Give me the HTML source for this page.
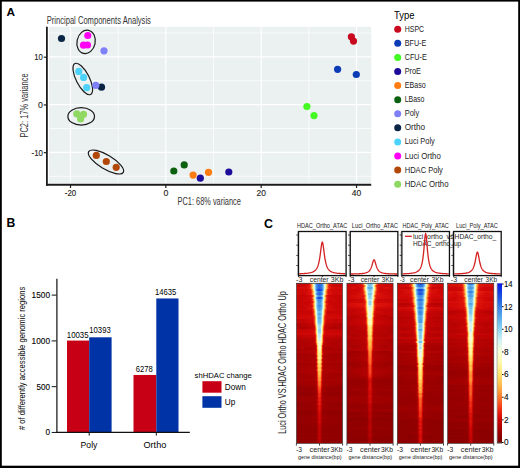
<!DOCTYPE html><html><head><meta charset="utf-8"><style>html,body{margin:0;padding:0;background:#fff;}svg{display:block;font-family:"Liberation Sans",sans-serif;}</style></head><body><svg width="520" height="468" viewBox="0 0 520 468" font-family="Liberation Sans, sans-serif"><defs><linearGradient id="g1" gradientUnits="userSpaceOnUse" x1="319.50" x2="342.60" y1="0" y2="0" spreadMethod="reflect"><stop offset="0.000" stop-color="#2b68e3"/><stop offset="0.087" stop-color="#3377e4"/><stop offset="0.152" stop-color="#5aa9ea"/><stop offset="0.195" stop-color="#9bdbf1"/><stop offset="0.216" stop-color="#d2f3f6"/><stop offset="0.238" stop-color="#f0fbdc"/><stop offset="0.281" stop-color="#ffec86"/><stop offset="0.303" stop-color="#ffd25e"/><stop offset="0.346" stop-color="#fd8531"/><stop offset="0.390" stop-color="#f33d1b"/><stop offset="0.433" stop-color="#e3180d"/><stop offset="0.519" stop-color="#d10906"/><stop offset="1.000" stop-color="#c50504"/></linearGradient><linearGradient id="g2" gradientUnits="userSpaceOnUse" x1="319.50" x2="342.60" y1="0" y2="0" spreadMethod="reflect"><stop offset="0.000" stop-color="#2b67e3"/><stop offset="0.087" stop-color="#3376e4"/><stop offset="0.152" stop-color="#5cacea"/><stop offset="0.173" stop-color="#79c4ee"/><stop offset="0.216" stop-color="#d7f4f2"/><stop offset="0.238" stop-color="#f6fdd7"/><stop offset="0.281" stop-color="#ffe87b"/><stop offset="0.325" stop-color="#fea33e"/><stop offset="0.390" stop-color="#f23619"/><stop offset="0.433" stop-color="#e2160c"/><stop offset="0.606" stop-color="#cc0605"/><stop offset="1.000" stop-color="#c70504"/></linearGradient><linearGradient id="g3" gradientUnits="userSpaceOnUse" x1="319.50" x2="342.60" y1="0" y2="0" spreadMethod="reflect"><stop offset="0.000" stop-color="#2964e3"/><stop offset="0.087" stop-color="#3274e4"/><stop offset="0.152" stop-color="#5aaaea"/><stop offset="0.195" stop-color="#a0ddf2"/><stop offset="0.216" stop-color="#d6f4f3"/><stop offset="0.238" stop-color="#f5fdd8"/><stop offset="0.281" stop-color="#ffe97d"/><stop offset="0.325" stop-color="#fea63f"/><stop offset="0.390" stop-color="#f33c1a"/><stop offset="0.433" stop-color="#e51b0e"/><stop offset="0.519" stop-color="#d70d08"/><stop offset="1.000" stop-color="#d20a07"/></linearGradient><linearGradient id="g4" gradientUnits="userSpaceOnUse" x1="319.50" x2="342.60" y1="0" y2="0" spreadMethod="reflect"><stop offset="0.000" stop-color="#1641e2"/><stop offset="0.065" stop-color="#1a4ae2"/><stop offset="0.108" stop-color="#2d6be3"/><stop offset="0.152" stop-color="#59a8ea"/><stop offset="0.173" stop-color="#81cbef"/><stop offset="0.195" stop-color="#c1ebf5"/><stop offset="0.216" stop-color="#effbdd"/><stop offset="0.238" stop-color="#fef9af"/><stop offset="0.260" stop-color="#ffe673"/><stop offset="0.281" stop-color="#ffbf4d"/><stop offset="0.325" stop-color="#f96426"/><stop offset="0.346" stop-color="#f43f1b"/><stop offset="0.390" stop-color="#e3170d"/><stop offset="0.519" stop-color="#d20a07"/><stop offset="1.000" stop-color="#c90505"/></linearGradient><linearGradient id="g5" gradientUnits="userSpaceOnUse" x1="319.50" x2="342.60" y1="0" y2="0" spreadMethod="reflect"><stop offset="0.000" stop-color="#3375e4"/><stop offset="0.065" stop-color="#387fe4"/><stop offset="0.108" stop-color="#4f9ce8"/><stop offset="0.152" stop-color="#86cfef"/><stop offset="0.173" stop-color="#beeaf4"/><stop offset="0.195" stop-color="#e9fae2"/><stop offset="0.216" stop-color="#fcfaba"/><stop offset="0.238" stop-color="#ffeb83"/><stop offset="0.260" stop-color="#ffca57"/><stop offset="0.303" stop-color="#fb722a"/><stop offset="0.346" stop-color="#ee2d15"/><stop offset="0.390" stop-color="#de130b"/><stop offset="0.606" stop-color="#d00806"/><stop offset="1.000" stop-color="#d00806"/></linearGradient><linearGradient id="g6" gradientUnits="userSpaceOnUse" x1="319.50" x2="342.60" y1="0" y2="0" spreadMethod="reflect"><stop offset="0.000" stop-color="#2862e3"/><stop offset="0.065" stop-color="#2d6ce3"/><stop offset="0.130" stop-color="#57a5e9"/><stop offset="0.152" stop-color="#78c3ed"/><stop offset="0.173" stop-color="#aae1f3"/><stop offset="0.195" stop-color="#e0f7ea"/><stop offset="0.216" stop-color="#fafbc4"/><stop offset="0.238" stop-color="#ffef8e"/><stop offset="0.260" stop-color="#ffd15d"/><stop offset="0.303" stop-color="#fd7a2c"/><stop offset="0.346" stop-color="#f13217"/><stop offset="0.390" stop-color="#e1150c"/><stop offset="0.693" stop-color="#c90505"/><stop offset="1.000" stop-color="#d50c08"/></linearGradient><linearGradient id="g7" gradientUnits="userSpaceOnUse" x1="319.50" x2="342.60" y1="0" y2="0" spreadMethod="reflect"><stop offset="0.000" stop-color="#418ae6"/><stop offset="0.065" stop-color="#4a96e7"/><stop offset="0.108" stop-color="#6dbaec"/><stop offset="0.130" stop-color="#8fd6f0"/><stop offset="0.152" stop-color="#cdf1f6"/><stop offset="0.173" stop-color="#f4fcd9"/><stop offset="0.195" stop-color="#fff7a8"/><stop offset="0.216" stop-color="#ffdf69"/><stop offset="0.260" stop-color="#fd7d2d"/><stop offset="0.281" stop-color="#f64b1f"/><stop offset="0.303" stop-color="#ec2914"/><stop offset="0.325" stop-color="#e1150c"/><stop offset="0.433" stop-color="#cc0605"/><stop offset="1.000" stop-color="#c30504"/></linearGradient><linearGradient id="g8" gradientUnits="userSpaceOnUse" x1="319.50" x2="342.60" y1="0" y2="0" spreadMethod="reflect"><stop offset="0.000" stop-color="#1948e2"/><stop offset="0.065" stop-color="#2055e2"/><stop offset="0.108" stop-color="#3980e4"/><stop offset="0.130" stop-color="#53a1e9"/><stop offset="0.152" stop-color="#7bc6ee"/><stop offset="0.173" stop-color="#bce9f4"/><stop offset="0.195" stop-color="#f0fbdc"/><stop offset="0.216" stop-color="#fff7a8"/><stop offset="0.238" stop-color="#ffdd68"/><stop offset="0.260" stop-color="#ffae43"/><stop offset="0.303" stop-color="#f54a1e"/><stop offset="0.325" stop-color="#ec2914"/><stop offset="0.346" stop-color="#e2160c"/><stop offset="0.433" stop-color="#cf0706"/><stop offset="1.000" stop-color="#c30504"/></linearGradient><linearGradient id="g9" gradientUnits="userSpaceOnUse" x1="319.50" x2="342.60" y1="0" y2="0" spreadMethod="reflect"><stop offset="0.000" stop-color="#3c83e5"/><stop offset="0.065" stop-color="#458ee6"/><stop offset="0.108" stop-color="#64b2eb"/><stop offset="0.130" stop-color="#84cdef"/><stop offset="0.152" stop-color="#bce9f4"/><stop offset="0.173" stop-color="#ebfae1"/><stop offset="0.195" stop-color="#fdf9b4"/><stop offset="0.216" stop-color="#ffe777"/><stop offset="0.238" stop-color="#ffbe4d"/><stop offset="0.281" stop-color="#f75822"/><stop offset="0.303" stop-color="#f03117"/><stop offset="0.325" stop-color="#e41a0d"/><stop offset="0.390" stop-color="#d00806"/><stop offset="1.000" stop-color="#c80504"/></linearGradient><linearGradient id="g10" gradientUnits="userSpaceOnUse" x1="319.50" x2="342.60" y1="0" y2="0" spreadMethod="reflect"><stop offset="0.000" stop-color="#458fe6"/><stop offset="0.065" stop-color="#509ce8"/><stop offset="0.087" stop-color="#5dadea"/><stop offset="0.108" stop-color="#79c4ee"/><stop offset="0.152" stop-color="#def6eb"/><stop offset="0.173" stop-color="#fafbc3"/><stop offset="0.195" stop-color="#ffec86"/><stop offset="0.216" stop-color="#ffc653"/><stop offset="0.260" stop-color="#f75822"/><stop offset="0.281" stop-color="#ee2d15"/><stop offset="0.303" stop-color="#e1150c"/><stop offset="0.390" stop-color="#c90505"/><stop offset="0.606" stop-color="#c80504"/><stop offset="0.693" stop-color="#cc0605"/><stop offset="1.000" stop-color="#bf0403"/></linearGradient><linearGradient id="g11" gradientUnits="userSpaceOnUse" x1="319.50" x2="342.60" y1="0" y2="0" spreadMethod="reflect"><stop offset="0.000" stop-color="#4b97e7"/><stop offset="0.065" stop-color="#54a2e9"/><stop offset="0.108" stop-color="#76c2ed"/><stop offset="0.130" stop-color="#9adaf1"/><stop offset="0.152" stop-color="#d3f3f5"/><stop offset="0.173" stop-color="#f6fdd7"/><stop offset="0.195" stop-color="#fff7a8"/><stop offset="0.216" stop-color="#ffe16b"/><stop offset="0.238" stop-color="#ffb646"/><stop offset="0.281" stop-color="#f65120"/><stop offset="0.303" stop-color="#ee2d15"/><stop offset="0.325" stop-color="#e3170d"/><stop offset="0.433" stop-color="#cd0605"/><stop offset="0.693" stop-color="#c50504"/><stop offset="1.000" stop-color="#cd0605"/></linearGradient><linearGradient id="g12" gradientUnits="userSpaceOnUse" x1="319.50" x2="342.60" y1="0" y2="0" spreadMethod="reflect"><stop offset="0.000" stop-color="#3f88e5"/><stop offset="0.065" stop-color="#4994e7"/><stop offset="0.108" stop-color="#6fbcec"/><stop offset="0.130" stop-color="#97d9f1"/><stop offset="0.152" stop-color="#d6f4f3"/><stop offset="0.173" stop-color="#f8fccf"/><stop offset="0.195" stop-color="#fff297"/><stop offset="0.216" stop-color="#ffd15d"/><stop offset="0.260" stop-color="#fa6927"/><stop offset="0.281" stop-color="#f33a1a"/><stop offset="0.303" stop-color="#e61d0f"/><stop offset="0.346" stop-color="#d30b07"/><stop offset="0.823" stop-color="#c30504"/><stop offset="1.000" stop-color="#c20504"/></linearGradient><linearGradient id="g13" gradientUnits="userSpaceOnUse" x1="319.50" x2="342.60" y1="0" y2="0" spreadMethod="reflect"><stop offset="0.000" stop-color="#4b96e7"/><stop offset="0.065" stop-color="#54a2e9"/><stop offset="0.108" stop-color="#79c4ee"/><stop offset="0.130" stop-color="#a1ddf2"/><stop offset="0.152" stop-color="#d8f5f1"/><stop offset="0.173" stop-color="#f8fccf"/><stop offset="0.195" stop-color="#fff39b"/><stop offset="0.216" stop-color="#ffd662"/><stop offset="0.260" stop-color="#fc742a"/><stop offset="0.281" stop-color="#f5451d"/><stop offset="0.303" stop-color="#ea2612"/><stop offset="0.346" stop-color="#d80e09"/><stop offset="0.693" stop-color="#c80504"/><stop offset="1.000" stop-color="#cc0605"/></linearGradient><linearGradient id="g14" gradientUnits="userSpaceOnUse" x1="319.50" x2="342.60" y1="0" y2="0" spreadMethod="reflect"><stop offset="0.000" stop-color="#519ee8"/><stop offset="0.065" stop-color="#5dadea"/><stop offset="0.087" stop-color="#71beed"/><stop offset="0.108" stop-color="#92d7f0"/><stop offset="0.130" stop-color="#cef1f6"/><stop offset="0.152" stop-color="#f6fdd7"/><stop offset="0.173" stop-color="#fff5a1"/><stop offset="0.195" stop-color="#ffd762"/><stop offset="0.216" stop-color="#fea33e"/><stop offset="0.260" stop-color="#f33b1a"/><stop offset="0.281" stop-color="#e61e0f"/><stop offset="0.346" stop-color="#d20907"/><stop offset="1.000" stop-color="#c60504"/></linearGradient><linearGradient id="g15" gradientUnits="userSpaceOnUse" x1="319.50" x2="342.60" y1="0" y2="0" spreadMethod="reflect"><stop offset="0.000" stop-color="#69b7ec"/><stop offset="0.065" stop-color="#78c3ee"/><stop offset="0.087" stop-color="#8cd4f0"/><stop offset="0.108" stop-color="#b8e7f4"/><stop offset="0.130" stop-color="#e3f8e7"/><stop offset="0.152" stop-color="#fafbc1"/><stop offset="0.173" stop-color="#ffec85"/><stop offset="0.195" stop-color="#ffc552"/><stop offset="0.238" stop-color="#f75321"/><stop offset="0.260" stop-color="#ec2813"/><stop offset="0.281" stop-color="#dd120a"/><stop offset="0.346" stop-color="#c80504"/><stop offset="1.000" stop-color="#c50504"/></linearGradient><linearGradient id="g16" gradientUnits="userSpaceOnUse" x1="319.50" x2="342.60" y1="0" y2="0" spreadMethod="reflect"><stop offset="0.000" stop-color="#57a6e9"/><stop offset="0.065" stop-color="#66b5eb"/><stop offset="0.087" stop-color="#7cc7ee"/><stop offset="0.108" stop-color="#a4dff2"/><stop offset="0.130" stop-color="#dcf6ee"/><stop offset="0.152" stop-color="#f9fbc6"/><stop offset="0.173" stop-color="#ffed89"/><stop offset="0.195" stop-color="#ffc553"/><stop offset="0.238" stop-color="#f75321"/><stop offset="0.260" stop-color="#ec2914"/><stop offset="0.281" stop-color="#df140b"/><stop offset="0.346" stop-color="#cd0605"/><stop offset="1.000" stop-color="#c90605"/></linearGradient><linearGradient id="g17" gradientUnits="userSpaceOnUse" x1="319.50" x2="342.60" y1="0" y2="0" spreadMethod="reflect"><stop offset="0.000" stop-color="#68b6eb"/><stop offset="0.043" stop-color="#6ebbec"/><stop offset="0.065" stop-color="#7cc7ee"/><stop offset="0.087" stop-color="#9cdbf1"/><stop offset="0.108" stop-color="#d4f4f4"/><stop offset="0.130" stop-color="#f7fcd2"/><stop offset="0.152" stop-color="#fff196"/><stop offset="0.173" stop-color="#ffcc59"/><stop offset="0.195" stop-color="#fe9237"/><stop offset="0.216" stop-color="#f75822"/><stop offset="0.238" stop-color="#ee2d15"/><stop offset="0.260" stop-color="#e2160c"/><stop offset="0.346" stop-color="#d20a07"/><stop offset="1.000" stop-color="#cd0605"/></linearGradient><linearGradient id="g18" gradientUnits="userSpaceOnUse" x1="319.50" x2="342.60" y1="0" y2="0" spreadMethod="reflect"><stop offset="0.000" stop-color="#5cacea"/><stop offset="0.043" stop-color="#64b2eb"/><stop offset="0.065" stop-color="#75c1ed"/><stop offset="0.087" stop-color="#98d9f1"/><stop offset="0.108" stop-color="#d7f4f2"/><stop offset="0.130" stop-color="#f9fbc7"/><stop offset="0.152" stop-color="#ffea81"/><stop offset="0.173" stop-color="#ffba49"/><stop offset="0.216" stop-color="#f43e1b"/><stop offset="0.238" stop-color="#e61d0f"/><stop offset="0.303" stop-color="#d30a07"/><stop offset="0.606" stop-color="#d10906"/><stop offset="1.000" stop-color="#d30a07"/></linearGradient><linearGradient id="g19" gradientUnits="userSpaceOnUse" x1="319.50" x2="342.60" y1="0" y2="0" spreadMethod="reflect"><stop offset="0.000" stop-color="#6bb8ec"/><stop offset="0.043" stop-color="#71beed"/><stop offset="0.065" stop-color="#81caef"/><stop offset="0.087" stop-color="#a4dff2"/><stop offset="0.108" stop-color="#daf5ef"/><stop offset="0.130" stop-color="#f9fbc8"/><stop offset="0.152" stop-color="#ffec87"/><stop offset="0.173" stop-color="#ffc14f"/><stop offset="0.195" stop-color="#fd822f"/><stop offset="0.216" stop-color="#f4441d"/><stop offset="0.238" stop-color="#e71f0f"/><stop offset="0.281" stop-color="#d20907"/><stop offset="0.693" stop-color="#c10404"/><stop offset="1.000" stop-color="#c40504"/></linearGradient><linearGradient id="g20" gradientUnits="userSpaceOnUse" x1="319.50" x2="342.60" y1="0" y2="0" spreadMethod="reflect"><stop offset="0.000" stop-color="#6ebbec"/><stop offset="0.043" stop-color="#75c1ed"/><stop offset="0.065" stop-color="#84ceef"/><stop offset="0.087" stop-color="#a9e1f3"/><stop offset="0.108" stop-color="#dcf6ed"/><stop offset="0.130" stop-color="#fafbc5"/><stop offset="0.152" stop-color="#ffeb82"/><stop offset="0.173" stop-color="#ffbd4c"/><stop offset="0.195" stop-color="#fd7d2d"/><stop offset="0.216" stop-color="#f43f1b"/><stop offset="0.238" stop-color="#e41a0e"/><stop offset="0.281" stop-color="#cf0706"/><stop offset="0.693" stop-color="#c30504"/><stop offset="1.000" stop-color="#c90505"/></linearGradient><linearGradient id="g21" gradientUnits="userSpaceOnUse" x1="319.50" x2="342.60" y1="0" y2="0" spreadMethod="reflect"><stop offset="0.000" stop-color="#82ccef"/><stop offset="0.043" stop-color="#89d2f0"/><stop offset="0.065" stop-color="#9edcf2"/><stop offset="0.087" stop-color="#c7eef5"/><stop offset="0.108" stop-color="#ecfae0"/><stop offset="0.130" stop-color="#fdf9b2"/><stop offset="0.152" stop-color="#ffe26c"/><stop offset="0.173" stop-color="#fea841"/><stop offset="0.216" stop-color="#ee2c15"/><stop offset="0.238" stop-color="#da1009"/><stop offset="0.281" stop-color="#c60504"/><stop offset="1.000" stop-color="#b20202"/></linearGradient><linearGradient id="g22" gradientUnits="userSpaceOnUse" x1="319.50" x2="342.60" y1="0" y2="0" spreadMethod="reflect"><stop offset="0.000" stop-color="#9ddbf1"/><stop offset="0.043" stop-color="#a8e0f2"/><stop offset="0.065" stop-color="#c1ecf5"/><stop offset="0.087" stop-color="#e1f7e9"/><stop offset="0.108" stop-color="#f9fbc6"/><stop offset="0.130" stop-color="#ffec87"/><stop offset="0.152" stop-color="#ffbf4e"/><stop offset="0.173" stop-color="#fd7b2c"/><stop offset="0.195" stop-color="#f23518"/><stop offset="0.216" stop-color="#dc110a"/><stop offset="0.260" stop-color="#c20504"/><stop offset="0.606" stop-color="#b90303"/><stop offset="1.000" stop-color="#b00202"/></linearGradient><linearGradient id="g23" gradientUnits="userSpaceOnUse" x1="319.50" x2="342.60" y1="0" y2="0" spreadMethod="reflect"><stop offset="0.000" stop-color="#9cdbf1"/><stop offset="0.043" stop-color="#a9e1f3"/><stop offset="0.065" stop-color="#c8eef5"/><stop offset="0.087" stop-color="#e9f9e2"/><stop offset="0.108" stop-color="#fdf9b5"/><stop offset="0.130" stop-color="#ffe16b"/><stop offset="0.152" stop-color="#fea03d"/><stop offset="0.173" stop-color="#f75421"/><stop offset="0.195" stop-color="#e51c0e"/><stop offset="0.216" stop-color="#d10906"/><stop offset="0.281" stop-color="#bd0403"/><stop offset="0.693" stop-color="#ab0201"/><stop offset="1.000" stop-color="#b90303"/></linearGradient><linearGradient id="g24" gradientUnits="userSpaceOnUse" x1="319.50" x2="342.60" y1="0" y2="0" spreadMethod="reflect"><stop offset="0.000" stop-color="#8cd4f0"/><stop offset="0.043" stop-color="#9cdbf1"/><stop offset="0.065" stop-color="#c0ebf4"/><stop offset="0.087" stop-color="#eafae2"/><stop offset="0.108" stop-color="#fef8ae"/><stop offset="0.130" stop-color="#ffd561"/><stop offset="0.152" stop-color="#fe8f35"/><stop offset="0.173" stop-color="#f4451d"/><stop offset="0.195" stop-color="#e3180d"/><stop offset="0.238" stop-color="#cc0605"/><stop offset="0.823" stop-color="#c20404"/><stop offset="1.000" stop-color="#c20504"/></linearGradient><linearGradient id="g25" gradientUnits="userSpaceOnUse" x1="319.50" x2="342.60" y1="0" y2="0" spreadMethod="reflect"><stop offset="0.000" stop-color="#93d7f1"/><stop offset="0.043" stop-color="#a2def2"/><stop offset="0.065" stop-color="#c2ecf5"/><stop offset="0.087" stop-color="#e7f9e4"/><stop offset="0.108" stop-color="#fdf9b6"/><stop offset="0.130" stop-color="#ffe16b"/><stop offset="0.152" stop-color="#fea23e"/><stop offset="0.173" stop-color="#f85b23"/><stop offset="0.195" stop-color="#eb2713"/><stop offset="0.216" stop-color="#dc120a"/><stop offset="0.325" stop-color="#cd0605"/><stop offset="1.000" stop-color="#c70504"/></linearGradient><linearGradient id="g26" gradientUnits="userSpaceOnUse" x1="319.50" x2="342.60" y1="0" y2="0" spreadMethod="reflect"><stop offset="0.000" stop-color="#b8e8f4"/><stop offset="0.043" stop-color="#c8eef5"/><stop offset="0.065" stop-color="#dff7eb"/><stop offset="0.087" stop-color="#f8fccd"/><stop offset="0.108" stop-color="#fff091"/><stop offset="0.130" stop-color="#ffc452"/><stop offset="0.152" stop-color="#fd7e2e"/><stop offset="0.173" stop-color="#f33b1a"/><stop offset="0.195" stop-color="#e2170c"/><stop offset="0.260" stop-color="#cf0706"/><stop offset="1.000" stop-color="#ce0705"/></linearGradient><linearGradient id="g27" gradientUnits="userSpaceOnUse" x1="319.50" x2="342.60" y1="0" y2="0" spreadMethod="reflect"><stop offset="0.000" stop-color="#b7e7f4"/><stop offset="0.022" stop-color="#bae8f4"/><stop offset="0.043" stop-color="#ccf1f6"/><stop offset="0.065" stop-color="#e7f9e4"/><stop offset="0.087" stop-color="#fcf9b7"/><stop offset="0.108" stop-color="#ffde69"/><stop offset="0.130" stop-color="#fe9538"/><stop offset="0.152" stop-color="#f4441d"/><stop offset="0.173" stop-color="#e1150c"/><stop offset="0.216" stop-color="#cb0605"/><stop offset="1.000" stop-color="#be0403"/></linearGradient><linearGradient id="g28" gradientUnits="userSpaceOnUse" x1="319.50" x2="342.60" y1="0" y2="0" spreadMethod="reflect"><stop offset="0.000" stop-color="#caf0f5"/><stop offset="0.043" stop-color="#d7f4f1"/><stop offset="0.065" stop-color="#ecfae0"/><stop offset="0.087" stop-color="#fcfab8"/><stop offset="0.108" stop-color="#ffe46e"/><stop offset="0.130" stop-color="#fea03d"/><stop offset="0.152" stop-color="#f64e20"/><stop offset="0.173" stop-color="#e2160c"/><stop offset="0.195" stop-color="#cd0605"/><stop offset="0.281" stop-color="#bd0403"/><stop offset="1.000" stop-color="#b70303"/></linearGradient><linearGradient id="g29" gradientUnits="userSpaceOnUse" x1="319.50" x2="342.60" y1="0" y2="0" spreadMethod="reflect"><stop offset="0.000" stop-color="#dcf6ee"/><stop offset="0.043" stop-color="#e4f8e6"/><stop offset="0.065" stop-color="#f6fdd5"/><stop offset="0.087" stop-color="#fff8ac"/><stop offset="0.108" stop-color="#ffdc67"/><stop offset="0.130" stop-color="#fe993a"/><stop offset="0.152" stop-color="#f5481e"/><stop offset="0.173" stop-color="#de130b"/><stop offset="0.195" stop-color="#c90505"/><stop offset="0.260" stop-color="#b80303"/><stop offset="1.000" stop-color="#b00202"/></linearGradient><linearGradient id="g30" gradientUnits="userSpaceOnUse" x1="319.50" x2="342.60" y1="0" y2="0" spreadMethod="reflect"><stop offset="0.000" stop-color="#f2fcdb"/><stop offset="0.043" stop-color="#f7fdd3"/><stop offset="0.065" stop-color="#fbfabf"/><stop offset="0.087" stop-color="#fff297"/><stop offset="0.108" stop-color="#ffd35f"/><stop offset="0.130" stop-color="#fe9538"/><stop offset="0.152" stop-color="#f5491e"/><stop offset="0.173" stop-color="#df140b"/><stop offset="0.195" stop-color="#c90505"/><stop offset="0.260" stop-color="#b50302"/><stop offset="1.000" stop-color="#ae0202"/></linearGradient><linearGradient id="g31" gradientUnits="userSpaceOnUse" x1="319.50" x2="342.60" y1="0" y2="0" spreadMethod="reflect"><stop offset="0.000" stop-color="#f6fdd5"/><stop offset="0.043" stop-color="#f9fbc9"/><stop offset="0.065" stop-color="#fef9af"/><stop offset="0.087" stop-color="#ffe776"/><stop offset="0.108" stop-color="#ffb245"/><stop offset="0.130" stop-color="#f96025"/><stop offset="0.152" stop-color="#e41b0e"/><stop offset="0.173" stop-color="#c90505"/><stop offset="0.216" stop-color="#b50302"/><stop offset="0.693" stop-color="#ad0201"/><stop offset="1.000" stop-color="#b50302"/></linearGradient><linearGradient id="g32" gradientUnits="userSpaceOnUse" x1="319.50" x2="342.60" y1="0" y2="0" spreadMethod="reflect"><stop offset="0.000" stop-color="#f6fdd5"/><stop offset="0.022" stop-color="#f7fcd2"/><stop offset="0.043" stop-color="#fafbc2"/><stop offset="0.065" stop-color="#fff195"/><stop offset="0.087" stop-color="#ffc553"/><stop offset="0.108" stop-color="#fb6c28"/><stop offset="0.130" stop-color="#e4190d"/><stop offset="0.152" stop-color="#c60504"/><stop offset="0.195" stop-color="#b50302"/><stop offset="1.000" stop-color="#ae0202"/></linearGradient><linearGradient id="g33" gradientUnits="userSpaceOnUse" x1="319.50" x2="342.60" y1="0" y2="0" spreadMethod="reflect"><stop offset="0.000" stop-color="#f8fcce"/><stop offset="0.022" stop-color="#f8fccc"/><stop offset="0.043" stop-color="#fbfabd"/><stop offset="0.065" stop-color="#fff092"/><stop offset="0.087" stop-color="#ffc654"/><stop offset="0.108" stop-color="#fb7029"/><stop offset="0.130" stop-color="#e41a0d"/><stop offset="0.152" stop-color="#c20504"/><stop offset="0.195" stop-color="#ad0201"/><stop offset="0.519" stop-color="#a50101"/><stop offset="0.693" stop-color="#b30202"/><stop offset="1.000" stop-color="#a90101"/></linearGradient><linearGradient id="g34" gradientUnits="userSpaceOnUse" x1="319.50" x2="342.60" y1="0" y2="0" spreadMethod="reflect"><stop offset="0.000" stop-color="#fafbc5"/><stop offset="0.022" stop-color="#fafbc2"/><stop offset="0.043" stop-color="#fdf9b2"/><stop offset="0.065" stop-color="#ffea81"/><stop offset="0.087" stop-color="#ffb747"/><stop offset="0.108" stop-color="#f85923"/><stop offset="0.130" stop-color="#dc110a"/><stop offset="0.152" stop-color="#c00404"/><stop offset="0.195" stop-color="#b00202"/><stop offset="1.000" stop-color="#a30000"/></linearGradient><linearGradient id="g35" gradientUnits="userSpaceOnUse" x1="319.50" x2="342.60" y1="0" y2="0" spreadMethod="reflect"><stop offset="0.000" stop-color="#fff7a7"/><stop offset="0.022" stop-color="#fff6a5"/><stop offset="0.043" stop-color="#fff194"/><stop offset="0.065" stop-color="#ffe26d"/><stop offset="0.087" stop-color="#ffb245"/><stop offset="0.108" stop-color="#f96325"/><stop offset="0.130" stop-color="#e4190d"/><stop offset="0.152" stop-color="#c70504"/><stop offset="0.195" stop-color="#b30302"/><stop offset="0.693" stop-color="#b00202"/><stop offset="1.000" stop-color="#b20202"/></linearGradient><linearGradient id="g36" gradientUnits="userSpaceOnUse" x1="319.50" x2="342.60" y1="0" y2="0" spreadMethod="reflect"><stop offset="0.000" stop-color="#fff39a"/><stop offset="0.043" stop-color="#ffee8b"/><stop offset="0.065" stop-color="#ffe16b"/><stop offset="0.087" stop-color="#ffba49"/><stop offset="0.108" stop-color="#fc752b"/><stop offset="0.130" stop-color="#ec2813"/><stop offset="0.152" stop-color="#cc0605"/><stop offset="0.195" stop-color="#ad0201"/><stop offset="1.000" stop-color="#a00000"/></linearGradient><linearGradient id="g37" gradientUnits="userSpaceOnUse" x1="319.50" x2="342.60" y1="0" y2="0" spreadMethod="reflect"><stop offset="0.000" stop-color="#fff196"/><stop offset="0.022" stop-color="#fff194"/><stop offset="0.043" stop-color="#ffea81"/><stop offset="0.065" stop-color="#ffd15e"/><stop offset="0.087" stop-color="#fe9538"/><stop offset="0.108" stop-color="#f33d1b"/><stop offset="0.130" stop-color="#d10906"/><stop offset="0.152" stop-color="#b60302"/><stop offset="0.216" stop-color="#a70101"/><stop offset="0.823" stop-color="#a40100"/><stop offset="1.000" stop-color="#a60101"/></linearGradient><linearGradient id="g38" gradientUnits="userSpaceOnUse" x1="319.50" x2="342.60" y1="0" y2="0" spreadMethod="reflect"><stop offset="0.000" stop-color="#fef9b1"/><stop offset="0.022" stop-color="#fef9af"/><stop offset="0.043" stop-color="#fff49f"/><stop offset="0.065" stop-color="#ffe674"/><stop offset="0.087" stop-color="#ffb647"/><stop offset="0.108" stop-color="#f96225"/><stop offset="0.130" stop-color="#e1150c"/><stop offset="0.152" stop-color="#c10404"/><stop offset="0.195" stop-color="#ad0201"/><stop offset="1.000" stop-color="#a20000"/></linearGradient><linearGradient id="g39" gradientUnits="userSpaceOnUse" x1="319.50" x2="342.60" y1="0" y2="0" spreadMethod="reflect"><stop offset="0.000" stop-color="#ffe87a"/><stop offset="0.022" stop-color="#ffe777"/><stop offset="0.043" stop-color="#ffdc67"/><stop offset="0.065" stop-color="#ffba49"/><stop offset="0.087" stop-color="#fb722a"/><stop offset="0.108" stop-color="#e71f10"/><stop offset="0.130" stop-color="#c40504"/><stop offset="0.152" stop-color="#b10202"/><stop offset="0.390" stop-color="#a50101"/><stop offset="1.000" stop-color="#a90101"/></linearGradient><linearGradient id="g40" gradientUnits="userSpaceOnUse" x1="319.50" x2="342.60" y1="0" y2="0" spreadMethod="reflect"><stop offset="0.000" stop-color="#fff091"/><stop offset="0.022" stop-color="#ffef8f"/><stop offset="0.043" stop-color="#ffe97e"/><stop offset="0.065" stop-color="#ffd35f"/><stop offset="0.087" stop-color="#fe9d3b"/><stop offset="0.108" stop-color="#f64b1f"/><stop offset="0.130" stop-color="#d90f09"/><stop offset="0.152" stop-color="#be0403"/><stop offset="0.195" stop-color="#ac0201"/><stop offset="1.000" stop-color="#a70101"/></linearGradient><linearGradient id="g41" gradientUnits="userSpaceOnUse" x1="319.50" x2="342.60" y1="0" y2="0" spreadMethod="reflect"><stop offset="0.000" stop-color="#ffdc67"/><stop offset="0.043" stop-color="#ffcc59"/><stop offset="0.065" stop-color="#fea43f"/><stop offset="0.087" stop-color="#f85a23"/><stop offset="0.108" stop-color="#de130b"/><stop offset="0.130" stop-color="#bd0403"/><stop offset="0.173" stop-color="#a90101"/><stop offset="0.823" stop-color="#a10000"/><stop offset="1.000" stop-color="#a20000"/></linearGradient><linearGradient id="g42" gradientUnits="userSpaceOnUse" x1="319.50" x2="342.60" y1="0" y2="0" spreadMethod="reflect"><stop offset="0.000" stop-color="#ffd964"/><stop offset="0.043" stop-color="#ffce5b"/><stop offset="0.065" stop-color="#ffb747"/><stop offset="0.087" stop-color="#fd8430"/><stop offset="0.108" stop-color="#f33c1a"/><stop offset="0.130" stop-color="#d60d08"/><stop offset="0.152" stop-color="#bb0403"/><stop offset="0.195" stop-color="#a80101"/><stop offset="1.000" stop-color="#a40100"/></linearGradient><linearGradient id="g43" gradientUnits="userSpaceOnUse" x1="319.50" x2="342.60" y1="0" y2="0" spreadMethod="reflect"><stop offset="0.000" stop-color="#ffd15d"/><stop offset="0.022" stop-color="#ffcf5b"/><stop offset="0.043" stop-color="#ffc04f"/><stop offset="0.065" stop-color="#fe9437"/><stop offset="0.087" stop-color="#f5481e"/><stop offset="0.108" stop-color="#d70e08"/><stop offset="0.130" stop-color="#bb0403"/><stop offset="0.173" stop-color="#ac0201"/><stop offset="1.000" stop-color="#a30000"/></linearGradient><linearGradient id="g44" gradientUnits="userSpaceOnUse" x1="319.50" x2="342.60" y1="0" y2="0" spreadMethod="reflect"><stop offset="0.000" stop-color="#ffd35f"/><stop offset="0.043" stop-color="#ffc855"/><stop offset="0.065" stop-color="#ffad43"/><stop offset="0.087" stop-color="#fc782c"/><stop offset="0.108" stop-color="#f03117"/><stop offset="0.130" stop-color="#d20a07"/><stop offset="0.152" stop-color="#bb0403"/><stop offset="0.216" stop-color="#ac0201"/><stop offset="0.693" stop-color="#ab0101"/><stop offset="1.000" stop-color="#a10000"/></linearGradient><linearGradient id="g45" gradientUnits="userSpaceOnUse" x1="319.50" x2="342.60" y1="0" y2="0" spreadMethod="reflect"><stop offset="0.000" stop-color="#ffc250"/><stop offset="0.043" stop-color="#ffb345"/><stop offset="0.065" stop-color="#fe8c34"/><stop offset="0.087" stop-color="#f54a1e"/><stop offset="0.108" stop-color="#dc110a"/><stop offset="0.130" stop-color="#bf0403"/><stop offset="0.173" stop-color="#ac0201"/><stop offset="1.000" stop-color="#a90101"/></linearGradient><linearGradient id="g46" gradientUnits="userSpaceOnUse" x1="319.50" x2="342.60" y1="0" y2="0" spreadMethod="reflect"><stop offset="0.000" stop-color="#ffc452"/><stop offset="0.022" stop-color="#ffc250"/><stop offset="0.043" stop-color="#ffb245"/><stop offset="0.065" stop-color="#fd8530"/><stop offset="0.087" stop-color="#f33a1a"/><stop offset="0.108" stop-color="#d20a07"/><stop offset="0.130" stop-color="#b80303"/><stop offset="0.195" stop-color="#aa0101"/><stop offset="1.000" stop-color="#9e0000"/></linearGradient><linearGradient id="g47" gradientUnits="userSpaceOnUse" x1="319.50" x2="342.60" y1="0" y2="0" spreadMethod="reflect"><stop offset="0.000" stop-color="#ffb446"/><stop offset="0.022" stop-color="#ffb145"/><stop offset="0.043" stop-color="#fea13d"/><stop offset="0.065" stop-color="#fd7a2c"/><stop offset="0.087" stop-color="#f23619"/><stop offset="0.108" stop-color="#d20a07"/><stop offset="0.130" stop-color="#b70303"/><stop offset="0.173" stop-color="#a60101"/><stop offset="1.000" stop-color="#a20000"/></linearGradient><linearGradient id="g48" gradientUnits="userSpaceOnUse" x1="319.50" x2="342.60" y1="0" y2="0" spreadMethod="reflect"><stop offset="0.000" stop-color="#fea03d"/><stop offset="0.022" stop-color="#fe9e3c"/><stop offset="0.043" stop-color="#fe8e35"/><stop offset="0.065" stop-color="#fa6626"/><stop offset="0.087" stop-color="#ed2a14"/><stop offset="0.108" stop-color="#cd0605"/><stop offset="0.130" stop-color="#b50302"/><stop offset="0.195" stop-color="#a70101"/><stop offset="0.693" stop-color="#a00000"/><stop offset="1.000" stop-color="#a90101"/></linearGradient><linearGradient id="g49" gradientUnits="userSpaceOnUse" x1="319.50" x2="342.60" y1="0" y2="0" spreadMethod="reflect"><stop offset="0.000" stop-color="#fe9d3c"/><stop offset="0.043" stop-color="#fe8e35"/><stop offset="0.065" stop-color="#fa6b28"/><stop offset="0.087" stop-color="#f13217"/><stop offset="0.108" stop-color="#d40b07"/><stop offset="0.130" stop-color="#ba0303"/><stop offset="0.173" stop-color="#a90101"/><stop offset="1.000" stop-color="#a50101"/></linearGradient><linearGradient id="g50" gradientUnits="userSpaceOnUse" x1="319.50" x2="342.60" y1="0" y2="0" spreadMethod="reflect"><stop offset="0.000" stop-color="#fd8b34"/><stop offset="0.022" stop-color="#fd8932"/><stop offset="0.043" stop-color="#fc782c"/><stop offset="0.065" stop-color="#f64b1f"/><stop offset="0.087" stop-color="#e1150c"/><stop offset="0.108" stop-color="#c00404"/><stop offset="0.130" stop-color="#ac0201"/><stop offset="0.281" stop-color="#a10000"/><stop offset="0.823" stop-color="#a30000"/><stop offset="1.000" stop-color="#a50101"/></linearGradient><linearGradient id="g51" gradientUnits="userSpaceOnUse" x1="319.50" x2="342.60" y1="0" y2="0" spreadMethod="reflect"><stop offset="0.000" stop-color="#fd8530"/><stop offset="0.022" stop-color="#fd832f"/><stop offset="0.043" stop-color="#fc732a"/><stop offset="0.087" stop-color="#e41a0e"/><stop offset="0.108" stop-color="#c50504"/><stop offset="0.152" stop-color="#a50101"/><stop offset="1.000" stop-color="#a00000"/></linearGradient><linearGradient id="g52" gradientUnits="userSpaceOnUse" x1="319.50" x2="342.60" y1="0" y2="0" spreadMethod="reflect"><stop offset="0.000" stop-color="#fc742a"/><stop offset="0.043" stop-color="#f96225"/><stop offset="0.065" stop-color="#f43e1b"/><stop offset="0.087" stop-color="#df140b"/><stop offset="0.108" stop-color="#c00404"/><stop offset="0.152" stop-color="#a10000"/><stop offset="1.000" stop-color="#980000"/></linearGradient><linearGradient id="g53" gradientUnits="userSpaceOnUse" x1="319.50" x2="342.60" y1="0" y2="0" spreadMethod="reflect"><stop offset="0.000" stop-color="#f75722"/><stop offset="0.043" stop-color="#f5481e"/><stop offset="0.065" stop-color="#ed2b14"/><stop offset="0.087" stop-color="#d70d08"/><stop offset="0.130" stop-color="#a70101"/><stop offset="0.195" stop-color="#990000"/><stop offset="0.823" stop-color="#940000"/><stop offset="1.000" stop-color="#960000"/></linearGradient><linearGradient id="g54" gradientUnits="userSpaceOnUse" x1="319.50" x2="342.60" y1="0" y2="0" spreadMethod="reflect"><stop offset="0.000" stop-color="#f64d1f"/><stop offset="0.043" stop-color="#f33d1a"/><stop offset="0.065" stop-color="#e72010"/><stop offset="0.087" stop-color="#ce0705"/><stop offset="0.130" stop-color="#a10000"/><stop offset="0.346" stop-color="#960000"/><stop offset="1.000" stop-color="#960000"/></linearGradient><linearGradient id="g55" gradientUnits="userSpaceOnUse" x1="319.50" x2="342.60" y1="0" y2="0" spreadMethod="reflect"><stop offset="0.000" stop-color="#f4431c"/><stop offset="0.043" stop-color="#f13317"/><stop offset="0.087" stop-color="#c90505"/><stop offset="0.130" stop-color="#a00000"/><stop offset="0.519" stop-color="#960000"/><stop offset="1.000" stop-color="#950000"/></linearGradient><linearGradient id="g56" gradientUnits="userSpaceOnUse" x1="319.50" x2="342.60" y1="0" y2="0" spreadMethod="reflect"><stop offset="0.000" stop-color="#ef2e16"/><stop offset="0.043" stop-color="#e72010"/><stop offset="0.087" stop-color="#bb0403"/><stop offset="0.108" stop-color="#a40100"/><stop offset="0.173" stop-color="#960000"/><stop offset="0.693" stop-color="#8f0000"/><stop offset="1.000" stop-color="#960000"/></linearGradient><linearGradient id="g57" gradientUnits="userSpaceOnUse" x1="319.50" x2="342.60" y1="0" y2="0" spreadMethod="reflect"><stop offset="0.000" stop-color="#ef2f16"/><stop offset="0.043" stop-color="#ea2512"/><stop offset="0.087" stop-color="#c80504"/><stop offset="0.130" stop-color="#a20000"/><stop offset="0.281" stop-color="#970000"/><stop offset="1.000" stop-color="#980000"/></linearGradient><linearGradient id="g58" gradientUnits="userSpaceOnUse" x1="319.50" x2="342.60" y1="0" y2="0" spreadMethod="reflect"><stop offset="0.000" stop-color="#e92311"/><stop offset="0.043" stop-color="#e2160c"/><stop offset="0.087" stop-color="#b80303"/><stop offset="0.130" stop-color="#9d0000"/><stop offset="1.000" stop-color="#9b0000"/></linearGradient><linearGradient id="g59" gradientUnits="userSpaceOnUse" x1="319.50" x2="342.60" y1="0" y2="0" spreadMethod="reflect"><stop offset="0.000" stop-color="#e72010"/><stop offset="0.043" stop-color="#e3170c"/><stop offset="0.108" stop-color="#b10202"/><stop offset="0.152" stop-color="#9f0000"/><stop offset="1.000" stop-color="#9a0000"/></linearGradient><linearGradient id="g60" gradientUnits="userSpaceOnUse" x1="319.50" x2="342.60" y1="0" y2="0" spreadMethod="reflect"><stop offset="0.000" stop-color="#e41a0e"/><stop offset="0.043" stop-color="#db110a"/><stop offset="0.087" stop-color="#b20202"/><stop offset="0.130" stop-color="#9b0000"/><stop offset="1.000" stop-color="#940000"/></linearGradient><linearGradient id="g61" gradientUnits="userSpaceOnUse" x1="319.50" x2="342.60" y1="0" y2="0" spreadMethod="reflect"><stop offset="0.000" stop-color="#e82110"/><stop offset="0.065" stop-color="#d90f09"/><stop offset="0.130" stop-color="#a40100"/><stop offset="0.238" stop-color="#990000"/><stop offset="1.000" stop-color="#930000"/></linearGradient><linearGradient id="g62" gradientUnits="userSpaceOnUse" x1="319.50" x2="342.60" y1="0" y2="0" spreadMethod="reflect"><stop offset="0.000" stop-color="#dc120a"/><stop offset="0.065" stop-color="#cc0605"/><stop offset="0.130" stop-color="#9e0000"/><stop offset="0.390" stop-color="#950000"/><stop offset="1.000" stop-color="#930000"/></linearGradient><linearGradient id="g63" gradientUnits="userSpaceOnUse" x1="319.50" x2="342.60" y1="0" y2="0" spreadMethod="reflect"><stop offset="0.000" stop-color="#e0150b"/><stop offset="0.043" stop-color="#d70e08"/><stop offset="0.108" stop-color="#a00000"/><stop offset="0.476" stop-color="#970000"/><stop offset="1.000" stop-color="#970000"/></linearGradient><linearGradient id="g64" gradientUnits="userSpaceOnUse" x1="319.50" x2="342.60" y1="0" y2="0" spreadMethod="reflect"><stop offset="0.000" stop-color="#db110a"/><stop offset="0.043" stop-color="#d40b07"/><stop offset="0.108" stop-color="#a10000"/><stop offset="0.216" stop-color="#970000"/><stop offset="1.000" stop-color="#940000"/></linearGradient><linearGradient id="g65" gradientUnits="userSpaceOnUse" x1="319.50" x2="342.60" y1="0" y2="0" spreadMethod="reflect"><stop offset="0.000" stop-color="#d80f09"/><stop offset="0.043" stop-color="#d10906"/><stop offset="0.108" stop-color="#9f0000"/><stop offset="0.195" stop-color="#930000"/><stop offset="1.000" stop-color="#8e0000"/></linearGradient><linearGradient id="g66" gradientUnits="userSpaceOnUse" x1="319.50" x2="342.60" y1="0" y2="0" spreadMethod="reflect"><stop offset="0.000" stop-color="#d40b07"/><stop offset="0.043" stop-color="#cc0605"/><stop offset="0.108" stop-color="#9a0000"/><stop offset="0.433" stop-color="#920000"/><stop offset="1.000" stop-color="#910000"/></linearGradient><linearGradient id="g67" gradientUnits="userSpaceOnUse" x1="319.50" x2="342.60" y1="0" y2="0" spreadMethod="reflect"><stop offset="0.000" stop-color="#d00906"/><stop offset="0.043" stop-color="#ca0605"/><stop offset="0.130" stop-color="#970000"/><stop offset="1.000" stop-color="#920000"/></linearGradient><linearGradient id="g68" gradientUnits="userSpaceOnUse" x1="319.50" x2="342.60" y1="0" y2="0" spreadMethod="reflect"><stop offset="0.000" stop-color="#d00906"/><stop offset="0.043" stop-color="#c90505"/><stop offset="0.108" stop-color="#9e0000"/><stop offset="0.519" stop-color="#970000"/><stop offset="1.000" stop-color="#940000"/></linearGradient><linearGradient id="g69" gradientUnits="userSpaceOnUse" x1="319.50" x2="342.60" y1="0" y2="0" spreadMethod="reflect"><stop offset="0.000" stop-color="#cf0706"/><stop offset="0.065" stop-color="#be0403"/><stop offset="0.130" stop-color="#980000"/><stop offset="0.823" stop-color="#930000"/><stop offset="1.000" stop-color="#940000"/></linearGradient><linearGradient id="g70" gradientUnits="userSpaceOnUse" x1="319.50" x2="342.60" y1="0" y2="0" spreadMethod="reflect"><stop offset="0.000" stop-color="#d20a07"/><stop offset="0.043" stop-color="#cb0605"/><stop offset="0.108" stop-color="#9f0000"/><stop offset="0.346" stop-color="#970000"/><stop offset="1.000" stop-color="#960000"/></linearGradient><linearGradient id="g71" gradientUnits="userSpaceOnUse" x1="319.50" x2="342.60" y1="0" y2="0" spreadMethod="reflect"><stop offset="0.000" stop-color="#c70504"/><stop offset="0.065" stop-color="#b40302"/><stop offset="0.130" stop-color="#930000"/><stop offset="1.000" stop-color="#940000"/></linearGradient><linearGradient id="g72" gradientUnits="userSpaceOnUse" x1="319.50" x2="342.60" y1="0" y2="0" spreadMethod="reflect"><stop offset="0.000" stop-color="#c20504"/><stop offset="0.065" stop-color="#b20202"/><stop offset="0.130" stop-color="#930000"/><stop offset="1.000" stop-color="#8f0000"/></linearGradient><linearGradient id="g73" gradientUnits="userSpaceOnUse" x1="319.50" x2="342.60" y1="0" y2="0" spreadMethod="reflect"><stop offset="0.000" stop-color="#c20504"/><stop offset="0.043" stop-color="#bb0403"/><stop offset="0.108" stop-color="#940000"/><stop offset="1.000" stop-color="#940000"/></linearGradient><linearGradient id="g74" gradientUnits="userSpaceOnUse" x1="319.50" x2="342.60" y1="0" y2="0" spreadMethod="reflect"><stop offset="0.000" stop-color="#c00404"/><stop offset="0.065" stop-color="#b00202"/><stop offset="0.130" stop-color="#900000"/><stop offset="1.000" stop-color="#8f0000"/></linearGradient><linearGradient id="g75" gradientUnits="userSpaceOnUse" x1="319.50" x2="342.60" y1="0" y2="0" spreadMethod="reflect"><stop offset="0.000" stop-color="#bd0403"/><stop offset="0.065" stop-color="#ab0101"/><stop offset="0.130" stop-color="#910000"/><stop offset="1.000" stop-color="#910000"/></linearGradient><linearGradient id="g76" gradientUnits="userSpaceOnUse" x1="319.50" x2="342.60" y1="0" y2="0" spreadMethod="reflect"><stop offset="0.000" stop-color="#c30504"/><stop offset="0.065" stop-color="#b10202"/><stop offset="0.130" stop-color="#930000"/><stop offset="1.000" stop-color="#910000"/></linearGradient><linearGradient id="g77" gradientUnits="userSpaceOnUse" x1="319.50" x2="342.60" y1="0" y2="0" spreadMethod="reflect"><stop offset="0.000" stop-color="#c10404"/><stop offset="0.065" stop-color="#ae0202"/><stop offset="0.130" stop-color="#910000"/><stop offset="1.000" stop-color="#8f0000"/></linearGradient><linearGradient id="g78" gradientUnits="userSpaceOnUse" x1="319.50" x2="342.60" y1="0" y2="0" spreadMethod="reflect"><stop offset="0.000" stop-color="#c20404"/><stop offset="0.065" stop-color="#b10202"/><stop offset="0.130" stop-color="#930000"/><stop offset="1.000" stop-color="#930000"/></linearGradient><linearGradient id="g79" gradientUnits="userSpaceOnUse" x1="319.50" x2="342.60" y1="0" y2="0" spreadMethod="reflect"><stop offset="0.000" stop-color="#bd0403"/><stop offset="0.043" stop-color="#b60302"/><stop offset="0.108" stop-color="#920000"/><stop offset="1.000" stop-color="#8d0000"/></linearGradient><linearGradient id="g80" gradientUnits="userSpaceOnUse" x1="319.50" x2="342.60" y1="0" y2="0" spreadMethod="reflect"><stop offset="0.000" stop-color="#b90303"/><stop offset="0.065" stop-color="#a80101"/><stop offset="0.130" stop-color="#900000"/><stop offset="1.000" stop-color="#920000"/></linearGradient><linearGradient id="g81" gradientUnits="userSpaceOnUse" x1="370.00" x2="393.10" y1="0" y2="0" spreadMethod="reflect"><stop offset="0.000" stop-color="#76c2ed"/><stop offset="0.065" stop-color="#7ec8ee"/><stop offset="0.087" stop-color="#88d1f0"/><stop offset="0.130" stop-color="#c0ebf4"/><stop offset="0.152" stop-color="#dff7eb"/><stop offset="0.173" stop-color="#f7fcd2"/><stop offset="0.195" stop-color="#fef8ad"/><stop offset="0.216" stop-color="#ffe87b"/><stop offset="0.260" stop-color="#fea13d"/><stop offset="0.303" stop-color="#f64f20"/><stop offset="0.346" stop-color="#e71f10"/><stop offset="0.433" stop-color="#d50c08"/><stop offset="0.693" stop-color="#c90605"/><stop offset="1.000" stop-color="#d10906"/></linearGradient><linearGradient id="g82" gradientUnits="userSpaceOnUse" x1="370.00" x2="393.10" y1="0" y2="0" spreadMethod="reflect"><stop offset="0.000" stop-color="#71bded"/><stop offset="0.065" stop-color="#7ec8ee"/><stop offset="0.087" stop-color="#90d6f0"/><stop offset="0.108" stop-color="#b7e7f4"/><stop offset="0.130" stop-color="#dff7eb"/><stop offset="0.152" stop-color="#f8fccb"/><stop offset="0.173" stop-color="#fff39a"/><stop offset="0.195" stop-color="#ffd763"/><stop offset="0.238" stop-color="#fc772b"/><stop offset="0.260" stop-color="#f5491e"/><stop offset="0.281" stop-color="#ed2a14"/><stop offset="0.325" stop-color="#dc110a"/><stop offset="0.606" stop-color="#d00806"/><stop offset="1.000" stop-color="#c90605"/></linearGradient><linearGradient id="g83" gradientUnits="userSpaceOnUse" x1="370.00" x2="393.10" y1="0" y2="0" spreadMethod="reflect"><stop offset="0.000" stop-color="#5aa9ea"/><stop offset="0.065" stop-color="#64b2eb"/><stop offset="0.108" stop-color="#88d0ef"/><stop offset="0.152" stop-color="#def6ec"/><stop offset="0.173" stop-color="#f8fccb"/><stop offset="0.195" stop-color="#fff39a"/><stop offset="0.216" stop-color="#ffd964"/><stop offset="0.260" stop-color="#fd7d2d"/><stop offset="0.281" stop-color="#f64e1f"/><stop offset="0.303" stop-color="#ee2c15"/><stop offset="0.346" stop-color="#da1009"/><stop offset="0.519" stop-color="#cc0605"/><stop offset="0.693" stop-color="#db100a"/><stop offset="1.000" stop-color="#ca0605"/></linearGradient><linearGradient id="g84" gradientUnits="userSpaceOnUse" x1="370.00" x2="393.10" y1="0" y2="0" spreadMethod="reflect"><stop offset="0.000" stop-color="#7cc7ee"/><stop offset="0.065" stop-color="#86cfef"/><stop offset="0.108" stop-color="#b2e5f3"/><stop offset="0.130" stop-color="#d6f4f2"/><stop offset="0.152" stop-color="#f0fbdc"/><stop offset="0.173" stop-color="#fcfab9"/><stop offset="0.195" stop-color="#ffec87"/><stop offset="0.216" stop-color="#ffcf5b"/><stop offset="0.260" stop-color="#fc762b"/><stop offset="0.281" stop-color="#f54a1e"/><stop offset="0.325" stop-color="#e3180d"/><stop offset="0.433" stop-color="#cf0706"/><stop offset="1.000" stop-color="#cb0605"/></linearGradient><linearGradient id="g85" gradientUnits="userSpaceOnUse" x1="370.00" x2="393.10" y1="0" y2="0" spreadMethod="reflect"><stop offset="0.000" stop-color="#8cd4f0"/><stop offset="0.043" stop-color="#91d6f0"/><stop offset="0.087" stop-color="#b5e6f4"/><stop offset="0.108" stop-color="#d6f4f3"/><stop offset="0.130" stop-color="#effbdd"/><stop offset="0.152" stop-color="#fcfab9"/><stop offset="0.173" stop-color="#ffec85"/><stop offset="0.195" stop-color="#ffcb58"/><stop offset="0.238" stop-color="#fb6d28"/><stop offset="0.260" stop-color="#f4421c"/><stop offset="0.303" stop-color="#e3170c"/><stop offset="0.433" stop-color="#d30b07"/><stop offset="1.000" stop-color="#c70504"/></linearGradient><linearGradient id="g86" gradientUnits="userSpaceOnUse" x1="370.00" x2="393.10" y1="0" y2="0" spreadMethod="reflect"><stop offset="0.000" stop-color="#75c1ed"/><stop offset="0.065" stop-color="#84cdef"/><stop offset="0.087" stop-color="#9cdbf1"/><stop offset="0.108" stop-color="#c6eef5"/><stop offset="0.130" stop-color="#e9f9e2"/><stop offset="0.152" stop-color="#fcfabb"/><stop offset="0.173" stop-color="#ffeb82"/><stop offset="0.195" stop-color="#ffc654"/><stop offset="0.238" stop-color="#f96326"/><stop offset="0.260" stop-color="#f33b1a"/><stop offset="0.303" stop-color="#e3170d"/><stop offset="0.606" stop-color="#d10906"/><stop offset="1.000" stop-color="#c80504"/></linearGradient><linearGradient id="g87" gradientUnits="userSpaceOnUse" x1="370.00" x2="393.10" y1="0" y2="0" spreadMethod="reflect"><stop offset="0.000" stop-color="#87d0ef"/><stop offset="0.043" stop-color="#8ed5f0"/><stop offset="0.065" stop-color="#a2def2"/><stop offset="0.087" stop-color="#c8eff5"/><stop offset="0.108" stop-color="#eafae2"/><stop offset="0.130" stop-color="#fcfab9"/><stop offset="0.152" stop-color="#ffe879"/><stop offset="0.173" stop-color="#ffbc4b"/><stop offset="0.216" stop-color="#f64f20"/><stop offset="0.238" stop-color="#ee2d15"/><stop offset="0.281" stop-color="#df140b"/><stop offset="1.000" stop-color="#ca0605"/></linearGradient><linearGradient id="g88" gradientUnits="userSpaceOnUse" x1="370.00" x2="393.10" y1="0" y2="0" spreadMethod="reflect"><stop offset="0.000" stop-color="#8fd5f0"/><stop offset="0.043" stop-color="#96d8f1"/><stop offset="0.065" stop-color="#a7e0f2"/><stop offset="0.087" stop-color="#c6eef5"/><stop offset="0.108" stop-color="#e4f8e7"/><stop offset="0.130" stop-color="#f9fbc7"/><stop offset="0.152" stop-color="#fff093"/><stop offset="0.173" stop-color="#ffd15d"/><stop offset="0.195" stop-color="#fe9f3c"/><stop offset="0.238" stop-color="#f33d1b"/><stop offset="0.260" stop-color="#e92211"/><stop offset="0.303" stop-color="#db100a"/><stop offset="0.823" stop-color="#cf0806"/><stop offset="1.000" stop-color="#cf0706"/></linearGradient><linearGradient id="g89" gradientUnits="userSpaceOnUse" x1="370.00" x2="393.10" y1="0" y2="0" spreadMethod="reflect"><stop offset="0.000" stop-color="#b1e4f3"/><stop offset="0.043" stop-color="#bae8f4"/><stop offset="0.065" stop-color="#cef1f6"/><stop offset="0.087" stop-color="#e3f8e8"/><stop offset="0.108" stop-color="#f8fccc"/><stop offset="0.130" stop-color="#fff49d"/><stop offset="0.152" stop-color="#ffd662"/><stop offset="0.173" stop-color="#fea23e"/><stop offset="0.216" stop-color="#f23418"/><stop offset="0.238" stop-color="#e3180d"/><stop offset="0.325" stop-color="#ce0705"/><stop offset="1.000" stop-color="#c70504"/></linearGradient><linearGradient id="g90" gradientUnits="userSpaceOnUse" x1="370.00" x2="393.10" y1="0" y2="0" spreadMethod="reflect"><stop offset="0.000" stop-color="#8bd3f0"/><stop offset="0.043" stop-color="#98daf1"/><stop offset="0.065" stop-color="#b9e8f4"/><stop offset="0.087" stop-color="#e2f8e8"/><stop offset="0.108" stop-color="#fbfabc"/><stop offset="0.130" stop-color="#ffe572"/><stop offset="0.152" stop-color="#ffab42"/><stop offset="0.173" stop-color="#fa6626"/><stop offset="0.195" stop-color="#f03017"/><stop offset="0.216" stop-color="#e2160c"/><stop offset="0.325" stop-color="#d20a07"/><stop offset="1.000" stop-color="#c90505"/></linearGradient><linearGradient id="g91" gradientUnits="userSpaceOnUse" x1="370.00" x2="393.10" y1="0" y2="0" spreadMethod="reflect"><stop offset="0.000" stop-color="#90d6f0"/><stop offset="0.043" stop-color="#9edcf2"/><stop offset="0.065" stop-color="#bbe9f4"/><stop offset="0.087" stop-color="#e2f7e9"/><stop offset="0.108" stop-color="#fafbc1"/><stop offset="0.130" stop-color="#ffe97d"/><stop offset="0.152" stop-color="#ffb948"/><stop offset="0.173" stop-color="#fd7a2c"/><stop offset="0.195" stop-color="#f4441d"/><stop offset="0.216" stop-color="#eb2713"/><stop offset="0.260" stop-color="#e0150b"/><stop offset="1.000" stop-color="#d20a07"/></linearGradient><linearGradient id="g92" gradientUnits="userSpaceOnUse" x1="370.00" x2="393.10" y1="0" y2="0" spreadMethod="reflect"><stop offset="0.000" stop-color="#c4edf5"/><stop offset="0.043" stop-color="#cff2f6"/><stop offset="0.087" stop-color="#f2fcda"/><stop offset="0.108" stop-color="#fdf9b4"/><stop offset="0.130" stop-color="#ffe879"/><stop offset="0.152" stop-color="#ffbc4b"/><stop offset="0.195" stop-color="#f64d1f"/><stop offset="0.216" stop-color="#ed2b15"/><stop offset="0.260" stop-color="#e0140b"/><stop offset="0.823" stop-color="#d30a07"/><stop offset="1.000" stop-color="#d30a07"/></linearGradient><linearGradient id="g93" gradientUnits="userSpaceOnUse" x1="370.00" x2="393.10" y1="0" y2="0" spreadMethod="reflect"><stop offset="0.000" stop-color="#e1f7e9"/><stop offset="0.043" stop-color="#e6f9e5"/><stop offset="0.065" stop-color="#f2fcdb"/><stop offset="0.087" stop-color="#fafbc3"/><stop offset="0.108" stop-color="#fff39b"/><stop offset="0.130" stop-color="#ffda65"/><stop offset="0.173" stop-color="#fb6f29"/><stop offset="0.195" stop-color="#f33a1a"/><stop offset="0.216" stop-color="#e61d0f"/><stop offset="0.281" stop-color="#d30b07"/><stop offset="1.000" stop-color="#c90505"/></linearGradient><linearGradient id="g94" gradientUnits="userSpaceOnUse" x1="370.00" x2="393.10" y1="0" y2="0" spreadMethod="reflect"><stop offset="0.000" stop-color="#dbf5ee"/><stop offset="0.065" stop-color="#edfbdf"/><stop offset="0.087" stop-color="#f9fbc6"/><stop offset="0.108" stop-color="#fff39a"/><stop offset="0.130" stop-color="#ffd561"/><stop offset="0.152" stop-color="#fe9e3c"/><stop offset="0.173" stop-color="#f85e24"/><stop offset="0.195" stop-color="#ed2b14"/><stop offset="0.216" stop-color="#dd120a"/><stop offset="0.303" stop-color="#c90605"/><stop offset="1.000" stop-color="#c10404"/></linearGradient><linearGradient id="g95" gradientUnits="userSpaceOnUse" x1="370.00" x2="393.10" y1="0" y2="0" spreadMethod="reflect"><stop offset="0.000" stop-color="#e8f9e3"/><stop offset="0.043" stop-color="#eefbde"/><stop offset="0.065" stop-color="#f8fccf"/><stop offset="0.087" stop-color="#fef9af"/><stop offset="0.108" stop-color="#ffe776"/><stop offset="0.130" stop-color="#ffba49"/><stop offset="0.173" stop-color="#f43f1b"/><stop offset="0.195" stop-color="#e61d0f"/><stop offset="0.238" stop-color="#d50c08"/><stop offset="0.693" stop-color="#c00404"/><stop offset="1.000" stop-color="#c50504"/></linearGradient><linearGradient id="g96" gradientUnits="userSpaceOnUse" x1="370.00" x2="393.10" y1="0" y2="0" spreadMethod="reflect"><stop offset="0.000" stop-color="#f3fcda"/><stop offset="0.043" stop-color="#f7fcd2"/><stop offset="0.065" stop-color="#fbfabf"/><stop offset="0.087" stop-color="#fff299"/><stop offset="0.108" stop-color="#ffd763"/><stop offset="0.130" stop-color="#fea03d"/><stop offset="0.152" stop-color="#f85d24"/><stop offset="0.173" stop-color="#eb2813"/><stop offset="0.195" stop-color="#db100a"/><stop offset="0.281" stop-color="#ca0605"/><stop offset="0.606" stop-color="#c60504"/><stop offset="1.000" stop-color="#c00404"/></linearGradient><linearGradient id="g97" gradientUnits="userSpaceOnUse" x1="370.00" x2="393.10" y1="0" y2="0" spreadMethod="reflect"><stop offset="0.000" stop-color="#dff7eb"/><stop offset="0.043" stop-color="#e7f9e4"/><stop offset="0.065" stop-color="#f6fdd5"/><stop offset="0.087" stop-color="#fef9b1"/><stop offset="0.108" stop-color="#ffe572"/><stop offset="0.130" stop-color="#ffb044"/><stop offset="0.173" stop-color="#ee2c15"/><stop offset="0.195" stop-color="#db110a"/><stop offset="0.260" stop-color="#c90505"/><stop offset="0.693" stop-color="#b70303"/><stop offset="1.000" stop-color="#c10404"/></linearGradient><linearGradient id="g98" gradientUnits="userSpaceOnUse" x1="370.00" x2="393.10" y1="0" y2="0" spreadMethod="reflect"><stop offset="0.000" stop-color="#f0fbdc"/><stop offset="0.043" stop-color="#f7fdd3"/><stop offset="0.065" stop-color="#fcfaba"/><stop offset="0.087" stop-color="#ffec87"/><stop offset="0.108" stop-color="#ffc250"/><stop offset="0.130" stop-color="#fd7b2c"/><stop offset="0.152" stop-color="#f13217"/><stop offset="0.173" stop-color="#da1009"/><stop offset="0.216" stop-color="#c60504"/><stop offset="1.000" stop-color="#b20202"/></linearGradient><linearGradient id="g99" gradientUnits="userSpaceOnUse" x1="370.00" x2="393.10" y1="0" y2="0" spreadMethod="reflect"><stop offset="0.000" stop-color="#fbfabc"/><stop offset="0.043" stop-color="#fdf9b3"/><stop offset="0.065" stop-color="#fff39c"/><stop offset="0.087" stop-color="#ffe46e"/><stop offset="0.108" stop-color="#ffb948"/><stop offset="0.152" stop-color="#f23619"/><stop offset="0.173" stop-color="#de130b"/><stop offset="0.216" stop-color="#c80504"/><stop offset="1.000" stop-color="#b80303"/></linearGradient><linearGradient id="g100" gradientUnits="userSpaceOnUse" x1="370.00" x2="393.10" y1="0" y2="0" spreadMethod="reflect"><stop offset="0.000" stop-color="#f8fccc"/><stop offset="0.043" stop-color="#fafbc2"/><stop offset="0.065" stop-color="#fff8ac"/><stop offset="0.087" stop-color="#ffe87b"/><stop offset="0.108" stop-color="#ffbf4d"/><stop offset="0.152" stop-color="#f33919"/><stop offset="0.173" stop-color="#e0140b"/><stop offset="0.216" stop-color="#cc0605"/><stop offset="1.000" stop-color="#bb0403"/></linearGradient><linearGradient id="g101" gradientUnits="userSpaceOnUse" x1="370.00" x2="393.10" y1="0" y2="0" spreadMethod="reflect"><stop offset="0.000" stop-color="#f7fcd0"/><stop offset="0.043" stop-color="#fafbc4"/><stop offset="0.065" stop-color="#fff8aa"/><stop offset="0.087" stop-color="#ffe570"/><stop offset="0.108" stop-color="#ffaf44"/><stop offset="0.130" stop-color="#f96426"/><stop offset="0.152" stop-color="#eb2612"/><stop offset="0.173" stop-color="#d70e08"/><stop offset="0.260" stop-color="#c70504"/><stop offset="1.000" stop-color="#bb0403"/></linearGradient><linearGradient id="g102" gradientUnits="userSpaceOnUse" x1="370.00" x2="393.10" y1="0" y2="0" spreadMethod="reflect"><stop offset="0.000" stop-color="#fff39c"/><stop offset="0.043" stop-color="#ffef8e"/><stop offset="0.065" stop-color="#ffe46f"/><stop offset="0.087" stop-color="#ffc04e"/><stop offset="0.130" stop-color="#f33d1b"/><stop offset="0.152" stop-color="#dd120a"/><stop offset="0.195" stop-color="#c30504"/><stop offset="0.606" stop-color="#ba0303"/><stop offset="1.000" stop-color="#b60302"/></linearGradient><linearGradient id="g103" gradientUnits="userSpaceOnUse" x1="370.00" x2="393.10" y1="0" y2="0" spreadMethod="reflect"><stop offset="0.000" stop-color="#ffec86"/><stop offset="0.043" stop-color="#ffe879"/><stop offset="0.065" stop-color="#ffd762"/><stop offset="0.087" stop-color="#ffb245"/><stop offset="0.130" stop-color="#f13117"/><stop offset="0.152" stop-color="#d80f09"/><stop offset="0.195" stop-color="#c00404"/><stop offset="1.000" stop-color="#ae0202"/></linearGradient><linearGradient id="g104" gradientUnits="userSpaceOnUse" x1="370.00" x2="393.10" y1="0" y2="0" spreadMethod="reflect"><stop offset="0.000" stop-color="#ffed88"/><stop offset="0.043" stop-color="#ffe87b"/><stop offset="0.065" stop-color="#ffd964"/><stop offset="0.087" stop-color="#ffb747"/><stop offset="0.130" stop-color="#f23518"/><stop offset="0.152" stop-color="#d90f09"/><stop offset="0.195" stop-color="#bc0403"/><stop offset="0.693" stop-color="#b20202"/><stop offset="1.000" stop-color="#b00202"/></linearGradient><linearGradient id="g105" gradientUnits="userSpaceOnUse" x1="370.00" x2="393.10" y1="0" y2="0" spreadMethod="reflect"><stop offset="0.000" stop-color="#ffea81"/><stop offset="0.043" stop-color="#ffe572"/><stop offset="0.065" stop-color="#ffd05c"/><stop offset="0.087" stop-color="#fea43f"/><stop offset="0.130" stop-color="#e82110"/><stop offset="0.152" stop-color="#cf0806"/><stop offset="0.195" stop-color="#bb0403"/><stop offset="0.606" stop-color="#b50302"/><stop offset="0.693" stop-color="#ba0303"/><stop offset="1.000" stop-color="#ab0101"/></linearGradient><linearGradient id="g106" gradientUnits="userSpaceOnUse" x1="370.00" x2="393.10" y1="0" y2="0" spreadMethod="reflect"><stop offset="0.000" stop-color="#ffea7f"/><stop offset="0.043" stop-color="#ffe46f"/><stop offset="0.065" stop-color="#ffcc59"/><stop offset="0.087" stop-color="#fe9d3b"/><stop offset="0.130" stop-color="#e4190d"/><stop offset="0.152" stop-color="#cb0605"/><stop offset="0.195" stop-color="#ba0303"/><stop offset="0.606" stop-color="#b30302"/><stop offset="1.000" stop-color="#af0202"/></linearGradient><linearGradient id="g107" gradientUnits="userSpaceOnUse" x1="370.00" x2="393.10" y1="0" y2="0" spreadMethod="reflect"><stop offset="0.000" stop-color="#ffdd68"/><stop offset="0.043" stop-color="#ffd15d"/><stop offset="0.065" stop-color="#ffb546"/><stop offset="0.087" stop-color="#fd7c2d"/><stop offset="0.108" stop-color="#f23318"/><stop offset="0.130" stop-color="#d60d08"/><stop offset="0.173" stop-color="#bc0403"/><stop offset="0.693" stop-color="#ad0201"/><stop offset="1.000" stop-color="#bb0403"/></linearGradient><linearGradient id="g108" gradientUnits="userSpaceOnUse" x1="370.00" x2="393.10" y1="0" y2="0" spreadMethod="reflect"><stop offset="0.000" stop-color="#ffdf6a"/><stop offset="0.043" stop-color="#ffd661"/><stop offset="0.065" stop-color="#ffc14f"/><stop offset="0.087" stop-color="#fe9739"/><stop offset="0.130" stop-color="#e82110"/><stop offset="0.152" stop-color="#d10906"/><stop offset="0.216" stop-color="#bc0403"/><stop offset="1.000" stop-color="#b80303"/></linearGradient><linearGradient id="g109" gradientUnits="userSpaceOnUse" x1="370.00" x2="393.10" y1="0" y2="0" spreadMethod="reflect"><stop offset="0.000" stop-color="#ffce5a"/><stop offset="0.043" stop-color="#ffc552"/><stop offset="0.065" stop-color="#ffaf43"/><stop offset="0.087" stop-color="#fd8330"/><stop offset="0.130" stop-color="#e1150c"/><stop offset="0.152" stop-color="#cb0605"/><stop offset="0.216" stop-color="#b80303"/><stop offset="1.000" stop-color="#ab0101"/></linearGradient><linearGradient id="g110" gradientUnits="userSpaceOnUse" x1="370.00" x2="393.10" y1="0" y2="0" spreadMethod="reflect"><stop offset="0.000" stop-color="#ffc250"/><stop offset="0.043" stop-color="#ffb848"/><stop offset="0.065" stop-color="#fe9d3b"/><stop offset="0.087" stop-color="#fb6f29"/><stop offset="0.108" stop-color="#f13217"/><stop offset="0.130" stop-color="#d80e09"/><stop offset="0.173" stop-color="#ba0403"/><stop offset="1.000" stop-color="#aa0101"/></linearGradient><linearGradient id="g111" gradientUnits="userSpaceOnUse" x1="370.00" x2="393.10" y1="0" y2="0" spreadMethod="reflect"><stop offset="0.000" stop-color="#ffc452"/><stop offset="0.043" stop-color="#ffb948"/><stop offset="0.065" stop-color="#fe9a3a"/><stop offset="0.108" stop-color="#eb2613"/><stop offset="0.130" stop-color="#d00806"/><stop offset="0.173" stop-color="#b60302"/><stop offset="1.000" stop-color="#ac0201"/></linearGradient><linearGradient id="g112" gradientUnits="userSpaceOnUse" x1="370.00" x2="393.10" y1="0" y2="0" spreadMethod="reflect"><stop offset="0.000" stop-color="#ffba49"/><stop offset="0.043" stop-color="#ffae43"/><stop offset="0.065" stop-color="#fe9538"/><stop offset="0.108" stop-color="#f02f16"/><stop offset="0.130" stop-color="#d70d08"/><stop offset="0.173" stop-color="#b90303"/><stop offset="0.693" stop-color="#a60101"/><stop offset="1.000" stop-color="#b30302"/></linearGradient><linearGradient id="g113" gradientUnits="userSpaceOnUse" x1="370.00" x2="393.10" y1="0" y2="0" spreadMethod="reflect"><stop offset="0.000" stop-color="#fea840"/><stop offset="0.043" stop-color="#fe9e3c"/><stop offset="0.065" stop-color="#fd8832"/><stop offset="0.108" stop-color="#ee2d15"/><stop offset="0.130" stop-color="#d70e08"/><stop offset="0.173" stop-color="#b90303"/><stop offset="0.693" stop-color="#ab0101"/><stop offset="1.000" stop-color="#b40302"/></linearGradient><linearGradient id="g114" gradientUnits="userSpaceOnUse" x1="370.00" x2="393.10" y1="0" y2="0" spreadMethod="reflect"><stop offset="0.000" stop-color="#fea03d"/><stop offset="0.043" stop-color="#fe9337"/><stop offset="0.065" stop-color="#fc772b"/><stop offset="0.108" stop-color="#e3170d"/><stop offset="0.130" stop-color="#cb0605"/><stop offset="0.173" stop-color="#b80303"/><stop offset="1.000" stop-color="#ae0202"/></linearGradient><linearGradient id="g115" gradientUnits="userSpaceOnUse" x1="370.00" x2="393.10" y1="0" y2="0" spreadMethod="reflect"><stop offset="0.000" stop-color="#fd8c34"/><stop offset="0.043" stop-color="#fd7d2d"/><stop offset="0.065" stop-color="#f85923"/><stop offset="0.087" stop-color="#eb2713"/><stop offset="0.108" stop-color="#cf0806"/><stop offset="0.152" stop-color="#ad0201"/><stop offset="0.693" stop-color="#9d0000"/><stop offset="1.000" stop-color="#a80101"/></linearGradient><linearGradient id="g116" gradientUnits="userSpaceOnUse" x1="370.00" x2="393.10" y1="0" y2="0" spreadMethod="reflect"><stop offset="0.000" stop-color="#fd8631"/><stop offset="0.043" stop-color="#fc762b"/><stop offset="0.065" stop-color="#f75221"/><stop offset="0.087" stop-color="#e82111"/><stop offset="0.108" stop-color="#cc0605"/><stop offset="0.152" stop-color="#ad0201"/><stop offset="1.000" stop-color="#9f0000"/></linearGradient><linearGradient id="g117" gradientUnits="userSpaceOnUse" x1="370.00" x2="393.10" y1="0" y2="0" spreadMethod="reflect"><stop offset="0.000" stop-color="#fd8731"/><stop offset="0.043" stop-color="#fc762b"/><stop offset="0.087" stop-color="#e61e0f"/><stop offset="0.108" stop-color="#ca0605"/><stop offset="0.152" stop-color="#ae0202"/><stop offset="1.000" stop-color="#9f0000"/></linearGradient><linearGradient id="g118" gradientUnits="userSpaceOnUse" x1="370.00" x2="393.10" y1="0" y2="0" spreadMethod="reflect"><stop offset="0.000" stop-color="#fd7b2c"/><stop offset="0.043" stop-color="#fa6b28"/><stop offset="0.087" stop-color="#e61e0f"/><stop offset="0.108" stop-color="#cc0605"/><stop offset="0.152" stop-color="#b00202"/><stop offset="1.000" stop-color="#a40100"/></linearGradient><linearGradient id="g119" gradientUnits="userSpaceOnUse" x1="370.00" x2="393.10" y1="0" y2="0" spreadMethod="reflect"><stop offset="0.000" stop-color="#fb6e29"/><stop offset="0.043" stop-color="#f96225"/><stop offset="0.087" stop-color="#ea2512"/><stop offset="0.108" stop-color="#d40b07"/><stop offset="0.152" stop-color="#b30202"/><stop offset="0.390" stop-color="#a70101"/><stop offset="1.000" stop-color="#a50101"/></linearGradient><linearGradient id="g120" gradientUnits="userSpaceOnUse" x1="370.00" x2="393.10" y1="0" y2="0" spreadMethod="reflect"><stop offset="0.000" stop-color="#fb732a"/><stop offset="0.043" stop-color="#f96426"/><stop offset="0.087" stop-color="#e41b0e"/><stop offset="0.108" stop-color="#ca0605"/><stop offset="0.152" stop-color="#ab0101"/><stop offset="1.000" stop-color="#9c0000"/></linearGradient><linearGradient id="g121" gradientUnits="userSpaceOnUse" x1="370.00" x2="393.10" y1="0" y2="0" spreadMethod="reflect"><stop offset="0.000" stop-color="#f96025"/><stop offset="0.022" stop-color="#f85d24"/><stop offset="0.043" stop-color="#f64d1f"/><stop offset="0.065" stop-color="#ed2a14"/><stop offset="0.087" stop-color="#d30b07"/><stop offset="0.130" stop-color="#ab0101"/><stop offset="0.823" stop-color="#9b0000"/><stop offset="1.000" stop-color="#9b0000"/></linearGradient><linearGradient id="g122" gradientUnits="userSpaceOnUse" x1="370.00" x2="393.10" y1="0" y2="0" spreadMethod="reflect"><stop offset="0.000" stop-color="#f65020"/><stop offset="0.022" stop-color="#f64d1f"/><stop offset="0.043" stop-color="#f33d1b"/><stop offset="0.087" stop-color="#cd0605"/><stop offset="0.130" stop-color="#a70101"/><stop offset="0.693" stop-color="#9d0000"/><stop offset="1.000" stop-color="#a60101"/></linearGradient><linearGradient id="g123" gradientUnits="userSpaceOnUse" x1="370.00" x2="393.10" y1="0" y2="0" spreadMethod="reflect"><stop offset="0.000" stop-color="#f64f20"/><stop offset="0.043" stop-color="#f4401c"/><stop offset="0.087" stop-color="#d60d08"/><stop offset="0.130" stop-color="#b20202"/><stop offset="0.390" stop-color="#a60101"/><stop offset="1.000" stop-color="#a50101"/></linearGradient><linearGradient id="g124" gradientUnits="userSpaceOnUse" x1="370.00" x2="393.10" y1="0" y2="0" spreadMethod="reflect"><stop offset="0.000" stop-color="#f64e1f"/><stop offset="0.043" stop-color="#f33e1b"/><stop offset="0.087" stop-color="#d30a07"/><stop offset="0.130" stop-color="#b10202"/><stop offset="0.823" stop-color="#a60101"/><stop offset="1.000" stop-color="#a60101"/></linearGradient><linearGradient id="g125" gradientUnits="userSpaceOnUse" x1="370.00" x2="393.10" y1="0" y2="0" spreadMethod="reflect"><stop offset="0.000" stop-color="#f64e20"/><stop offset="0.022" stop-color="#f64c1f"/><stop offset="0.043" stop-color="#f33c1a"/><stop offset="0.087" stop-color="#ce0705"/><stop offset="0.130" stop-color="#b00202"/><stop offset="1.000" stop-color="#a50101"/></linearGradient><linearGradient id="g126" gradientUnits="userSpaceOnUse" x1="370.00" x2="393.10" y1="0" y2="0" spreadMethod="reflect"><stop offset="0.000" stop-color="#f4411c"/><stop offset="0.043" stop-color="#f23418"/><stop offset="0.087" stop-color="#d40b07"/><stop offset="0.130" stop-color="#b20202"/><stop offset="0.606" stop-color="#a70101"/><stop offset="1.000" stop-color="#a00000"/></linearGradient><linearGradient id="g127" gradientUnits="userSpaceOnUse" x1="370.00" x2="393.10" y1="0" y2="0" spreadMethod="reflect"><stop offset="0.000" stop-color="#f23418"/><stop offset="0.043" stop-color="#ec2a14"/><stop offset="0.087" stop-color="#cd0605"/><stop offset="0.130" stop-color="#ae0202"/><stop offset="0.693" stop-color="#9f0000"/><stop offset="1.000" stop-color="#a40100"/></linearGradient><linearGradient id="g128" gradientUnits="userSpaceOnUse" x1="370.00" x2="393.10" y1="0" y2="0" spreadMethod="reflect"><stop offset="0.000" stop-color="#e82110"/><stop offset="0.043" stop-color="#e3170d"/><stop offset="0.108" stop-color="#b10202"/><stop offset="0.195" stop-color="#a10000"/><stop offset="1.000" stop-color="#9b0000"/></linearGradient><linearGradient id="g129" gradientUnits="userSpaceOnUse" x1="370.00" x2="393.10" y1="0" y2="0" spreadMethod="reflect"><stop offset="0.000" stop-color="#db110a"/><stop offset="0.043" stop-color="#d40b07"/><stop offset="0.108" stop-color="#a40100"/><stop offset="0.260" stop-color="#990000"/><stop offset="1.000" stop-color="#970000"/></linearGradient><linearGradient id="g130" gradientUnits="userSpaceOnUse" x1="370.00" x2="393.10" y1="0" y2="0" spreadMethod="reflect"><stop offset="0.000" stop-color="#d80e09"/><stop offset="0.043" stop-color="#d10906"/><stop offset="0.130" stop-color="#990000"/><stop offset="0.823" stop-color="#950000"/><stop offset="1.000" stop-color="#950000"/></linearGradient><linearGradient id="g131" gradientUnits="userSpaceOnUse" x1="370.00" x2="393.10" y1="0" y2="0" spreadMethod="reflect"><stop offset="0.000" stop-color="#de130b"/><stop offset="0.043" stop-color="#d60d08"/><stop offset="0.108" stop-color="#a20000"/><stop offset="0.325" stop-color="#980000"/><stop offset="1.000" stop-color="#960000"/></linearGradient><linearGradient id="g132" gradientUnits="userSpaceOnUse" x1="370.00" x2="393.10" y1="0" y2="0" spreadMethod="reflect"><stop offset="0.000" stop-color="#db110a"/><stop offset="0.043" stop-color="#d40b07"/><stop offset="0.108" stop-color="#a20000"/><stop offset="0.260" stop-color="#970000"/><stop offset="1.000" stop-color="#9a0000"/></linearGradient><linearGradient id="g133" gradientUnits="userSpaceOnUse" x1="370.00" x2="393.10" y1="0" y2="0" spreadMethod="reflect"><stop offset="0.000" stop-color="#df140b"/><stop offset="0.043" stop-color="#d80e09"/><stop offset="0.108" stop-color="#a70101"/><stop offset="0.216" stop-color="#9c0000"/><stop offset="1.000" stop-color="#990000"/></linearGradient><linearGradient id="g134" gradientUnits="userSpaceOnUse" x1="370.00" x2="393.10" y1="0" y2="0" spreadMethod="reflect"><stop offset="0.000" stop-color="#db110a"/><stop offset="0.065" stop-color="#cb0605"/><stop offset="0.130" stop-color="#a20000"/><stop offset="1.000" stop-color="#9c0000"/></linearGradient><linearGradient id="g135" gradientUnits="userSpaceOnUse" x1="370.00" x2="393.10" y1="0" y2="0" spreadMethod="reflect"><stop offset="0.000" stop-color="#d70e08"/><stop offset="0.065" stop-color="#c80504"/><stop offset="0.130" stop-color="#a00000"/><stop offset="0.693" stop-color="#950000"/><stop offset="1.000" stop-color="#9b0000"/></linearGradient><linearGradient id="g136" gradientUnits="userSpaceOnUse" x1="370.00" x2="393.10" y1="0" y2="0" spreadMethod="reflect"><stop offset="0.000" stop-color="#d70d08"/><stop offset="0.043" stop-color="#cf0706"/><stop offset="0.108" stop-color="#a00000"/><stop offset="0.476" stop-color="#970000"/><stop offset="1.000" stop-color="#990000"/></linearGradient><linearGradient id="g137" gradientUnits="userSpaceOnUse" x1="370.00" x2="393.10" y1="0" y2="0" spreadMethod="reflect"><stop offset="0.000" stop-color="#d90f09"/><stop offset="0.043" stop-color="#d30a07"/><stop offset="0.130" stop-color="#a10000"/><stop offset="1.000" stop-color="#9b0000"/></linearGradient><linearGradient id="g138" gradientUnits="userSpaceOnUse" x1="370.00" x2="393.10" y1="0" y2="0" spreadMethod="reflect"><stop offset="0.000" stop-color="#d70e08"/><stop offset="0.065" stop-color="#c50504"/><stop offset="0.130" stop-color="#a10000"/><stop offset="1.000" stop-color="#a00000"/></linearGradient><linearGradient id="g139" gradientUnits="userSpaceOnUse" x1="370.00" x2="393.10" y1="0" y2="0" spreadMethod="reflect"><stop offset="0.000" stop-color="#d30b07"/><stop offset="0.065" stop-color="#c20504"/><stop offset="0.130" stop-color="#9f0000"/><stop offset="1.000" stop-color="#9d0000"/></linearGradient><linearGradient id="g140" gradientUnits="userSpaceOnUse" x1="370.00" x2="393.10" y1="0" y2="0" spreadMethod="reflect"><stop offset="0.000" stop-color="#d80e09"/><stop offset="0.043" stop-color="#d10906"/><stop offset="0.108" stop-color="#a50101"/><stop offset="0.606" stop-color="#9e0000"/><stop offset="1.000" stop-color="#9d0000"/></linearGradient><linearGradient id="g141" gradientUnits="userSpaceOnUse" x1="370.00" x2="393.10" y1="0" y2="0" spreadMethod="reflect"><stop offset="0.000" stop-color="#cd0605"/><stop offset="0.065" stop-color="#bc0403"/><stop offset="0.130" stop-color="#9a0000"/><stop offset="1.000" stop-color="#960000"/></linearGradient><linearGradient id="g142" gradientUnits="userSpaceOnUse" x1="370.00" x2="393.10" y1="0" y2="0" spreadMethod="reflect"><stop offset="0.000" stop-color="#c70504"/><stop offset="0.065" stop-color="#b40302"/><stop offset="0.130" stop-color="#970000"/><stop offset="1.000" stop-color="#950000"/></linearGradient><linearGradient id="g143" gradientUnits="userSpaceOnUse" x1="370.00" x2="393.10" y1="0" y2="0" spreadMethod="reflect"><stop offset="0.000" stop-color="#c40504"/><stop offset="0.065" stop-color="#b50302"/><stop offset="0.130" stop-color="#970000"/><stop offset="1.000" stop-color="#960000"/></linearGradient><linearGradient id="g144" gradientUnits="userSpaceOnUse" x1="370.00" x2="393.10" y1="0" y2="0" spreadMethod="reflect"><stop offset="0.000" stop-color="#ca0605"/><stop offset="0.043" stop-color="#c30504"/><stop offset="0.108" stop-color="#9d0000"/><stop offset="1.000" stop-color="#9c0000"/></linearGradient><linearGradient id="g145" gradientUnits="userSpaceOnUse" x1="370.00" x2="393.10" y1="0" y2="0" spreadMethod="reflect"><stop offset="0.000" stop-color="#c20404"/><stop offset="0.043" stop-color="#bb0403"/><stop offset="0.108" stop-color="#960000"/><stop offset="1.000" stop-color="#940000"/></linearGradient><linearGradient id="g146" gradientUnits="userSpaceOnUse" x1="370.00" x2="393.10" y1="0" y2="0" spreadMethod="reflect"><stop offset="0.000" stop-color="#bf0403"/><stop offset="0.065" stop-color="#ae0202"/><stop offset="0.130" stop-color="#930000"/><stop offset="1.000" stop-color="#8d0000"/></linearGradient><linearGradient id="g147" gradientUnits="userSpaceOnUse" x1="370.00" x2="393.10" y1="0" y2="0" spreadMethod="reflect"><stop offset="0.000" stop-color="#c30504"/><stop offset="0.065" stop-color="#b20202"/><stop offset="0.130" stop-color="#960000"/><stop offset="1.000" stop-color="#960000"/></linearGradient><linearGradient id="g148" gradientUnits="userSpaceOnUse" x1="370.00" x2="393.10" y1="0" y2="0" spreadMethod="reflect"><stop offset="0.000" stop-color="#c00404"/><stop offset="0.043" stop-color="#b70303"/><stop offset="0.108" stop-color="#920000"/><stop offset="1.000" stop-color="#8e0000"/></linearGradient><linearGradient id="g149" gradientUnits="userSpaceOnUse" x1="370.00" x2="393.10" y1="0" y2="0" spreadMethod="reflect"><stop offset="0.000" stop-color="#b90303"/><stop offset="0.065" stop-color="#a80101"/><stop offset="0.130" stop-color="#8e0000"/><stop offset="1.000" stop-color="#8b0000"/></linearGradient><linearGradient id="g150" gradientUnits="userSpaceOnUse" x1="370.00" x2="393.10" y1="0" y2="0" spreadMethod="reflect"><stop offset="0.000" stop-color="#bc0403"/><stop offset="0.043" stop-color="#b20202"/><stop offset="0.087" stop-color="#950000"/><stop offset="1.000" stop-color="#900000"/></linearGradient><linearGradient id="g151" gradientUnits="userSpaceOnUse" x1="370.00" x2="393.10" y1="0" y2="0" spreadMethod="reflect"><stop offset="0.000" stop-color="#bf0403"/><stop offset="0.065" stop-color="#aa0101"/><stop offset="0.130" stop-color="#910000"/><stop offset="1.000" stop-color="#920000"/></linearGradient><linearGradient id="g152" gradientUnits="userSpaceOnUse" x1="370.00" x2="393.10" y1="0" y2="0" spreadMethod="reflect"><stop offset="0.000" stop-color="#bf0403"/><stop offset="0.065" stop-color="#ae0202"/><stop offset="0.130" stop-color="#920000"/><stop offset="1.000" stop-color="#8f0000"/></linearGradient><linearGradient id="g153" gradientUnits="userSpaceOnUse" x1="370.00" x2="393.10" y1="0" y2="0" spreadMethod="reflect"><stop offset="0.000" stop-color="#bf0403"/><stop offset="0.043" stop-color="#b60302"/><stop offset="0.108" stop-color="#950000"/><stop offset="1.000" stop-color="#940000"/></linearGradient><linearGradient id="g154" gradientUnits="userSpaceOnUse" x1="370.00" x2="393.10" y1="0" y2="0" spreadMethod="reflect"><stop offset="0.000" stop-color="#bc0403"/><stop offset="0.065" stop-color="#ab0201"/><stop offset="0.130" stop-color="#920000"/><stop offset="1.000" stop-color="#940000"/></linearGradient><linearGradient id="g155" gradientUnits="userSpaceOnUse" x1="370.00" x2="393.10" y1="0" y2="0" spreadMethod="reflect"><stop offset="0.000" stop-color="#b70303"/><stop offset="0.065" stop-color="#a60101"/><stop offset="0.130" stop-color="#8f0000"/><stop offset="1.000" stop-color="#900000"/></linearGradient><linearGradient id="g156" gradientUnits="userSpaceOnUse" x1="370.00" x2="393.10" y1="0" y2="0" spreadMethod="reflect"><stop offset="0.000" stop-color="#ba0303"/><stop offset="0.065" stop-color="#ab0101"/><stop offset="0.130" stop-color="#930000"/><stop offset="1.000" stop-color="#8f0000"/></linearGradient><linearGradient id="g157" gradientUnits="userSpaceOnUse" x1="370.00" x2="393.10" y1="0" y2="0" spreadMethod="reflect"><stop offset="0.000" stop-color="#bb0403"/><stop offset="0.065" stop-color="#aa0101"/><stop offset="0.130" stop-color="#900000"/><stop offset="1.000" stop-color="#8a0000"/></linearGradient><linearGradient id="g158" gradientUnits="userSpaceOnUse" x1="370.00" x2="393.10" y1="0" y2="0" spreadMethod="reflect"><stop offset="0.000" stop-color="#b30302"/><stop offset="0.065" stop-color="#a20000"/><stop offset="0.130" stop-color="#8d0000"/><stop offset="1.000" stop-color="#8e0000"/></linearGradient><linearGradient id="g159" gradientUnits="userSpaceOnUse" x1="370.00" x2="393.10" y1="0" y2="0" spreadMethod="reflect"><stop offset="0.000" stop-color="#b20202"/><stop offset="0.065" stop-color="#9f0000"/><stop offset="0.130" stop-color="#8d0000"/><stop offset="1.000" stop-color="#8c0000"/></linearGradient><linearGradient id="g160" gradientUnits="userSpaceOnUse" x1="370.00" x2="393.10" y1="0" y2="0" spreadMethod="reflect"><stop offset="0.000" stop-color="#b90303"/><stop offset="0.065" stop-color="#a70101"/><stop offset="0.130" stop-color="#930000"/><stop offset="1.000" stop-color="#930000"/></linearGradient><linearGradient id="g161" gradientUnits="userSpaceOnUse" x1="420.40" x2="443.50" y1="0" y2="0" spreadMethod="reflect"><stop offset="0.000" stop-color="#1d4fe2"/><stop offset="0.087" stop-color="#265ee3"/><stop offset="0.152" stop-color="#4a96e7"/><stop offset="0.195" stop-color="#85ceef"/><stop offset="0.216" stop-color="#bae8f4"/><stop offset="0.238" stop-color="#e5f8e5"/><stop offset="0.260" stop-color="#fafbc3"/><stop offset="0.281" stop-color="#fff194"/><stop offset="0.303" stop-color="#ffda65"/><stop offset="0.346" stop-color="#fe8d34"/><stop offset="0.390" stop-color="#f4421c"/><stop offset="0.433" stop-color="#e4190d"/><stop offset="0.519" stop-color="#d10906"/><stop offset="0.693" stop-color="#c50504"/><stop offset="1.000" stop-color="#cd0605"/></linearGradient><linearGradient id="g162" gradientUnits="userSpaceOnUse" x1="420.40" x2="443.50" y1="0" y2="0" spreadMethod="reflect"><stop offset="0.000" stop-color="#2e6de3"/><stop offset="0.087" stop-color="#367ae4"/><stop offset="0.152" stop-color="#59a8e9"/><stop offset="0.195" stop-color="#92d6f0"/><stop offset="0.216" stop-color="#c4edf5"/><stop offset="0.238" stop-color="#e7f9e4"/><stop offset="0.260" stop-color="#fafbc4"/><stop offset="0.303" stop-color="#ffe16b"/><stop offset="0.346" stop-color="#fe9b3a"/><stop offset="0.390" stop-color="#f75321"/><stop offset="0.433" stop-color="#ea2512"/><stop offset="0.519" stop-color="#d70d08"/><stop offset="1.000" stop-color="#cc0605"/></linearGradient><linearGradient id="g163" gradientUnits="userSpaceOnUse" x1="420.40" x2="443.50" y1="0" y2="0" spreadMethod="reflect"><stop offset="0.000" stop-color="#56a4e9"/><stop offset="0.087" stop-color="#61b0eb"/><stop offset="0.130" stop-color="#7dc8ee"/><stop offset="0.152" stop-color="#97d9f1"/><stop offset="0.173" stop-color="#bfeaf4"/><stop offset="0.195" stop-color="#e0f7ea"/><stop offset="0.216" stop-color="#f7fcd1"/><stop offset="0.260" stop-color="#ffe97d"/><stop offset="0.303" stop-color="#fea740"/><stop offset="0.346" stop-color="#f75622"/><stop offset="0.390" stop-color="#e71f10"/><stop offset="0.433" stop-color="#d50c08"/><stop offset="0.519" stop-color="#c80504"/><stop offset="1.000" stop-color="#c90605"/></linearGradient><linearGradient id="g164" gradientUnits="userSpaceOnUse" x1="420.40" x2="443.50" y1="0" y2="0" spreadMethod="reflect"><stop offset="0.000" stop-color="#1744e2"/><stop offset="0.065" stop-color="#1b4be2"/><stop offset="0.108" stop-color="#2a65e3"/><stop offset="0.152" stop-color="#4b96e7"/><stop offset="0.173" stop-color="#67b5eb"/><stop offset="0.195" stop-color="#90d6f0"/><stop offset="0.216" stop-color="#cff2f6"/><stop offset="0.238" stop-color="#f3fcd9"/><stop offset="0.260" stop-color="#fef8ae"/><stop offset="0.281" stop-color="#ffe777"/><stop offset="0.303" stop-color="#ffc552"/><stop offset="0.346" stop-color="#fb732a"/><stop offset="0.390" stop-color="#f03117"/><stop offset="0.433" stop-color="#e1150c"/><stop offset="0.519" stop-color="#d40c07"/><stop offset="0.693" stop-color="#d70d08"/><stop offset="1.000" stop-color="#c90505"/></linearGradient><linearGradient id="g165" gradientUnits="userSpaceOnUse" x1="420.40" x2="443.50" y1="0" y2="0" spreadMethod="reflect"><stop offset="0.000" stop-color="#2761e3"/><stop offset="0.087" stop-color="#3273e4"/><stop offset="0.130" stop-color="#4c97e7"/><stop offset="0.173" stop-color="#84ceef"/><stop offset="0.195" stop-color="#bae9f4"/><stop offset="0.216" stop-color="#e6f9e4"/><stop offset="0.238" stop-color="#fbfac0"/><stop offset="0.260" stop-color="#ffef8f"/><stop offset="0.281" stop-color="#ffd561"/><stop offset="0.325" stop-color="#fd8531"/><stop offset="0.346" stop-color="#f85e24"/><stop offset="0.390" stop-color="#ec2913"/><stop offset="0.433" stop-color="#df140b"/><stop offset="0.823" stop-color="#ce0705"/><stop offset="1.000" stop-color="#ce0605"/></linearGradient><linearGradient id="g166" gradientUnits="userSpaceOnUse" x1="420.40" x2="443.50" y1="0" y2="0" spreadMethod="reflect"><stop offset="0.000" stop-color="#2054e2"/><stop offset="0.065" stop-color="#255de3"/><stop offset="0.108" stop-color="#367be4"/><stop offset="0.152" stop-color="#62b1eb"/><stop offset="0.173" stop-color="#88d1ef"/><stop offset="0.195" stop-color="#c6eef5"/><stop offset="0.216" stop-color="#effbdd"/><stop offset="0.238" stop-color="#fef9b1"/><stop offset="0.260" stop-color="#ffe778"/><stop offset="0.281" stop-color="#ffc452"/><stop offset="0.325" stop-color="#fb6d28"/><stop offset="0.346" stop-color="#f5471d"/><stop offset="0.390" stop-color="#e51c0f"/><stop offset="0.476" stop-color="#d50c08"/><stop offset="1.000" stop-color="#cd0605"/></linearGradient><linearGradient id="g167" gradientUnits="userSpaceOnUse" x1="420.40" x2="443.50" y1="0" y2="0" spreadMethod="reflect"><stop offset="0.000" stop-color="#3e85e5"/><stop offset="0.087" stop-color="#4b96e7"/><stop offset="0.130" stop-color="#69b7ec"/><stop offset="0.152" stop-color="#85ceef"/><stop offset="0.173" stop-color="#b4e6f3"/><stop offset="0.195" stop-color="#e0f7ea"/><stop offset="0.216" stop-color="#f8fccb"/><stop offset="0.260" stop-color="#ffe06b"/><stop offset="0.303" stop-color="#fe9136"/><stop offset="0.346" stop-color="#f4441c"/><stop offset="0.390" stop-color="#e51b0e"/><stop offset="0.476" stop-color="#d40c07"/><stop offset="1.000" stop-color="#d10906"/></linearGradient><linearGradient id="g168" gradientUnits="userSpaceOnUse" x1="420.40" x2="443.50" y1="0" y2="0" spreadMethod="reflect"><stop offset="0.000" stop-color="#4691e7"/><stop offset="0.065" stop-color="#4d99e8"/><stop offset="0.108" stop-color="#65b3eb"/><stop offset="0.130" stop-color="#7dc8ee"/><stop offset="0.173" stop-color="#d8f5f1"/><stop offset="0.195" stop-color="#f6fdd5"/><stop offset="0.216" stop-color="#fff8aa"/><stop offset="0.238" stop-color="#ffe570"/><stop offset="0.281" stop-color="#fe9136"/><stop offset="0.325" stop-color="#f33d1a"/><stop offset="0.346" stop-color="#e92311"/><stop offset="0.390" stop-color="#d80e09"/><stop offset="0.606" stop-color="#ce0605"/><stop offset="1.000" stop-color="#d10906"/></linearGradient><linearGradient id="g169" gradientUnits="userSpaceOnUse" x1="420.40" x2="443.50" y1="0" y2="0" spreadMethod="reflect"><stop offset="0.000" stop-color="#2f6fe3"/><stop offset="0.065" stop-color="#3579e4"/><stop offset="0.108" stop-color="#4a95e7"/><stop offset="0.152" stop-color="#7cc7ee"/><stop offset="0.173" stop-color="#aee3f3"/><stop offset="0.195" stop-color="#e0f7ea"/><stop offset="0.216" stop-color="#fafbc5"/><stop offset="0.238" stop-color="#fff092"/><stop offset="0.260" stop-color="#ffd460"/><stop offset="0.303" stop-color="#fd7c2d"/><stop offset="0.325" stop-color="#f64e20"/><stop offset="0.346" stop-color="#ee2d15"/><stop offset="0.390" stop-color="#da1009"/><stop offset="0.519" stop-color="#ca0605"/><stop offset="1.000" stop-color="#c00404"/></linearGradient><linearGradient id="g170" gradientUnits="userSpaceOnUse" x1="420.40" x2="443.50" y1="0" y2="0" spreadMethod="reflect"><stop offset="0.000" stop-color="#4791e7"/><stop offset="0.065" stop-color="#4d98e8"/><stop offset="0.108" stop-color="#63b2eb"/><stop offset="0.152" stop-color="#9ddcf1"/><stop offset="0.173" stop-color="#d2f3f6"/><stop offset="0.195" stop-color="#f1fcdb"/><stop offset="0.216" stop-color="#fdf9b3"/><stop offset="0.238" stop-color="#ffe97e"/><stop offset="0.260" stop-color="#ffc956"/><stop offset="0.303" stop-color="#fb712a"/><stop offset="0.346" stop-color="#ed2a14"/><stop offset="0.390" stop-color="#da1009"/><stop offset="0.519" stop-color="#cc0605"/><stop offset="1.000" stop-color="#cc0605"/></linearGradient><linearGradient id="g171" gradientUnits="userSpaceOnUse" x1="420.40" x2="443.50" y1="0" y2="0" spreadMethod="reflect"><stop offset="0.000" stop-color="#3e86e5"/><stop offset="0.065" stop-color="#458fe6"/><stop offset="0.108" stop-color="#5faeea"/><stop offset="0.130" stop-color="#7bc6ee"/><stop offset="0.173" stop-color="#dcf6ee"/><stop offset="0.195" stop-color="#f8fccb"/><stop offset="0.216" stop-color="#fff297"/><stop offset="0.238" stop-color="#ffd561"/><stop offset="0.281" stop-color="#fb732a"/><stop offset="0.303" stop-color="#f4411c"/><stop offset="0.325" stop-color="#e71f10"/><stop offset="0.346" stop-color="#d80f09"/><stop offset="0.433" stop-color="#c00404"/><stop offset="0.693" stop-color="#b40302"/><stop offset="1.000" stop-color="#bf0403"/></linearGradient><linearGradient id="g172" gradientUnits="userSpaceOnUse" x1="420.40" x2="443.50" y1="0" y2="0" spreadMethod="reflect"><stop offset="0.000" stop-color="#4690e6"/><stop offset="0.065" stop-color="#509ce8"/><stop offset="0.087" stop-color="#5cacea"/><stop offset="0.108" stop-color="#75c0ed"/><stop offset="0.130" stop-color="#9cdbf1"/><stop offset="0.152" stop-color="#d6f4f2"/><stop offset="0.173" stop-color="#f7fcd0"/><stop offset="0.195" stop-color="#fff39a"/><stop offset="0.216" stop-color="#ffd460"/><stop offset="0.260" stop-color="#fa6c28"/><stop offset="0.281" stop-color="#f33a1a"/><stop offset="0.303" stop-color="#e51c0e"/><stop offset="0.346" stop-color="#cf0806"/><stop offset="0.693" stop-color="#bb0403"/><stop offset="1.000" stop-color="#bd0403"/></linearGradient><linearGradient id="g173" gradientUnits="userSpaceOnUse" x1="420.40" x2="443.50" y1="0" y2="0" spreadMethod="reflect"><stop offset="0.000" stop-color="#3377e4"/><stop offset="0.065" stop-color="#3b83e5"/><stop offset="0.108" stop-color="#5aa9ea"/><stop offset="0.130" stop-color="#7ac5ee"/><stop offset="0.152" stop-color="#aee3f3"/><stop offset="0.173" stop-color="#e4f8e6"/><stop offset="0.195" stop-color="#fbfabc"/><stop offset="0.216" stop-color="#ffea80"/><stop offset="0.238" stop-color="#ffc553"/><stop offset="0.281" stop-color="#f96526"/><stop offset="0.303" stop-color="#f33e1b"/><stop offset="0.346" stop-color="#e3170d"/><stop offset="0.476" stop-color="#d50c08"/><stop offset="1.000" stop-color="#cf0806"/></linearGradient><linearGradient id="g174" gradientUnits="userSpaceOnUse" x1="420.40" x2="443.50" y1="0" y2="0" spreadMethod="reflect"><stop offset="0.000" stop-color="#4c97e7"/><stop offset="0.065" stop-color="#54a2e9"/><stop offset="0.108" stop-color="#76c2ed"/><stop offset="0.130" stop-color="#9adaf1"/><stop offset="0.152" stop-color="#d3f3f5"/><stop offset="0.173" stop-color="#f5fdd8"/><stop offset="0.195" stop-color="#fff8a9"/><stop offset="0.216" stop-color="#ffe16c"/><stop offset="0.238" stop-color="#ffb647"/><stop offset="0.281" stop-color="#f75221"/><stop offset="0.303" stop-color="#ee2d15"/><stop offset="0.346" stop-color="#d90f09"/><stop offset="0.519" stop-color="#cb0605"/><stop offset="1.000" stop-color="#cd0605"/></linearGradient><linearGradient id="g175" gradientUnits="userSpaceOnUse" x1="420.40" x2="443.50" y1="0" y2="0" spreadMethod="reflect"><stop offset="0.000" stop-color="#3c84e5"/><stop offset="0.065" stop-color="#4792e7"/><stop offset="0.087" stop-color="#55a4e9"/><stop offset="0.108" stop-color="#70bded"/><stop offset="0.130" stop-color="#9ddcf1"/><stop offset="0.152" stop-color="#dbf6ee"/><stop offset="0.173" stop-color="#fafbc4"/><stop offset="0.195" stop-color="#ffec85"/><stop offset="0.216" stop-color="#ffc351"/><stop offset="0.260" stop-color="#f65120"/><stop offset="0.281" stop-color="#eb2713"/><stop offset="0.325" stop-color="#d10906"/><stop offset="0.476" stop-color="#c20504"/><stop offset="1.000" stop-color="#be0403"/></linearGradient><linearGradient id="g176" gradientUnits="userSpaceOnUse" x1="420.40" x2="443.50" y1="0" y2="0" spreadMethod="reflect"><stop offset="0.000" stop-color="#3e86e5"/><stop offset="0.065" stop-color="#4b96e7"/><stop offset="0.087" stop-color="#5babea"/><stop offset="0.108" stop-color="#7bc6ee"/><stop offset="0.130" stop-color="#b4e6f3"/><stop offset="0.152" stop-color="#ebfae1"/><stop offset="0.173" stop-color="#fef8ad"/><stop offset="0.195" stop-color="#ffdc67"/><stop offset="0.216" stop-color="#fea53f"/><stop offset="0.260" stop-color="#f03017"/><stop offset="0.281" stop-color="#df130b"/><stop offset="0.346" stop-color="#c40504"/><stop offset="1.000" stop-color="#b60302"/></linearGradient><linearGradient id="g177" gradientUnits="userSpaceOnUse" x1="420.40" x2="443.50" y1="0" y2="0" spreadMethod="reflect"><stop offset="0.000" stop-color="#55a3e9"/><stop offset="0.065" stop-color="#61b0eb"/><stop offset="0.087" stop-color="#74c0ed"/><stop offset="0.108" stop-color="#95d8f1"/><stop offset="0.130" stop-color="#cff2f6"/><stop offset="0.152" stop-color="#f5fdd7"/><stop offset="0.173" stop-color="#fff6a3"/><stop offset="0.195" stop-color="#ffd863"/><stop offset="0.216" stop-color="#fea33e"/><stop offset="0.260" stop-color="#f23418"/><stop offset="0.281" stop-color="#e1160c"/><stop offset="0.346" stop-color="#c70504"/><stop offset="1.000" stop-color="#ba0403"/></linearGradient><linearGradient id="g178" gradientUnits="userSpaceOnUse" x1="420.40" x2="443.50" y1="0" y2="0" spreadMethod="reflect"><stop offset="0.000" stop-color="#529fe8"/><stop offset="0.065" stop-color="#5eaeea"/><stop offset="0.087" stop-color="#71beed"/><stop offset="0.108" stop-color="#91d6f0"/><stop offset="0.130" stop-color="#ccf0f6"/><stop offset="0.152" stop-color="#f5fdd8"/><stop offset="0.173" stop-color="#fff6a3"/><stop offset="0.195" stop-color="#ffd762"/><stop offset="0.216" stop-color="#fea03d"/><stop offset="0.260" stop-color="#ee2d15"/><stop offset="0.281" stop-color="#dc110a"/><stop offset="0.325" stop-color="#c40504"/><stop offset="0.519" stop-color="#b80303"/><stop offset="1.000" stop-color="#b10202"/></linearGradient><linearGradient id="g179" gradientUnits="userSpaceOnUse" x1="420.40" x2="443.50" y1="0" y2="0" spreadMethod="reflect"><stop offset="0.000" stop-color="#509de8"/><stop offset="0.043" stop-color="#54a2e9"/><stop offset="0.065" stop-color="#5eaeea"/><stop offset="0.087" stop-color="#75c1ed"/><stop offset="0.108" stop-color="#9cdbf1"/><stop offset="0.130" stop-color="#d9f5f0"/><stop offset="0.152" stop-color="#f9fbc7"/><stop offset="0.173" stop-color="#ffec87"/><stop offset="0.195" stop-color="#ffc14f"/><stop offset="0.238" stop-color="#f5461d"/><stop offset="0.260" stop-color="#e61d0f"/><stop offset="0.303" stop-color="#cc0605"/><stop offset="0.476" stop-color="#be0403"/><stop offset="1.000" stop-color="#ba0403"/></linearGradient><linearGradient id="g180" gradientUnits="userSpaceOnUse" x1="420.40" x2="443.50" y1="0" y2="0" spreadMethod="reflect"><stop offset="0.000" stop-color="#4b96e7"/><stop offset="0.043" stop-color="#509de8"/><stop offset="0.065" stop-color="#5babea"/><stop offset="0.087" stop-color="#77c2ed"/><stop offset="0.108" stop-color="#aae1f3"/><stop offset="0.130" stop-color="#e6f9e5"/><stop offset="0.152" stop-color="#fef9b0"/><stop offset="0.173" stop-color="#ffdb66"/><stop offset="0.195" stop-color="#fe9e3c"/><stop offset="0.216" stop-color="#f85b23"/><stop offset="0.238" stop-color="#eb2713"/><stop offset="0.260" stop-color="#d90f09"/><stop offset="0.325" stop-color="#c40504"/><stop offset="0.693" stop-color="#b60302"/><stop offset="1.000" stop-color="#bc0403"/></linearGradient><linearGradient id="g181" gradientUnits="userSpaceOnUse" x1="420.40" x2="443.50" y1="0" y2="0" spreadMethod="reflect"><stop offset="0.000" stop-color="#7ac5ee"/><stop offset="0.043" stop-color="#80caef"/><stop offset="0.065" stop-color="#91d6f0"/><stop offset="0.087" stop-color="#b8e7f4"/><stop offset="0.108" stop-color="#e3f8e7"/><stop offset="0.130" stop-color="#fbfabe"/><stop offset="0.152" stop-color="#ffe87b"/><stop offset="0.173" stop-color="#ffb948"/><stop offset="0.216" stop-color="#f33819"/><stop offset="0.238" stop-color="#e0150b"/><stop offset="0.281" stop-color="#c90505"/><stop offset="0.606" stop-color="#be0403"/><stop offset="1.000" stop-color="#bc0403"/></linearGradient><linearGradient id="g182" gradientUnits="userSpaceOnUse" x1="420.40" x2="443.50" y1="0" y2="0" spreadMethod="reflect"><stop offset="0.000" stop-color="#74c0ed"/><stop offset="0.043" stop-color="#7ac5ee"/><stop offset="0.065" stop-color="#87d0ef"/><stop offset="0.087" stop-color="#a8e0f2"/><stop offset="0.108" stop-color="#d8f5f1"/><stop offset="0.130" stop-color="#f7fcd0"/><stop offset="0.152" stop-color="#fff297"/><stop offset="0.173" stop-color="#ffce5a"/><stop offset="0.195" stop-color="#fe9237"/><stop offset="0.216" stop-color="#f75221"/><stop offset="0.238" stop-color="#e92311"/><stop offset="0.260" stop-color="#d70e08"/><stop offset="0.325" stop-color="#c20504"/><stop offset="0.606" stop-color="#bf0403"/><stop offset="1.000" stop-color="#ba0303"/></linearGradient><linearGradient id="g183" gradientUnits="userSpaceOnUse" x1="420.40" x2="443.50" y1="0" y2="0" spreadMethod="reflect"><stop offset="0.000" stop-color="#7bc6ee"/><stop offset="0.043" stop-color="#81cbef"/><stop offset="0.065" stop-color="#91d6f0"/><stop offset="0.087" stop-color="#b7e7f4"/><stop offset="0.108" stop-color="#e2f7e8"/><stop offset="0.130" stop-color="#fafbc1"/><stop offset="0.152" stop-color="#ffea7f"/><stop offset="0.173" stop-color="#ffbb4a"/><stop offset="0.216" stop-color="#f23719"/><stop offset="0.238" stop-color="#de130b"/><stop offset="0.281" stop-color="#c30504"/><stop offset="0.519" stop-color="#b70303"/><stop offset="1.000" stop-color="#b20202"/></linearGradient><linearGradient id="g184" gradientUnits="userSpaceOnUse" x1="420.40" x2="443.50" y1="0" y2="0" spreadMethod="reflect"><stop offset="0.000" stop-color="#58a7e9"/><stop offset="0.043" stop-color="#5eaeea"/><stop offset="0.065" stop-color="#70bcec"/><stop offset="0.087" stop-color="#91d6f0"/><stop offset="0.108" stop-color="#d4f3f5"/><stop offset="0.130" stop-color="#f9fcca"/><stop offset="0.152" stop-color="#ffeb82"/><stop offset="0.173" stop-color="#ffb847"/><stop offset="0.216" stop-color="#f03016"/><stop offset="0.238" stop-color="#dc110a"/><stop offset="0.303" stop-color="#c30504"/><stop offset="0.693" stop-color="#b40302"/><stop offset="1.000" stop-color="#bb0403"/></linearGradient><linearGradient id="g185" gradientUnits="userSpaceOnUse" x1="420.40" x2="443.50" y1="0" y2="0" spreadMethod="reflect"><stop offset="0.000" stop-color="#7ec8ee"/><stop offset="0.043" stop-color="#85ceef"/><stop offset="0.065" stop-color="#99daf1"/><stop offset="0.087" stop-color="#c4edf5"/><stop offset="0.108" stop-color="#ecfae0"/><stop offset="0.130" stop-color="#fef9b0"/><stop offset="0.152" stop-color="#ffde69"/><stop offset="0.173" stop-color="#fea23e"/><stop offset="0.195" stop-color="#f85d24"/><stop offset="0.216" stop-color="#eb2713"/><stop offset="0.238" stop-color="#d80e09"/><stop offset="0.303" stop-color="#c20504"/><stop offset="1.000" stop-color="#c00404"/></linearGradient><linearGradient id="g186" gradientUnits="userSpaceOnUse" x1="420.40" x2="443.50" y1="0" y2="0" spreadMethod="reflect"><stop offset="0.000" stop-color="#84cdef"/><stop offset="0.043" stop-color="#8bd3f0"/><stop offset="0.065" stop-color="#a3def2"/><stop offset="0.087" stop-color="#d0f2f6"/><stop offset="0.108" stop-color="#f3fcd9"/><stop offset="0.130" stop-color="#fff6a3"/><stop offset="0.152" stop-color="#ffd25e"/><stop offset="0.173" stop-color="#fe9136"/><stop offset="0.195" stop-color="#f5491e"/><stop offset="0.216" stop-color="#e3170d"/><stop offset="0.238" stop-color="#cf0706"/><stop offset="0.303" stop-color="#ba0403"/><stop offset="1.000" stop-color="#b90303"/></linearGradient><linearGradient id="g187" gradientUnits="userSpaceOnUse" x1="420.40" x2="443.50" y1="0" y2="0" spreadMethod="reflect"><stop offset="0.000" stop-color="#7bc6ee"/><stop offset="0.043" stop-color="#85ceef"/><stop offset="0.065" stop-color="#a1ddf2"/><stop offset="0.087" stop-color="#d6f4f3"/><stop offset="0.108" stop-color="#f8fccb"/><stop offset="0.130" stop-color="#ffeb84"/><stop offset="0.152" stop-color="#ffb647"/><stop offset="0.173" stop-color="#fa6827"/><stop offset="0.195" stop-color="#eb2713"/><stop offset="0.216" stop-color="#d60d08"/><stop offset="0.281" stop-color="#c00404"/><stop offset="0.693" stop-color="#b10202"/><stop offset="1.000" stop-color="#bc0403"/></linearGradient><linearGradient id="g188" gradientUnits="userSpaceOnUse" x1="420.40" x2="443.50" y1="0" y2="0" spreadMethod="reflect"><stop offset="0.000" stop-color="#81cbef"/><stop offset="0.043" stop-color="#8ad3f0"/><stop offset="0.065" stop-color="#aae1f3"/><stop offset="0.087" stop-color="#dbf5ee"/><stop offset="0.108" stop-color="#fafbc5"/><stop offset="0.130" stop-color="#ffe87b"/><stop offset="0.152" stop-color="#ffaf43"/><stop offset="0.173" stop-color="#f96326"/><stop offset="0.195" stop-color="#eb2813"/><stop offset="0.216" stop-color="#d90f09"/><stop offset="0.281" stop-color="#c60504"/><stop offset="1.000" stop-color="#c20404"/></linearGradient><linearGradient id="g189" gradientUnits="userSpaceOnUse" x1="420.40" x2="443.50" y1="0" y2="0" spreadMethod="reflect"><stop offset="0.000" stop-color="#a1ddf2"/><stop offset="0.043" stop-color="#b1e4f3"/><stop offset="0.065" stop-color="#d4f3f5"/><stop offset="0.087" stop-color="#f4fcd9"/><stop offset="0.108" stop-color="#fff49e"/><stop offset="0.130" stop-color="#ffc956"/><stop offset="0.152" stop-color="#fd7d2d"/><stop offset="0.173" stop-color="#ef2f16"/><stop offset="0.195" stop-color="#d50c08"/><stop offset="0.238" stop-color="#bc0403"/><stop offset="0.606" stop-color="#b70303"/><stop offset="1.000" stop-color="#af0202"/></linearGradient><linearGradient id="g190" gradientUnits="userSpaceOnUse" x1="420.40" x2="443.50" y1="0" y2="0" spreadMethod="reflect"><stop offset="0.000" stop-color="#76c2ed"/><stop offset="0.043" stop-color="#7ec8ee"/><stop offset="0.065" stop-color="#93d7f1"/><stop offset="0.087" stop-color="#c4edf5"/><stop offset="0.108" stop-color="#f0fbdc"/><stop offset="0.130" stop-color="#fff6a4"/><stop offset="0.152" stop-color="#ffcf5c"/><stop offset="0.173" stop-color="#fd8a33"/><stop offset="0.195" stop-color="#f4401b"/><stop offset="0.216" stop-color="#df130b"/><stop offset="0.260" stop-color="#c10404"/><stop offset="0.519" stop-color="#b50302"/><stop offset="1.000" stop-color="#bb0403"/></linearGradient><linearGradient id="g191" gradientUnits="userSpaceOnUse" x1="420.40" x2="443.50" y1="0" y2="0" spreadMethod="reflect"><stop offset="0.000" stop-color="#b8e7f4"/><stop offset="0.043" stop-color="#c8eff5"/><stop offset="0.065" stop-color="#e0f7ea"/><stop offset="0.087" stop-color="#f9fcca"/><stop offset="0.108" stop-color="#ffed89"/><stop offset="0.130" stop-color="#ffba49"/><stop offset="0.152" stop-color="#f96526"/><stop offset="0.173" stop-color="#e61e0f"/><stop offset="0.195" stop-color="#cb0605"/><stop offset="0.238" stop-color="#b40302"/><stop offset="0.693" stop-color="#aa0101"/><stop offset="1.000" stop-color="#b60302"/></linearGradient><linearGradient id="g192" gradientUnits="userSpaceOnUse" x1="420.40" x2="443.50" y1="0" y2="0" spreadMethod="reflect"><stop offset="0.000" stop-color="#bbe9f4"/><stop offset="0.022" stop-color="#bdeaf4"/><stop offset="0.043" stop-color="#cef1f6"/><stop offset="0.065" stop-color="#e5f8e5"/><stop offset="0.087" stop-color="#fbfabd"/><stop offset="0.108" stop-color="#ffe570"/><stop offset="0.130" stop-color="#fe9c3b"/><stop offset="0.152" stop-color="#f4401c"/><stop offset="0.173" stop-color="#d50c08"/><stop offset="0.195" stop-color="#bc0403"/><stop offset="0.260" stop-color="#a90101"/><stop offset="1.000" stop-color="#a90101"/></linearGradient><linearGradient id="g193" gradientUnits="userSpaceOnUse" x1="420.40" x2="443.50" y1="0" y2="0" spreadMethod="reflect"><stop offset="0.000" stop-color="#a8e0f2"/><stop offset="0.022" stop-color="#aae1f3"/><stop offset="0.043" stop-color="#b9e8f4"/><stop offset="0.065" stop-color="#d8f5f1"/><stop offset="0.087" stop-color="#f7fcd2"/><stop offset="0.108" stop-color="#ffef90"/><stop offset="0.130" stop-color="#ffbd4b"/><stop offset="0.152" stop-color="#f96626"/><stop offset="0.173" stop-color="#e41a0e"/><stop offset="0.195" stop-color="#c60504"/><stop offset="0.238" stop-color="#ad0201"/><stop offset="0.606" stop-color="#a70101"/><stop offset="1.000" stop-color="#a50101"/></linearGradient><linearGradient id="g194" gradientUnits="userSpaceOnUse" x1="420.40" x2="443.50" y1="0" y2="0" spreadMethod="reflect"><stop offset="0.000" stop-color="#dff7eb"/><stop offset="0.043" stop-color="#e7f9e4"/><stop offset="0.065" stop-color="#f7fcd2"/><stop offset="0.087" stop-color="#fff8aa"/><stop offset="0.108" stop-color="#ffdb66"/><stop offset="0.130" stop-color="#fe9638"/><stop offset="0.152" stop-color="#f4411c"/><stop offset="0.173" stop-color="#d70e08"/><stop offset="0.216" stop-color="#b10202"/><stop offset="0.476" stop-color="#a50101"/><stop offset="1.000" stop-color="#a40100"/></linearGradient><linearGradient id="g195" gradientUnits="userSpaceOnUse" x1="420.40" x2="443.50" y1="0" y2="0" spreadMethod="reflect"><stop offset="0.000" stop-color="#daf5ef"/><stop offset="0.043" stop-color="#e3f8e7"/><stop offset="0.065" stop-color="#f6fdd6"/><stop offset="0.087" stop-color="#fff8aa"/><stop offset="0.108" stop-color="#ffd864"/><stop offset="0.130" stop-color="#fe9237"/><stop offset="0.152" stop-color="#f43f1b"/><stop offset="0.173" stop-color="#d90f09"/><stop offset="0.216" stop-color="#ba0403"/><stop offset="1.000" stop-color="#ad0201"/></linearGradient><linearGradient id="g196" gradientUnits="userSpaceOnUse" x1="420.40" x2="443.50" y1="0" y2="0" spreadMethod="reflect"><stop offset="0.000" stop-color="#f2fcda"/><stop offset="0.043" stop-color="#f7fdd3"/><stop offset="0.065" stop-color="#fbfabe"/><stop offset="0.087" stop-color="#fff195"/><stop offset="0.108" stop-color="#ffd15d"/><stop offset="0.130" stop-color="#fe9035"/><stop offset="0.152" stop-color="#f4401b"/><stop offset="0.173" stop-color="#d80f09"/><stop offset="0.216" stop-color="#b20202"/><stop offset="0.476" stop-color="#a60101"/><stop offset="1.000" stop-color="#a50101"/></linearGradient><linearGradient id="g197" gradientUnits="userSpaceOnUse" x1="420.40" x2="443.50" y1="0" y2="0" spreadMethod="reflect"><stop offset="0.000" stop-color="#e3f8e7"/><stop offset="0.043" stop-color="#ecfae0"/><stop offset="0.065" stop-color="#f8fccc"/><stop offset="0.087" stop-color="#fff5a1"/><stop offset="0.108" stop-color="#ffd460"/><stop offset="0.130" stop-color="#fe8e34"/><stop offset="0.152" stop-color="#f33919"/><stop offset="0.173" stop-color="#d40c07"/><stop offset="0.216" stop-color="#b20202"/><stop offset="0.606" stop-color="#a90101"/><stop offset="1.000" stop-color="#a50101"/></linearGradient><linearGradient id="g198" gradientUnits="userSpaceOnUse" x1="420.40" x2="443.50" y1="0" y2="0" spreadMethod="reflect"><stop offset="0.000" stop-color="#f8fccc"/><stop offset="0.043" stop-color="#fafbc1"/><stop offset="0.065" stop-color="#fff7a8"/><stop offset="0.087" stop-color="#ffe571"/><stop offset="0.108" stop-color="#ffb044"/><stop offset="0.130" stop-color="#f85f24"/><stop offset="0.152" stop-color="#e3180d"/><stop offset="0.173" stop-color="#c50504"/><stop offset="0.216" stop-color="#ac0201"/><stop offset="1.000" stop-color="#a30000"/></linearGradient><linearGradient id="g199" gradientUnits="userSpaceOnUse" x1="420.40" x2="443.50" y1="0" y2="0" spreadMethod="reflect"><stop offset="0.000" stop-color="#f9fbc8"/><stop offset="0.043" stop-color="#fbfabd"/><stop offset="0.065" stop-color="#fff5a1"/><stop offset="0.087" stop-color="#ffdf6a"/><stop offset="0.108" stop-color="#fea43f"/><stop offset="0.130" stop-color="#f65020"/><stop offset="0.152" stop-color="#dc110a"/><stop offset="0.173" stop-color="#bf0403"/><stop offset="0.216" stop-color="#aa0101"/><stop offset="0.823" stop-color="#a60101"/><stop offset="1.000" stop-color="#a80101"/></linearGradient><linearGradient id="g200" gradientUnits="userSpaceOnUse" x1="420.40" x2="443.50" y1="0" y2="0" spreadMethod="reflect"><stop offset="0.000" stop-color="#fdf9b4"/><stop offset="0.043" stop-color="#fff8a9"/><stop offset="0.065" stop-color="#ffed8a"/><stop offset="0.087" stop-color="#ffd25e"/><stop offset="0.108" stop-color="#fe9839"/><stop offset="0.130" stop-color="#f5471e"/><stop offset="0.152" stop-color="#d90f09"/><stop offset="0.173" stop-color="#bd0403"/><stop offset="0.216" stop-color="#a80101"/><stop offset="1.000" stop-color="#9d0000"/></linearGradient><linearGradient id="g201" gradientUnits="userSpaceOnUse" x1="420.40" x2="443.50" y1="0" y2="0" spreadMethod="reflect"><stop offset="0.000" stop-color="#fff6a3"/><stop offset="0.022" stop-color="#fff49f"/><stop offset="0.043" stop-color="#ffee8b"/><stop offset="0.065" stop-color="#ffd561"/><stop offset="0.087" stop-color="#fe9538"/><stop offset="0.108" stop-color="#f33819"/><stop offset="0.130" stop-color="#cd0605"/><stop offset="0.152" stop-color="#b30302"/><stop offset="0.216" stop-color="#a60101"/><stop offset="1.000" stop-color="#a50101"/></linearGradient><linearGradient id="g202" gradientUnits="userSpaceOnUse" x1="420.40" x2="443.50" y1="0" y2="0" spreadMethod="reflect"><stop offset="0.000" stop-color="#fff298"/><stop offset="0.043" stop-color="#ffee8b"/><stop offset="0.065" stop-color="#ffe36d"/><stop offset="0.087" stop-color="#ffbf4d"/><stop offset="0.108" stop-color="#fd802e"/><stop offset="0.130" stop-color="#f03016"/><stop offset="0.152" stop-color="#ce0605"/><stop offset="0.173" stop-color="#b30302"/><stop offset="0.216" stop-color="#a00000"/><stop offset="0.823" stop-color="#970000"/><stop offset="1.000" stop-color="#980000"/></linearGradient><linearGradient id="g203" gradientUnits="userSpaceOnUse" x1="420.40" x2="443.50" y1="0" y2="0" spreadMethod="reflect"><stop offset="0.000" stop-color="#fff093"/><stop offset="0.022" stop-color="#ffef90"/><stop offset="0.043" stop-color="#ffe97e"/><stop offset="0.065" stop-color="#ffd05d"/><stop offset="0.087" stop-color="#fe9538"/><stop offset="0.108" stop-color="#f33b1a"/><stop offset="0.130" stop-color="#cd0605"/><stop offset="0.152" stop-color="#af0202"/><stop offset="0.195" stop-color="#9d0000"/><stop offset="1.000" stop-color="#980000"/></linearGradient><linearGradient id="g204" gradientUnits="userSpaceOnUse" x1="420.40" x2="443.50" y1="0" y2="0" spreadMethod="reflect"><stop offset="0.000" stop-color="#ffee8b"/><stop offset="0.022" stop-color="#ffed88"/><stop offset="0.043" stop-color="#ffe776"/><stop offset="0.065" stop-color="#ffca57"/><stop offset="0.087" stop-color="#fd8c34"/><stop offset="0.108" stop-color="#f13318"/><stop offset="0.130" stop-color="#cb0605"/><stop offset="0.152" stop-color="#b00202"/><stop offset="0.216" stop-color="#a00000"/><stop offset="1.000" stop-color="#980000"/></linearGradient><linearGradient id="g205" gradientUnits="userSpaceOnUse" x1="420.40" x2="443.50" y1="0" y2="0" spreadMethod="reflect"><stop offset="0.000" stop-color="#ffe87a"/><stop offset="0.043" stop-color="#ffe16c"/><stop offset="0.065" stop-color="#ffc956"/><stop offset="0.087" stop-color="#fe9839"/><stop offset="0.108" stop-color="#f64d1f"/><stop offset="0.130" stop-color="#db110a"/><stop offset="0.152" stop-color="#bb0403"/><stop offset="0.195" stop-color="#a30000"/><stop offset="1.000" stop-color="#a00000"/></linearGradient><linearGradient id="g206" gradientUnits="userSpaceOnUse" x1="420.40" x2="443.50" y1="0" y2="0" spreadMethod="reflect"><stop offset="0.000" stop-color="#ffe570"/><stop offset="0.043" stop-color="#ffdb66"/><stop offset="0.065" stop-color="#ffc452"/><stop offset="0.087" stop-color="#fe9437"/><stop offset="0.108" stop-color="#f64c1f"/><stop offset="0.130" stop-color="#dc110a"/><stop offset="0.152" stop-color="#be0403"/><stop offset="0.195" stop-color="#a60101"/><stop offset="1.000" stop-color="#a20000"/></linearGradient><linearGradient id="g207" gradientUnits="userSpaceOnUse" x1="420.40" x2="443.50" y1="0" y2="0" spreadMethod="reflect"><stop offset="0.000" stop-color="#ffe06b"/><stop offset="0.043" stop-color="#ffd561"/><stop offset="0.065" stop-color="#ffbc4b"/><stop offset="0.087" stop-color="#fd8531"/><stop offset="0.108" stop-color="#f33819"/><stop offset="0.130" stop-color="#d10906"/><stop offset="0.152" stop-color="#b40302"/><stop offset="0.195" stop-color="#a10000"/><stop offset="1.000" stop-color="#9c0000"/></linearGradient><linearGradient id="g208" gradientUnits="userSpaceOnUse" x1="420.40" x2="443.50" y1="0" y2="0" spreadMethod="reflect"><stop offset="0.000" stop-color="#ffe879"/><stop offset="0.022" stop-color="#ffe777"/><stop offset="0.043" stop-color="#ffdd68"/><stop offset="0.065" stop-color="#ffbe4c"/><stop offset="0.087" stop-color="#fd7d2d"/><stop offset="0.108" stop-color="#eb2813"/><stop offset="0.130" stop-color="#c60504"/><stop offset="0.152" stop-color="#ae0202"/><stop offset="0.216" stop-color="#a10000"/><stop offset="1.000" stop-color="#980000"/></linearGradient><linearGradient id="g209" gradientUnits="userSpaceOnUse" x1="420.40" x2="443.50" y1="0" y2="0" spreadMethod="reflect"><stop offset="0.000" stop-color="#ffd25e"/><stop offset="0.043" stop-color="#ffc754"/><stop offset="0.065" stop-color="#ffac42"/><stop offset="0.087" stop-color="#fc762b"/><stop offset="0.108" stop-color="#ee2c15"/><stop offset="0.130" stop-color="#ca0605"/><stop offset="0.152" stop-color="#ae0202"/><stop offset="0.195" stop-color="#9c0000"/><stop offset="0.693" stop-color="#9c0000"/><stop offset="1.000" stop-color="#910000"/></linearGradient><linearGradient id="g210" gradientUnits="userSpaceOnUse" x1="420.40" x2="443.50" y1="0" y2="0" spreadMethod="reflect"><stop offset="0.000" stop-color="#ffcd5a"/><stop offset="0.043" stop-color="#ffc351"/><stop offset="0.065" stop-color="#fea941"/><stop offset="0.087" stop-color="#fc772b"/><stop offset="0.108" stop-color="#f03016"/><stop offset="0.130" stop-color="#ce0605"/><stop offset="0.152" stop-color="#b00202"/><stop offset="0.195" stop-color="#9b0000"/><stop offset="1.000" stop-color="#990000"/></linearGradient><linearGradient id="g211" gradientUnits="userSpaceOnUse" x1="420.40" x2="443.50" y1="0" y2="0" spreadMethod="reflect"><stop offset="0.000" stop-color="#ffbd4b"/><stop offset="0.043" stop-color="#ffaf44"/><stop offset="0.065" stop-color="#fe9035"/><stop offset="0.087" stop-color="#f75722"/><stop offset="0.108" stop-color="#e3180d"/><stop offset="0.130" stop-color="#c00404"/><stop offset="0.152" stop-color="#a90101"/><stop offset="0.216" stop-color="#9b0000"/><stop offset="1.000" stop-color="#980000"/></linearGradient><linearGradient id="g212" gradientUnits="userSpaceOnUse" x1="420.40" x2="443.50" y1="0" y2="0" spreadMethod="reflect"><stop offset="0.000" stop-color="#ffc14f"/><stop offset="0.043" stop-color="#ffb245"/><stop offset="0.065" stop-color="#fd8c34"/><stop offset="0.087" stop-color="#f5491e"/><stop offset="0.108" stop-color="#d90f09"/><stop offset="0.130" stop-color="#b70303"/><stop offset="0.173" stop-color="#9f0000"/><stop offset="1.000" stop-color="#9c0000"/></linearGradient><linearGradient id="g213" gradientUnits="userSpaceOnUse" x1="420.40" x2="443.50" y1="0" y2="0" spreadMethod="reflect"><stop offset="0.000" stop-color="#fea840"/><stop offset="0.043" stop-color="#fe9e3c"/><stop offset="0.065" stop-color="#fd8631"/><stop offset="0.108" stop-color="#e92411"/><stop offset="0.130" stop-color="#cb0605"/><stop offset="0.173" stop-color="#a30000"/><stop offset="0.476" stop-color="#990000"/><stop offset="1.000" stop-color="#980000"/></linearGradient><linearGradient id="g214" gradientUnits="userSpaceOnUse" x1="420.40" x2="443.50" y1="0" y2="0" spreadMethod="reflect"><stop offset="0.000" stop-color="#ffba49"/><stop offset="0.022" stop-color="#ffb848"/><stop offset="0.043" stop-color="#fea840"/><stop offset="0.065" stop-color="#fd822f"/><stop offset="0.087" stop-color="#f43f1b"/><stop offset="0.108" stop-color="#d50c08"/><stop offset="0.130" stop-color="#b60302"/><stop offset="0.173" stop-color="#a00000"/><stop offset="1.000" stop-color="#9d0000"/></linearGradient><linearGradient id="g215" gradientUnits="userSpaceOnUse" x1="420.40" x2="443.50" y1="0" y2="0" spreadMethod="reflect"><stop offset="0.000" stop-color="#fea63f"/><stop offset="0.043" stop-color="#fe9839"/><stop offset="0.065" stop-color="#fd7a2c"/><stop offset="0.087" stop-color="#f4421c"/><stop offset="0.108" stop-color="#da1009"/><stop offset="0.152" stop-color="#a60101"/><stop offset="0.238" stop-color="#9a0000"/><stop offset="1.000" stop-color="#9a0000"/></linearGradient><linearGradient id="g216" gradientUnits="userSpaceOnUse" x1="420.40" x2="443.50" y1="0" y2="0" spreadMethod="reflect"><stop offset="0.000" stop-color="#fd802e"/><stop offset="0.043" stop-color="#fb7129"/><stop offset="0.065" stop-color="#f65020"/><stop offset="0.087" stop-color="#e82111"/><stop offset="0.108" stop-color="#ca0605"/><stop offset="0.152" stop-color="#9f0000"/><stop offset="0.433" stop-color="#960000"/><stop offset="0.693" stop-color="#9c0000"/><stop offset="1.000" stop-color="#8f0000"/></linearGradient><linearGradient id="g217" gradientUnits="userSpaceOnUse" x1="420.40" x2="443.50" y1="0" y2="0" spreadMethod="reflect"><stop offset="0.000" stop-color="#fd8731"/><stop offset="0.043" stop-color="#fd7a2c"/><stop offset="0.065" stop-color="#f85a23"/><stop offset="0.087" stop-color="#ed2b14"/><stop offset="0.108" stop-color="#d00906"/><stop offset="0.152" stop-color="#a30000"/><stop offset="0.303" stop-color="#980000"/><stop offset="1.000" stop-color="#990000"/></linearGradient><linearGradient id="g218" gradientUnits="userSpaceOnUse" x1="420.40" x2="443.50" y1="0" y2="0" spreadMethod="reflect"><stop offset="0.000" stop-color="#fb6f29"/><stop offset="0.043" stop-color="#f85e24"/><stop offset="0.065" stop-color="#f33a1a"/><stop offset="0.087" stop-color="#dd120a"/><stop offset="0.130" stop-color="#a70101"/><stop offset="0.195" stop-color="#990000"/><stop offset="0.823" stop-color="#960000"/><stop offset="1.000" stop-color="#940000"/></linearGradient><linearGradient id="g219" gradientUnits="userSpaceOnUse" x1="420.40" x2="443.50" y1="0" y2="0" spreadMethod="reflect"><stop offset="0.000" stop-color="#f85d24"/><stop offset="0.043" stop-color="#f64d1f"/><stop offset="0.065" stop-color="#ee2d15"/><stop offset="0.087" stop-color="#d60d08"/><stop offset="0.130" stop-color="#a50101"/><stop offset="0.216" stop-color="#980000"/><stop offset="1.000" stop-color="#960000"/></linearGradient><linearGradient id="g220" gradientUnits="userSpaceOnUse" x1="420.40" x2="443.50" y1="0" y2="0" spreadMethod="reflect"><stop offset="0.000" stop-color="#f85c24"/><stop offset="0.043" stop-color="#f64f20"/><stop offset="0.065" stop-color="#f23418"/><stop offset="0.087" stop-color="#de130b"/><stop offset="0.130" stop-color="#ab0201"/><stop offset="0.173" stop-color="#9a0000"/><stop offset="1.000" stop-color="#950000"/></linearGradient><linearGradient id="g221" gradientUnits="userSpaceOnUse" x1="420.40" x2="443.50" y1="0" y2="0" spreadMethod="reflect"><stop offset="0.000" stop-color="#f85a23"/><stop offset="0.022" stop-color="#f75822"/><stop offset="0.043" stop-color="#f5491e"/><stop offset="0.065" stop-color="#ec2914"/><stop offset="0.087" stop-color="#d30a07"/><stop offset="0.130" stop-color="#a20000"/><stop offset="0.260" stop-color="#980000"/><stop offset="1.000" stop-color="#940000"/></linearGradient><linearGradient id="g222" gradientUnits="userSpaceOnUse" x1="420.40" x2="443.50" y1="0" y2="0" spreadMethod="reflect"><stop offset="0.000" stop-color="#f85a23"/><stop offset="0.022" stop-color="#f75822"/><stop offset="0.043" stop-color="#f5491e"/><stop offset="0.065" stop-color="#ec2913"/><stop offset="0.087" stop-color="#d30a07"/><stop offset="0.130" stop-color="#a40000"/><stop offset="0.238" stop-color="#9a0000"/><stop offset="1.000" stop-color="#9b0000"/></linearGradient><linearGradient id="g223" gradientUnits="userSpaceOnUse" x1="420.40" x2="443.50" y1="0" y2="0" spreadMethod="reflect"><stop offset="0.000" stop-color="#f54b1e"/><stop offset="0.043" stop-color="#f33c1a"/><stop offset="0.087" stop-color="#d20a07"/><stop offset="0.130" stop-color="#a60101"/><stop offset="0.238" stop-color="#9b0000"/><stop offset="1.000" stop-color="#a10000"/></linearGradient><linearGradient id="g224" gradientUnits="userSpaceOnUse" x1="420.40" x2="443.50" y1="0" y2="0" spreadMethod="reflect"><stop offset="0.000" stop-color="#f4431c"/><stop offset="0.043" stop-color="#f23619"/><stop offset="0.087" stop-color="#d30a07"/><stop offset="0.130" stop-color="#a90101"/><stop offset="0.216" stop-color="#9d0000"/><stop offset="1.000" stop-color="#9c0000"/></linearGradient><linearGradient id="g225" gradientUnits="userSpaceOnUse" x1="420.40" x2="443.50" y1="0" y2="0" spreadMethod="reflect"><stop offset="0.000" stop-color="#f23719"/><stop offset="0.043" stop-color="#ed2b14"/><stop offset="0.087" stop-color="#c90505"/><stop offset="0.130" stop-color="#a00000"/><stop offset="0.260" stop-color="#970000"/><stop offset="1.000" stop-color="#980000"/></linearGradient><linearGradient id="g226" gradientUnits="userSpaceOnUse" x1="420.40" x2="443.50" y1="0" y2="0" spreadMethod="reflect"><stop offset="0.000" stop-color="#f23318"/><stop offset="0.043" stop-color="#eb2713"/><stop offset="0.087" stop-color="#c30504"/><stop offset="0.130" stop-color="#9d0000"/><stop offset="0.693" stop-color="#950000"/><stop offset="1.000" stop-color="#990000"/></linearGradient><linearGradient id="g227" gradientUnits="userSpaceOnUse" x1="420.40" x2="443.50" y1="0" y2="0" spreadMethod="reflect"><stop offset="0.000" stop-color="#f33a1a"/><stop offset="0.043" stop-color="#ef2e15"/><stop offset="0.087" stop-color="#ca0605"/><stop offset="0.130" stop-color="#a00000"/><stop offset="0.325" stop-color="#970000"/><stop offset="1.000" stop-color="#920000"/></linearGradient><linearGradient id="g228" gradientUnits="userSpaceOnUse" x1="420.40" x2="443.50" y1="0" y2="0" spreadMethod="reflect"><stop offset="0.000" stop-color="#e72010"/><stop offset="0.043" stop-color="#e3180d"/><stop offset="0.108" stop-color="#b00202"/><stop offset="0.152" stop-color="#990000"/><stop offset="1.000" stop-color="#950000"/></linearGradient><linearGradient id="g229" gradientUnits="userSpaceOnUse" x1="420.40" x2="443.50" y1="0" y2="0" spreadMethod="reflect"><stop offset="0.000" stop-color="#e41a0e"/><stop offset="0.043" stop-color="#dc120a"/><stop offset="0.108" stop-color="#9f0000"/><stop offset="0.173" stop-color="#910000"/><stop offset="1.000" stop-color="#900000"/></linearGradient><linearGradient id="g230" gradientUnits="userSpaceOnUse" x1="420.40" x2="443.50" y1="0" y2="0" spreadMethod="reflect"><stop offset="0.000" stop-color="#dc110a"/><stop offset="0.043" stop-color="#d50c08"/><stop offset="0.130" stop-color="#930000"/><stop offset="1.000" stop-color="#8b0000"/></linearGradient><linearGradient id="g231" gradientUnits="userSpaceOnUse" x1="420.40" x2="443.50" y1="0" y2="0" spreadMethod="reflect"><stop offset="0.000" stop-color="#e3170d"/><stop offset="0.043" stop-color="#dc110a"/><stop offset="0.108" stop-color="#a20000"/><stop offset="0.152" stop-color="#920000"/><stop offset="1.000" stop-color="#8f0000"/></linearGradient><linearGradient id="g232" gradientUnits="userSpaceOnUse" x1="420.40" x2="443.50" y1="0" y2="0" spreadMethod="reflect"><stop offset="0.000" stop-color="#dc110a"/><stop offset="0.043" stop-color="#d50c08"/><stop offset="0.130" stop-color="#950000"/><stop offset="1.000" stop-color="#8b0000"/></linearGradient><linearGradient id="g233" gradientUnits="userSpaceOnUse" x1="420.40" x2="443.50" y1="0" y2="0" spreadMethod="reflect"><stop offset="0.000" stop-color="#e3180d"/><stop offset="0.043" stop-color="#dc110a"/><stop offset="0.108" stop-color="#a00000"/><stop offset="0.173" stop-color="#900000"/><stop offset="1.000" stop-color="#8f0000"/></linearGradient><linearGradient id="g234" gradientUnits="userSpaceOnUse" x1="420.40" x2="443.50" y1="0" y2="0" spreadMethod="reflect"><stop offset="0.000" stop-color="#da1009"/><stop offset="0.043" stop-color="#d20a07"/><stop offset="0.108" stop-color="#9a0000"/><stop offset="0.216" stop-color="#8f0000"/><stop offset="1.000" stop-color="#8d0000"/></linearGradient><linearGradient id="g235" gradientUnits="userSpaceOnUse" x1="420.40" x2="443.50" y1="0" y2="0" spreadMethod="reflect"><stop offset="0.000" stop-color="#de130b"/><stop offset="0.043" stop-color="#d80e09"/><stop offset="0.130" stop-color="#960000"/><stop offset="0.519" stop-color="#8f0000"/><stop offset="1.000" stop-color="#8d0000"/></linearGradient><linearGradient id="g236" gradientUnits="userSpaceOnUse" x1="420.40" x2="443.50" y1="0" y2="0" spreadMethod="reflect"><stop offset="0.000" stop-color="#db110a"/><stop offset="0.065" stop-color="#c90505"/><stop offset="0.130" stop-color="#970000"/><stop offset="0.476" stop-color="#8f0000"/><stop offset="1.000" stop-color="#910000"/></linearGradient><linearGradient id="g237" gradientUnits="userSpaceOnUse" x1="420.40" x2="443.50" y1="0" y2="0" spreadMethod="reflect"><stop offset="0.000" stop-color="#d50c08"/><stop offset="0.043" stop-color="#cd0605"/><stop offset="0.108" stop-color="#980000"/><stop offset="0.195" stop-color="#8c0000"/><stop offset="1.000" stop-color="#8d0000"/></linearGradient><linearGradient id="g238" gradientUnits="userSpaceOnUse" x1="420.40" x2="443.50" y1="0" y2="0" spreadMethod="reflect"><stop offset="0.000" stop-color="#d90f09"/><stop offset="0.043" stop-color="#d10906"/><stop offset="0.108" stop-color="#9a0000"/><stop offset="0.195" stop-color="#8e0000"/><stop offset="1.000" stop-color="#8c0000"/></linearGradient><linearGradient id="g239" gradientUnits="userSpaceOnUse" x1="420.40" x2="443.50" y1="0" y2="0" spreadMethod="reflect"><stop offset="0.000" stop-color="#d80e09"/><stop offset="0.043" stop-color="#d10906"/><stop offset="0.130" stop-color="#930000"/><stop offset="1.000" stop-color="#8d0000"/></linearGradient><linearGradient id="g240" gradientUnits="userSpaceOnUse" x1="420.40" x2="443.50" y1="0" y2="0" spreadMethod="reflect"><stop offset="0.000" stop-color="#d60d08"/><stop offset="0.043" stop-color="#cf0806"/><stop offset="0.130" stop-color="#930000"/><stop offset="1.000" stop-color="#8b0000"/></linearGradient><linearGradient id="g241" gradientUnits="userSpaceOnUse" x1="470.70" x2="493.80" y1="0" y2="0" spreadMethod="reflect"><stop offset="0.000" stop-color="#357ae4"/><stop offset="0.065" stop-color="#3b83e5"/><stop offset="0.108" stop-color="#52a0e8"/><stop offset="0.152" stop-color="#8ad2f0"/><stop offset="0.173" stop-color="#c3ecf5"/><stop offset="0.195" stop-color="#ecfae0"/><stop offset="0.216" stop-color="#fcfab8"/><stop offset="0.238" stop-color="#ffeb82"/><stop offset="0.260" stop-color="#ffcb58"/><stop offset="0.303" stop-color="#fc792c"/><stop offset="0.346" stop-color="#f23719"/><stop offset="0.390" stop-color="#e61d0f"/><stop offset="0.519" stop-color="#dc110a"/><stop offset="1.000" stop-color="#da1009"/></linearGradient><linearGradient id="g242" gradientUnits="userSpaceOnUse" x1="470.70" x2="493.80" y1="0" y2="0" spreadMethod="reflect"><stop offset="0.000" stop-color="#57a6e9"/><stop offset="0.065" stop-color="#5eadea"/><stop offset="0.108" stop-color="#79c4ee"/><stop offset="0.130" stop-color="#92d7f1"/><stop offset="0.152" stop-color="#beeaf4"/><stop offset="0.173" stop-color="#e3f8e8"/><stop offset="0.195" stop-color="#f9fbc9"/><stop offset="0.216" stop-color="#fff49e"/><stop offset="0.238" stop-color="#ffe06a"/><stop offset="0.281" stop-color="#fe9136"/><stop offset="0.325" stop-color="#f5461d"/><stop offset="0.346" stop-color="#ef2e16"/><stop offset="0.390" stop-color="#e2160c"/><stop offset="0.606" stop-color="#d80e09"/><stop offset="1.000" stop-color="#d40b07"/></linearGradient><linearGradient id="g243" gradientUnits="userSpaceOnUse" x1="470.70" x2="493.80" y1="0" y2="0" spreadMethod="reflect"><stop offset="0.000" stop-color="#4791e7"/><stop offset="0.065" stop-color="#4e9ae8"/><stop offset="0.108" stop-color="#67b5eb"/><stop offset="0.130" stop-color="#80caee"/><stop offset="0.173" stop-color="#daf5ef"/><stop offset="0.195" stop-color="#f7fcd1"/><stop offset="0.216" stop-color="#fff6a3"/><stop offset="0.238" stop-color="#ffe16b"/><stop offset="0.281" stop-color="#fd8b33"/><stop offset="0.325" stop-color="#f33819"/><stop offset="0.346" stop-color="#e82110"/><stop offset="0.390" stop-color="#d80e09"/><stop offset="0.606" stop-color="#cb0605"/><stop offset="1.000" stop-color="#cb0605"/></linearGradient><linearGradient id="g244" gradientUnits="userSpaceOnUse" x1="470.70" x2="493.80" y1="0" y2="0" spreadMethod="reflect"><stop offset="0.000" stop-color="#59a8e9"/><stop offset="0.065" stop-color="#61b0eb"/><stop offset="0.108" stop-color="#80caee"/><stop offset="0.130" stop-color="#a0ddf2"/><stop offset="0.152" stop-color="#d2f3f6"/><stop offset="0.173" stop-color="#f0fbdc"/><stop offset="0.195" stop-color="#fdf9b5"/><stop offset="0.216" stop-color="#ffea80"/><stop offset="0.238" stop-color="#ffc956"/><stop offset="0.281" stop-color="#fb6e29"/><stop offset="0.303" stop-color="#f4441d"/><stop offset="0.346" stop-color="#e2160c"/><stop offset="0.433" stop-color="#d00806"/><stop offset="1.000" stop-color="#ca0605"/></linearGradient><linearGradient id="g245" gradientUnits="userSpaceOnUse" x1="470.70" x2="493.80" y1="0" y2="0" spreadMethod="reflect"><stop offset="0.000" stop-color="#397fe4"/><stop offset="0.065" stop-color="#418ae6"/><stop offset="0.108" stop-color="#5eaeea"/><stop offset="0.130" stop-color="#7dc8ee"/><stop offset="0.152" stop-color="#b0e4f3"/><stop offset="0.173" stop-color="#e3f8e7"/><stop offset="0.195" stop-color="#fbfac0"/><stop offset="0.216" stop-color="#ffed89"/><stop offset="0.238" stop-color="#ffcd5a"/><stop offset="0.281" stop-color="#fc782c"/><stop offset="0.325" stop-color="#f33819"/><stop offset="0.390" stop-color="#e51c0e"/><stop offset="0.693" stop-color="#d60d08"/><stop offset="1.000" stop-color="#de130b"/></linearGradient><linearGradient id="g246" gradientUnits="userSpaceOnUse" x1="470.70" x2="493.80" y1="0" y2="0" spreadMethod="reflect"><stop offset="0.000" stop-color="#519ee8"/><stop offset="0.065" stop-color="#5aaaea"/><stop offset="0.108" stop-color="#82cbef"/><stop offset="0.152" stop-color="#def6ec"/><stop offset="0.173" stop-color="#f9fbc9"/><stop offset="0.195" stop-color="#fff196"/><stop offset="0.216" stop-color="#ffd561"/><stop offset="0.260" stop-color="#fd7d2d"/><stop offset="0.303" stop-color="#f23719"/><stop offset="0.346" stop-color="#e61d0f"/><stop offset="0.693" stop-color="#cf0806"/><stop offset="1.000" stop-color="#dc120a"/></linearGradient><linearGradient id="g247" gradientUnits="userSpaceOnUse" x1="470.70" x2="493.80" y1="0" y2="0" spreadMethod="reflect"><stop offset="0.000" stop-color="#4b96e7"/><stop offset="0.065" stop-color="#53a1e9"/><stop offset="0.108" stop-color="#75c1ed"/><stop offset="0.130" stop-color="#98d9f1"/><stop offset="0.152" stop-color="#d1f3f6"/><stop offset="0.173" stop-color="#f4fcd9"/><stop offset="0.195" stop-color="#fff8ac"/><stop offset="0.216" stop-color="#ffe46f"/><stop offset="0.238" stop-color="#ffbc4a"/><stop offset="0.281" stop-color="#f85d24"/><stop offset="0.303" stop-color="#f33819"/><stop offset="0.346" stop-color="#e1150c"/><stop offset="0.519" stop-color="#d30a07"/><stop offset="1.000" stop-color="#d50c08"/></linearGradient><linearGradient id="g248" gradientUnits="userSpaceOnUse" x1="470.70" x2="493.80" y1="0" y2="0" spreadMethod="reflect"><stop offset="0.000" stop-color="#5baaea"/><stop offset="0.065" stop-color="#68b6ec"/><stop offset="0.087" stop-color="#7bc6ee"/><stop offset="0.108" stop-color="#9ddbf1"/><stop offset="0.130" stop-color="#d4f3f5"/><stop offset="0.152" stop-color="#f6fdd6"/><stop offset="0.173" stop-color="#fff6a4"/><stop offset="0.195" stop-color="#ffdc67"/><stop offset="0.216" stop-color="#ffad42"/><stop offset="0.260" stop-color="#f5491e"/><stop offset="0.281" stop-color="#ed2a14"/><stop offset="0.325" stop-color="#dc120a"/><stop offset="0.693" stop-color="#cb0605"/><stop offset="1.000" stop-color="#d50c08"/></linearGradient><linearGradient id="g249" gradientUnits="userSpaceOnUse" x1="470.70" x2="493.80" y1="0" y2="0" spreadMethod="reflect"><stop offset="0.000" stop-color="#69b7ec"/><stop offset="0.065" stop-color="#76c1ed"/><stop offset="0.087" stop-color="#86cfef"/><stop offset="0.130" stop-color="#d7f4f2"/><stop offset="0.152" stop-color="#f6fdd5"/><stop offset="0.173" stop-color="#fff7a8"/><stop offset="0.195" stop-color="#ffe16b"/><stop offset="0.216" stop-color="#ffb747"/><stop offset="0.260" stop-color="#f75521"/><stop offset="0.281" stop-color="#f13217"/><stop offset="0.325" stop-color="#e0140b"/><stop offset="0.693" stop-color="#ce0705"/><stop offset="1.000" stop-color="#ca0605"/></linearGradient><linearGradient id="g250" gradientUnits="userSpaceOnUse" x1="470.70" x2="493.80" y1="0" y2="0" spreadMethod="reflect"><stop offset="0.000" stop-color="#6fbbec"/><stop offset="0.065" stop-color="#7cc6ee"/><stop offset="0.087" stop-color="#8dd4f0"/><stop offset="0.130" stop-color="#ddf6ed"/><stop offset="0.152" stop-color="#f8fcce"/><stop offset="0.173" stop-color="#fff49e"/><stop offset="0.195" stop-color="#ffda65"/><stop offset="0.238" stop-color="#fd7e2d"/><stop offset="0.260" stop-color="#f65020"/><stop offset="0.281" stop-color="#f03016"/><stop offset="0.325" stop-color="#e1150c"/><stop offset="0.606" stop-color="#d50c08"/><stop offset="1.000" stop-color="#d70e08"/></linearGradient><linearGradient id="g251" gradientUnits="userSpaceOnUse" x1="470.70" x2="493.80" y1="0" y2="0" spreadMethod="reflect"><stop offset="0.000" stop-color="#519fe8"/><stop offset="0.065" stop-color="#60afea"/><stop offset="0.087" stop-color="#76c2ed"/><stop offset="0.108" stop-color="#9fdcf2"/><stop offset="0.130" stop-color="#daf5ef"/><stop offset="0.152" stop-color="#f9fbc8"/><stop offset="0.173" stop-color="#ffed89"/><stop offset="0.195" stop-color="#ffc654"/><stop offset="0.216" stop-color="#fe8f35"/><stop offset="0.238" stop-color="#f85a23"/><stop offset="0.260" stop-color="#f13217"/><stop offset="0.303" stop-color="#df140b"/><stop offset="0.606" stop-color="#d30a07"/><stop offset="1.000" stop-color="#d20907"/></linearGradient><linearGradient id="g252" gradientUnits="userSpaceOnUse" x1="470.70" x2="493.80" y1="0" y2="0" spreadMethod="reflect"><stop offset="0.000" stop-color="#6ab8ec"/><stop offset="0.043" stop-color="#6fbcec"/><stop offset="0.087" stop-color="#91d6f0"/><stop offset="0.108" stop-color="#c0ebf4"/><stop offset="0.130" stop-color="#e9f9e2"/><stop offset="0.152" stop-color="#fcfab8"/><stop offset="0.173" stop-color="#ffe879"/><stop offset="0.195" stop-color="#ffbe4c"/><stop offset="0.238" stop-color="#f75521"/><stop offset="0.260" stop-color="#f03016"/><stop offset="0.303" stop-color="#df140b"/><stop offset="0.519" stop-color="#d40b07"/><stop offset="0.823" stop-color="#d30b07"/><stop offset="1.000" stop-color="#d10906"/></linearGradient><linearGradient id="g253" gradientUnits="userSpaceOnUse" x1="470.70" x2="493.80" y1="0" y2="0" spreadMethod="reflect"><stop offset="0.000" stop-color="#75c1ed"/><stop offset="0.043" stop-color="#7bc6ee"/><stop offset="0.065" stop-color="#8ad3f0"/><stop offset="0.108" stop-color="#dff7ea"/><stop offset="0.130" stop-color="#fafbc3"/><stop offset="0.152" stop-color="#ffeb83"/><stop offset="0.173" stop-color="#ffc04e"/><stop offset="0.216" stop-color="#f64d1f"/><stop offset="0.238" stop-color="#ec2813"/><stop offset="0.281" stop-color="#db100a"/><stop offset="0.823" stop-color="#cd0605"/><stop offset="1.000" stop-color="#cc0605"/></linearGradient><linearGradient id="g254" gradientUnits="userSpaceOnUse" x1="470.70" x2="493.80" y1="0" y2="0" spreadMethod="reflect"><stop offset="0.000" stop-color="#7ec8ee"/><stop offset="0.043" stop-color="#85ceef"/><stop offset="0.065" stop-color="#98d9f1"/><stop offset="0.087" stop-color="#c1ebf5"/><stop offset="0.108" stop-color="#e9f9e3"/><stop offset="0.130" stop-color="#fdf9b6"/><stop offset="0.152" stop-color="#ffe571"/><stop offset="0.173" stop-color="#ffb044"/><stop offset="0.216" stop-color="#f23719"/><stop offset="0.238" stop-color="#e3180d"/><stop offset="0.303" stop-color="#ce0605"/><stop offset="0.823" stop-color="#c70504"/><stop offset="1.000" stop-color="#c80504"/></linearGradient><linearGradient id="g255" gradientUnits="userSpaceOnUse" x1="470.70" x2="493.80" y1="0" y2="0" spreadMethod="reflect"><stop offset="0.000" stop-color="#79c4ee"/><stop offset="0.043" stop-color="#81cbef"/><stop offset="0.065" stop-color="#97d9f1"/><stop offset="0.087" stop-color="#c7eef5"/><stop offset="0.108" stop-color="#f0fbdc"/><stop offset="0.130" stop-color="#fff6a5"/><stop offset="0.152" stop-color="#ffd25e"/><stop offset="0.173" stop-color="#fe9036"/><stop offset="0.195" stop-color="#f54a1e"/><stop offset="0.216" stop-color="#e51b0e"/><stop offset="0.260" stop-color="#c90505"/><stop offset="0.693" stop-color="#b60302"/><stop offset="1.000" stop-color="#b70303"/></linearGradient><linearGradient id="g256" gradientUnits="userSpaceOnUse" x1="470.70" x2="493.80" y1="0" y2="0" spreadMethod="reflect"><stop offset="0.000" stop-color="#82ccef"/><stop offset="0.043" stop-color="#8ad3f0"/><stop offset="0.065" stop-color="#a6dff2"/><stop offset="0.087" stop-color="#d5f4f3"/><stop offset="0.108" stop-color="#f7fcd1"/><stop offset="0.130" stop-color="#fff092"/><stop offset="0.152" stop-color="#ffc452"/><stop offset="0.173" stop-color="#fd812f"/><stop offset="0.195" stop-color="#f33d1b"/><stop offset="0.216" stop-color="#e2160c"/><stop offset="0.260" stop-color="#cc0605"/><stop offset="1.000" stop-color="#b70303"/></linearGradient><linearGradient id="g257" gradientUnits="userSpaceOnUse" x1="470.70" x2="493.80" y1="0" y2="0" spreadMethod="reflect"><stop offset="0.000" stop-color="#9adaf1"/><stop offset="0.043" stop-color="#a7e0f2"/><stop offset="0.065" stop-color="#c4edf5"/><stop offset="0.087" stop-color="#e5f8e6"/><stop offset="0.108" stop-color="#fbfabd"/><stop offset="0.130" stop-color="#ffe778"/><stop offset="0.152" stop-color="#ffb145"/><stop offset="0.195" stop-color="#ef2f16"/><stop offset="0.216" stop-color="#dd120a"/><stop offset="0.281" stop-color="#c90505"/><stop offset="0.693" stop-color="#c40504"/><stop offset="1.000" stop-color="#c80504"/></linearGradient><linearGradient id="g258" gradientUnits="userSpaceOnUse" x1="470.70" x2="493.80" y1="0" y2="0" spreadMethod="reflect"><stop offset="0.000" stop-color="#aae1f3"/><stop offset="0.043" stop-color="#b4e6f3"/><stop offset="0.065" stop-color="#cbf0f5"/><stop offset="0.087" stop-color="#e3f8e7"/><stop offset="0.108" stop-color="#f9fbc8"/><stop offset="0.130" stop-color="#fff091"/><stop offset="0.152" stop-color="#ffcb58"/><stop offset="0.173" stop-color="#fe9036"/><stop offset="0.195" stop-color="#f75221"/><stop offset="0.216" stop-color="#ea2612"/><stop offset="0.238" stop-color="#dc110a"/><stop offset="0.325" stop-color="#cb0605"/><stop offset="1.000" stop-color="#c40504"/></linearGradient><linearGradient id="g259" gradientUnits="userSpaceOnUse" x1="470.70" x2="493.80" y1="0" y2="0" spreadMethod="reflect"><stop offset="0.000" stop-color="#a3def2"/><stop offset="0.043" stop-color="#b0e4f3"/><stop offset="0.065" stop-color="#ccf0f6"/><stop offset="0.087" stop-color="#e9f9e2"/><stop offset="0.108" stop-color="#fcfab8"/><stop offset="0.130" stop-color="#ffe572"/><stop offset="0.152" stop-color="#ffac42"/><stop offset="0.195" stop-color="#ed2a14"/><stop offset="0.216" stop-color="#da1009"/><stop offset="0.281" stop-color="#c60504"/><stop offset="1.000" stop-color="#bc0403"/></linearGradient><linearGradient id="g260" gradientUnits="userSpaceOnUse" x1="470.70" x2="493.80" y1="0" y2="0" spreadMethod="reflect"><stop offset="0.000" stop-color="#c1ebf5"/><stop offset="0.043" stop-color="#cdf1f6"/><stop offset="0.087" stop-color="#f6fdd6"/><stop offset="0.108" stop-color="#fff7a8"/><stop offset="0.130" stop-color="#ffda65"/><stop offset="0.152" stop-color="#fe9e3c"/><stop offset="0.173" stop-color="#f75822"/><stop offset="0.195" stop-color="#e92311"/><stop offset="0.216" stop-color="#d60d08"/><stop offset="0.281" stop-color="#c40504"/><stop offset="1.000" stop-color="#bb0403"/></linearGradient><linearGradient id="g261" gradientUnits="userSpaceOnUse" x1="470.70" x2="493.80" y1="0" y2="0" spreadMethod="reflect"><stop offset="0.000" stop-color="#d3f3f5"/><stop offset="0.043" stop-color="#dbf5ef"/><stop offset="0.065" stop-color="#ecfae0"/><stop offset="0.087" stop-color="#fbfabd"/><stop offset="0.108" stop-color="#ffe97e"/><stop offset="0.130" stop-color="#ffb747"/><stop offset="0.173" stop-color="#ed2a14"/><stop offset="0.195" stop-color="#d70e08"/><stop offset="0.260" stop-color="#c20504"/><stop offset="0.693" stop-color="#b30302"/><stop offset="1.000" stop-color="#bb0403"/></linearGradient><linearGradient id="g262" gradientUnits="userSpaceOnUse" x1="470.70" x2="493.80" y1="0" y2="0" spreadMethod="reflect"><stop offset="0.000" stop-color="#d0f2f6"/><stop offset="0.043" stop-color="#d7f5f1"/><stop offset="0.065" stop-color="#e6f9e5"/><stop offset="0.087" stop-color="#f9fcca"/><stop offset="0.108" stop-color="#fff196"/><stop offset="0.130" stop-color="#ffcd59"/><stop offset="0.152" stop-color="#fe8d34"/><stop offset="0.173" stop-color="#f5461d"/><stop offset="0.195" stop-color="#e3180d"/><stop offset="0.238" stop-color="#c90505"/><stop offset="0.693" stop-color="#b80303"/><stop offset="1.000" stop-color="#be0403"/></linearGradient><linearGradient id="g263" gradientUnits="userSpaceOnUse" x1="470.70" x2="493.80" y1="0" y2="0" spreadMethod="reflect"><stop offset="0.000" stop-color="#d7f5f1"/><stop offset="0.043" stop-color="#e0f7ea"/><stop offset="0.065" stop-color="#f4fdd8"/><stop offset="0.087" stop-color="#fef9af"/><stop offset="0.108" stop-color="#ffdd68"/><stop offset="0.130" stop-color="#fe9c3b"/><stop offset="0.152" stop-color="#f64e1f"/><stop offset="0.173" stop-color="#e4190d"/><stop offset="0.216" stop-color="#c90505"/><stop offset="0.606" stop-color="#be0403"/><stop offset="1.000" stop-color="#bc0403"/></linearGradient><linearGradient id="g264" gradientUnits="userSpaceOnUse" x1="470.70" x2="493.80" y1="0" y2="0" spreadMethod="reflect"><stop offset="0.000" stop-color="#c2ecf5"/><stop offset="0.022" stop-color="#c4edf5"/><stop offset="0.043" stop-color="#d3f3f5"/><stop offset="0.065" stop-color="#e9f9e2"/><stop offset="0.087" stop-color="#fcfaba"/><stop offset="0.108" stop-color="#ffe46e"/><stop offset="0.130" stop-color="#fea03d"/><stop offset="0.152" stop-color="#f64f20"/><stop offset="0.173" stop-color="#e3180d"/><stop offset="0.195" stop-color="#d00806"/><stop offset="0.281" stop-color="#c10404"/><stop offset="0.823" stop-color="#b60302"/><stop offset="1.000" stop-color="#b70303"/></linearGradient><linearGradient id="g265" gradientUnits="userSpaceOnUse" x1="470.70" x2="493.80" y1="0" y2="0" spreadMethod="reflect"><stop offset="0.000" stop-color="#ddf6ec"/><stop offset="0.043" stop-color="#e9f9e3"/><stop offset="0.065" stop-color="#f9fbc9"/><stop offset="0.087" stop-color="#ffef8e"/><stop offset="0.108" stop-color="#ffbe4d"/><stop offset="0.130" stop-color="#fa6c28"/><stop offset="0.152" stop-color="#ea2512"/><stop offset="0.173" stop-color="#d40b07"/><stop offset="0.238" stop-color="#c40504"/><stop offset="0.693" stop-color="#b30302"/><stop offset="1.000" stop-color="#bd0403"/></linearGradient><linearGradient id="g266" gradientUnits="userSpaceOnUse" x1="470.70" x2="493.80" y1="0" y2="0" spreadMethod="reflect"><stop offset="0.000" stop-color="#ebfae0"/><stop offset="0.043" stop-color="#f7fdd4"/><stop offset="0.065" stop-color="#fdf9b2"/><stop offset="0.087" stop-color="#ffe16c"/><stop offset="0.108" stop-color="#fe9b3b"/><stop offset="0.130" stop-color="#f5471d"/><stop offset="0.152" stop-color="#e0140b"/><stop offset="0.195" stop-color="#ca0605"/><stop offset="1.000" stop-color="#bd0403"/></linearGradient><linearGradient id="g267" gradientUnits="userSpaceOnUse" x1="470.70" x2="493.80" y1="0" y2="0" spreadMethod="reflect"><stop offset="0.000" stop-color="#eefbde"/><stop offset="0.043" stop-color="#f7fdd3"/><stop offset="0.065" stop-color="#fdf9b5"/><stop offset="0.087" stop-color="#ffe776"/><stop offset="0.108" stop-color="#ffab42"/><stop offset="0.130" stop-color="#f75822"/><stop offset="0.152" stop-color="#e3190d"/><stop offset="0.173" stop-color="#ce0705"/><stop offset="0.260" stop-color="#be0403"/><stop offset="1.000" stop-color="#bc0403"/></linearGradient><linearGradient id="g268" gradientUnits="userSpaceOnUse" x1="470.70" x2="493.80" y1="0" y2="0" spreadMethod="reflect"><stop offset="0.000" stop-color="#f6fdd5"/><stop offset="0.043" stop-color="#f8fccb"/><stop offset="0.065" stop-color="#fdf9b4"/><stop offset="0.087" stop-color="#ffeb82"/><stop offset="0.108" stop-color="#ffc14f"/><stop offset="0.130" stop-color="#fd7b2c"/><stop offset="0.152" stop-color="#f03117"/><stop offset="0.173" stop-color="#d80e09"/><stop offset="0.216" stop-color="#c10404"/><stop offset="0.823" stop-color="#b80303"/><stop offset="1.000" stop-color="#b90303"/></linearGradient><linearGradient id="g269" gradientUnits="userSpaceOnUse" x1="470.70" x2="493.80" y1="0" y2="0" spreadMethod="reflect"><stop offset="0.000" stop-color="#f7fdd4"/><stop offset="0.043" stop-color="#f9fbc8"/><stop offset="0.065" stop-color="#fef9af"/><stop offset="0.087" stop-color="#ffe778"/><stop offset="0.108" stop-color="#ffb546"/><stop offset="0.152" stop-color="#e71f10"/><stop offset="0.173" stop-color="#cd0605"/><stop offset="0.216" stop-color="#b80303"/><stop offset="1.000" stop-color="#af0202"/></linearGradient><linearGradient id="g270" gradientUnits="userSpaceOnUse" x1="470.70" x2="493.80" y1="0" y2="0" spreadMethod="reflect"><stop offset="0.000" stop-color="#fafbc1"/><stop offset="0.043" stop-color="#fdf9b6"/><stop offset="0.065" stop-color="#fff39a"/><stop offset="0.087" stop-color="#ffde68"/><stop offset="0.108" stop-color="#fea740"/><stop offset="0.130" stop-color="#f85b23"/><stop offset="0.152" stop-color="#e51c0e"/><stop offset="0.173" stop-color="#cc0605"/><stop offset="0.238" stop-color="#b70303"/><stop offset="1.000" stop-color="#b50302"/></linearGradient><linearGradient id="g271" gradientUnits="userSpaceOnUse" x1="470.70" x2="493.80" y1="0" y2="0" spreadMethod="reflect"><stop offset="0.000" stop-color="#fef9af"/><stop offset="0.043" stop-color="#fff5a1"/><stop offset="0.065" stop-color="#ffe97e"/><stop offset="0.087" stop-color="#ffc654"/><stop offset="0.108" stop-color="#fd8531"/><stop offset="0.130" stop-color="#f23518"/><stop offset="0.152" stop-color="#d50c08"/><stop offset="0.195" stop-color="#b80303"/><stop offset="1.000" stop-color="#aa0101"/></linearGradient><linearGradient id="g272" gradientUnits="userSpaceOnUse" x1="470.70" x2="493.80" y1="0" y2="0" spreadMethod="reflect"><stop offset="0.000" stop-color="#fbfac0"/><stop offset="0.043" stop-color="#fdf9b4"/><stop offset="0.065" stop-color="#fff194"/><stop offset="0.087" stop-color="#ffd460"/><stop offset="0.108" stop-color="#fe9638"/><stop offset="0.130" stop-color="#f4441d"/><stop offset="0.152" stop-color="#db110a"/><stop offset="0.195" stop-color="#ba0403"/><stop offset="0.606" stop-color="#b20202"/><stop offset="1.000" stop-color="#b10202"/></linearGradient><linearGradient id="g273" gradientUnits="userSpaceOnUse" x1="470.70" x2="493.80" y1="0" y2="0" spreadMethod="reflect"><stop offset="0.000" stop-color="#fff5a1"/><stop offset="0.043" stop-color="#ffef8f"/><stop offset="0.065" stop-color="#ffe16b"/><stop offset="0.087" stop-color="#ffb546"/><stop offset="0.108" stop-color="#fa6a27"/><stop offset="0.130" stop-color="#e71f10"/><stop offset="0.152" stop-color="#c90505"/><stop offset="0.195" stop-color="#b10202"/><stop offset="1.000" stop-color="#ac0201"/></linearGradient><linearGradient id="g274" gradientUnits="userSpaceOnUse" x1="470.70" x2="493.80" y1="0" y2="0" spreadMethod="reflect"><stop offset="0.000" stop-color="#fff8ac"/><stop offset="0.022" stop-color="#fff8aa"/><stop offset="0.043" stop-color="#fff299"/><stop offset="0.065" stop-color="#ffe46f"/><stop offset="0.087" stop-color="#ffb345"/><stop offset="0.108" stop-color="#f96125"/><stop offset="0.130" stop-color="#e3170c"/><stop offset="0.152" stop-color="#c50504"/><stop offset="0.195" stop-color="#b10202"/><stop offset="0.693" stop-color="#a90101"/><stop offset="1.000" stop-color="#af0202"/></linearGradient><linearGradient id="g275" gradientUnits="userSpaceOnUse" x1="470.70" x2="493.80" y1="0" y2="0" spreadMethod="reflect"><stop offset="0.000" stop-color="#fff6a4"/><stop offset="0.022" stop-color="#fff5a1"/><stop offset="0.043" stop-color="#ffee8d"/><stop offset="0.065" stop-color="#ffd763"/><stop offset="0.087" stop-color="#fe9a3a"/><stop offset="0.108" stop-color="#f4411c"/><stop offset="0.130" stop-color="#d50c08"/><stop offset="0.152" stop-color="#bd0403"/><stop offset="0.238" stop-color="#b00202"/><stop offset="0.823" stop-color="#a60101"/><stop offset="1.000" stop-color="#a70101"/></linearGradient><linearGradient id="g276" gradientUnits="userSpaceOnUse" x1="470.70" x2="493.80" y1="0" y2="0" spreadMethod="reflect"><stop offset="0.000" stop-color="#fff6a4"/><stop offset="0.022" stop-color="#fff5a2"/><stop offset="0.043" stop-color="#fff091"/><stop offset="0.065" stop-color="#ffdf6a"/><stop offset="0.087" stop-color="#ffac42"/><stop offset="0.108" stop-color="#f85c23"/><stop offset="0.130" stop-color="#e2160c"/><stop offset="0.152" stop-color="#c60504"/><stop offset="0.195" stop-color="#b40302"/><stop offset="1.000" stop-color="#a90101"/></linearGradient><linearGradient id="g277" gradientUnits="userSpaceOnUse" x1="470.70" x2="493.80" y1="0" y2="0" spreadMethod="reflect"><stop offset="0.000" stop-color="#ffeb84"/><stop offset="0.043" stop-color="#ffe572"/><stop offset="0.065" stop-color="#ffcb58"/><stop offset="0.087" stop-color="#fe9638"/><stop offset="0.108" stop-color="#f5471d"/><stop offset="0.130" stop-color="#d80f09"/><stop offset="0.152" stop-color="#be0403"/><stop offset="0.195" stop-color="#ad0201"/><stop offset="0.606" stop-color="#a90101"/><stop offset="1.000" stop-color="#a80101"/></linearGradient><linearGradient id="g278" gradientUnits="userSpaceOnUse" x1="470.70" x2="493.80" y1="0" y2="0" spreadMethod="reflect"><stop offset="0.000" stop-color="#ffe571"/><stop offset="0.043" stop-color="#ffda65"/><stop offset="0.065" stop-color="#ffbf4e"/><stop offset="0.087" stop-color="#fd8732"/><stop offset="0.108" stop-color="#f33919"/><stop offset="0.130" stop-color="#d20a07"/><stop offset="0.152" stop-color="#b80303"/><stop offset="0.216" stop-color="#a70101"/><stop offset="1.000" stop-color="#a50101"/></linearGradient><linearGradient id="g279" gradientUnits="userSpaceOnUse" x1="470.70" x2="493.80" y1="0" y2="0" spreadMethod="reflect"><stop offset="0.000" stop-color="#ffe46e"/><stop offset="0.043" stop-color="#ffd863"/><stop offset="0.065" stop-color="#ffbf4e"/><stop offset="0.087" stop-color="#fd8b33"/><stop offset="0.108" stop-color="#f43f1b"/><stop offset="0.130" stop-color="#d50c08"/><stop offset="0.152" stop-color="#ba0303"/><stop offset="0.195" stop-color="#a80101"/><stop offset="1.000" stop-color="#a20000"/></linearGradient><linearGradient id="g280" gradientUnits="userSpaceOnUse" x1="470.70" x2="493.80" y1="0" y2="0" spreadMethod="reflect"><stop offset="0.000" stop-color="#ffd662"/><stop offset="0.043" stop-color="#ffc956"/><stop offset="0.065" stop-color="#fea941"/><stop offset="0.087" stop-color="#fa6c28"/><stop offset="0.108" stop-color="#e92211"/><stop offset="0.130" stop-color="#c80504"/><stop offset="0.173" stop-color="#ac0201"/><stop offset="1.000" stop-color="#a40100"/></linearGradient><linearGradient id="g281" gradientUnits="userSpaceOnUse" x1="470.70" x2="493.80" y1="0" y2="0" spreadMethod="reflect"><stop offset="0.000" stop-color="#ffd25e"/><stop offset="0.043" stop-color="#ffc350"/><stop offset="0.065" stop-color="#fe9b3a"/><stop offset="0.087" stop-color="#f75321"/><stop offset="0.108" stop-color="#dc110a"/><stop offset="0.130" stop-color="#bc0403"/><stop offset="0.173" stop-color="#a70101"/><stop offset="1.000" stop-color="#9c0000"/></linearGradient><linearGradient id="g282" gradientUnits="userSpaceOnUse" x1="470.70" x2="493.80" y1="0" y2="0" spreadMethod="reflect"><stop offset="0.000" stop-color="#ffba49"/><stop offset="0.022" stop-color="#ffb847"/><stop offset="0.043" stop-color="#fea941"/><stop offset="0.065" stop-color="#fd8530"/><stop offset="0.087" stop-color="#f4451d"/><stop offset="0.108" stop-color="#d90f09"/><stop offset="0.130" stop-color="#bb0403"/><stop offset="0.173" stop-color="#a50101"/><stop offset="1.000" stop-color="#9e0000"/></linearGradient><linearGradient id="g283" gradientUnits="userSpaceOnUse" x1="470.70" x2="493.80" y1="0" y2="0" spreadMethod="reflect"><stop offset="0.000" stop-color="#ffc754"/><stop offset="0.043" stop-color="#ffb948"/><stop offset="0.065" stop-color="#fe9136"/><stop offset="0.087" stop-color="#f64b1f"/><stop offset="0.108" stop-color="#d90f09"/><stop offset="0.130" stop-color="#b80303"/><stop offset="0.173" stop-color="#a00000"/><stop offset="1.000" stop-color="#990000"/></linearGradient><linearGradient id="g284" gradientUnits="userSpaceOnUse" x1="470.70" x2="493.80" y1="0" y2="0" spreadMethod="reflect"><stop offset="0.000" stop-color="#ffbd4c"/><stop offset="0.022" stop-color="#ffbb4a"/><stop offset="0.043" stop-color="#ffac42"/><stop offset="0.065" stop-color="#fd8430"/><stop offset="0.087" stop-color="#f43f1b"/><stop offset="0.108" stop-color="#d30b07"/><stop offset="0.130" stop-color="#b30202"/><stop offset="0.173" stop-color="#9d0000"/><stop offset="1.000" stop-color="#9b0000"/></linearGradient><linearGradient id="g285" gradientUnits="userSpaceOnUse" x1="470.70" x2="493.80" y1="0" y2="0" spreadMethod="reflect"><stop offset="0.000" stop-color="#fea33e"/><stop offset="0.022" stop-color="#fea13d"/><stop offset="0.043" stop-color="#fe9136"/><stop offset="0.065" stop-color="#fa6827"/><stop offset="0.087" stop-color="#ec2813"/><stop offset="0.108" stop-color="#c80504"/><stop offset="0.130" stop-color="#ac0201"/><stop offset="0.173" stop-color="#9b0000"/><stop offset="1.000" stop-color="#960000"/></linearGradient><linearGradient id="g286" gradientUnits="userSpaceOnUse" x1="470.70" x2="493.80" y1="0" y2="0" spreadMethod="reflect"><stop offset="0.000" stop-color="#fe9839"/><stop offset="0.043" stop-color="#fd8933"/><stop offset="0.065" stop-color="#fa6626"/><stop offset="0.087" stop-color="#ef2e15"/><stop offset="0.108" stop-color="#cf0706"/><stop offset="0.130" stop-color="#b10202"/><stop offset="0.173" stop-color="#9b0000"/><stop offset="1.000" stop-color="#970000"/></linearGradient><linearGradient id="g287" gradientUnits="userSpaceOnUse" x1="470.70" x2="493.80" y1="0" y2="0" spreadMethod="reflect"><stop offset="0.000" stop-color="#fe9136"/><stop offset="0.043" stop-color="#fd812f"/><stop offset="0.065" stop-color="#f85b23"/><stop offset="0.087" stop-color="#e92412"/><stop offset="0.108" stop-color="#c90505"/><stop offset="0.130" stop-color="#ae0202"/><stop offset="0.173" stop-color="#9c0000"/><stop offset="1.000" stop-color="#9b0000"/></linearGradient><linearGradient id="g288" gradientUnits="userSpaceOnUse" x1="470.70" x2="493.80" y1="0" y2="0" spreadMethod="reflect"><stop offset="0.000" stop-color="#fe9739"/><stop offset="0.043" stop-color="#fd8832"/><stop offset="0.065" stop-color="#f96426"/><stop offset="0.087" stop-color="#ee2c15"/><stop offset="0.108" stop-color="#cf0806"/><stop offset="0.130" stop-color="#b40302"/><stop offset="0.173" stop-color="#a10000"/><stop offset="1.000" stop-color="#990000"/></linearGradient><linearGradient id="g289" gradientUnits="userSpaceOnUse" x1="470.70" x2="493.80" y1="0" y2="0" spreadMethod="reflect"><stop offset="0.000" stop-color="#fe9b3a"/><stop offset="0.022" stop-color="#fe9939"/><stop offset="0.043" stop-color="#fd8a33"/><stop offset="0.065" stop-color="#f96426"/><stop offset="0.087" stop-color="#ed2a14"/><stop offset="0.108" stop-color="#cd0605"/><stop offset="0.130" stop-color="#b40302"/><stop offset="0.173" stop-color="#a40100"/><stop offset="1.000" stop-color="#a00000"/></linearGradient><linearGradient id="g290" gradientUnits="userSpaceOnUse" x1="470.70" x2="493.80" y1="0" y2="0" spreadMethod="reflect"><stop offset="0.000" stop-color="#fe8e35"/><stop offset="0.022" stop-color="#fd8b33"/><stop offset="0.043" stop-color="#fd7b2c"/><stop offset="0.087" stop-color="#e3180d"/><stop offset="0.108" stop-color="#c30504"/><stop offset="0.130" stop-color="#af0202"/><stop offset="0.281" stop-color="#a40100"/><stop offset="1.000" stop-color="#a00000"/></linearGradient><linearGradient id="g291" gradientUnits="userSpaceOnUse" x1="470.70" x2="493.80" y1="0" y2="0" spreadMethod="reflect"><stop offset="0.000" stop-color="#fd7a2c"/><stop offset="0.022" stop-color="#fc772b"/><stop offset="0.043" stop-color="#f96526"/><stop offset="0.065" stop-color="#f33c1a"/><stop offset="0.087" stop-color="#db110a"/><stop offset="0.108" stop-color="#bc0403"/><stop offset="0.152" stop-color="#a30000"/><stop offset="1.000" stop-color="#a10000"/></linearGradient><linearGradient id="g292" gradientUnits="userSpaceOnUse" x1="470.70" x2="493.80" y1="0" y2="0" spreadMethod="reflect"><stop offset="0.000" stop-color="#fa6626"/><stop offset="0.022" stop-color="#f96426"/><stop offset="0.043" stop-color="#f75321"/><stop offset="0.065" stop-color="#ef2e16"/><stop offset="0.087" stop-color="#d40b07"/><stop offset="0.130" stop-color="#a30000"/><stop offset="0.260" stop-color="#990000"/><stop offset="1.000" stop-color="#930000"/></linearGradient><linearGradient id="g293" gradientUnits="userSpaceOnUse" x1="470.70" x2="493.80" y1="0" y2="0" spreadMethod="reflect"><stop offset="0.000" stop-color="#f96225"/><stop offset="0.043" stop-color="#f75221"/><stop offset="0.065" stop-color="#f13217"/><stop offset="0.087" stop-color="#db100a"/><stop offset="0.130" stop-color="#ab0101"/><stop offset="0.195" stop-color="#9d0000"/><stop offset="1.000" stop-color="#9a0000"/></linearGradient><linearGradient id="g294" gradientUnits="userSpaceOnUse" x1="470.70" x2="493.80" y1="0" y2="0" spreadMethod="reflect"><stop offset="0.000" stop-color="#f96426"/><stop offset="0.043" stop-color="#f75221"/><stop offset="0.065" stop-color="#ef2f16"/><stop offset="0.087" stop-color="#d60d08"/><stop offset="0.130" stop-color="#a50101"/><stop offset="0.260" stop-color="#990000"/><stop offset="1.000" stop-color="#940000"/></linearGradient><linearGradient id="g295" gradientUnits="userSpaceOnUse" x1="470.70" x2="493.80" y1="0" y2="0" spreadMethod="reflect"><stop offset="0.000" stop-color="#f95f24"/><stop offset="0.022" stop-color="#f85d24"/><stop offset="0.043" stop-color="#f64d1f"/><stop offset="0.065" stop-color="#ec2914"/><stop offset="0.087" stop-color="#d20a07"/><stop offset="0.130" stop-color="#a40100"/><stop offset="0.346" stop-color="#9a0000"/><stop offset="1.000" stop-color="#980000"/></linearGradient><linearGradient id="g296" gradientUnits="userSpaceOnUse" x1="470.70" x2="493.80" y1="0" y2="0" spreadMethod="reflect"><stop offset="0.000" stop-color="#fa6927"/><stop offset="0.022" stop-color="#f96526"/><stop offset="0.043" stop-color="#f65120"/><stop offset="0.065" stop-color="#eb2713"/><stop offset="0.087" stop-color="#cc0605"/><stop offset="0.108" stop-color="#ad0201"/><stop offset="0.152" stop-color="#9a0000"/><stop offset="1.000" stop-color="#980000"/></linearGradient><linearGradient id="g297" gradientUnits="userSpaceOnUse" x1="470.70" x2="493.80" y1="0" y2="0" spreadMethod="reflect"><stop offset="0.000" stop-color="#f65120"/><stop offset="0.022" stop-color="#f64e20"/><stop offset="0.043" stop-color="#f43e1b"/><stop offset="0.065" stop-color="#e71f0f"/><stop offset="0.087" stop-color="#cb0605"/><stop offset="0.130" stop-color="#a00000"/><stop offset="0.519" stop-color="#970000"/><stop offset="1.000" stop-color="#990000"/></linearGradient><linearGradient id="g298" gradientUnits="userSpaceOnUse" x1="470.70" x2="493.80" y1="0" y2="0" spreadMethod="reflect"><stop offset="0.000" stop-color="#f5471e"/><stop offset="0.043" stop-color="#f23719"/><stop offset="0.065" stop-color="#e51b0e"/><stop offset="0.087" stop-color="#cb0605"/><stop offset="0.130" stop-color="#a10000"/><stop offset="0.325" stop-color="#980000"/><stop offset="1.000" stop-color="#960000"/></linearGradient><linearGradient id="g299" gradientUnits="userSpaceOnUse" x1="470.70" x2="493.80" y1="0" y2="0" spreadMethod="reflect"><stop offset="0.000" stop-color="#f4421c"/><stop offset="0.043" stop-color="#f13318"/><stop offset="0.087" stop-color="#ca0605"/><stop offset="0.130" stop-color="#9f0000"/><stop offset="0.346" stop-color="#950000"/><stop offset="1.000" stop-color="#940000"/></linearGradient><linearGradient id="g300" gradientUnits="userSpaceOnUse" x1="470.70" x2="493.80" y1="0" y2="0" spreadMethod="reflect"><stop offset="0.000" stop-color="#f23518"/><stop offset="0.043" stop-color="#eb2612"/><stop offset="0.087" stop-color="#be0403"/><stop offset="0.130" stop-color="#9d0000"/><stop offset="1.000" stop-color="#980000"/></linearGradient><linearGradient id="g301" gradientUnits="userSpaceOnUse" x1="470.70" x2="493.80" y1="0" y2="0" spreadMethod="reflect"><stop offset="0.000" stop-color="#ee2d15"/><stop offset="0.043" stop-color="#e82110"/><stop offset="0.087" stop-color="#c00404"/><stop offset="0.130" stop-color="#9d0000"/><stop offset="1.000" stop-color="#960000"/></linearGradient><linearGradient id="g302" gradientUnits="userSpaceOnUse" x1="470.70" x2="493.80" y1="0" y2="0" spreadMethod="reflect"><stop offset="0.000" stop-color="#f13317"/><stop offset="0.043" stop-color="#ea2512"/><stop offset="0.087" stop-color="#c00404"/><stop offset="0.130" stop-color="#9c0000"/><stop offset="1.000" stop-color="#960000"/></linearGradient><linearGradient id="g303" gradientUnits="userSpaceOnUse" x1="470.70" x2="493.80" y1="0" y2="0" spreadMethod="reflect"><stop offset="0.000" stop-color="#ec2914"/><stop offset="0.043" stop-color="#e51b0e"/><stop offset="0.087" stop-color="#ba0303"/><stop offset="0.130" stop-color="#9a0000"/><stop offset="1.000" stop-color="#940000"/></linearGradient><linearGradient id="g304" gradientUnits="userSpaceOnUse" x1="470.70" x2="493.80" y1="0" y2="0" spreadMethod="reflect"><stop offset="0.000" stop-color="#e72010"/><stop offset="0.043" stop-color="#e2160c"/><stop offset="0.108" stop-color="#a80101"/><stop offset="0.152" stop-color="#960000"/><stop offset="1.000" stop-color="#940000"/></linearGradient><linearGradient id="g305" gradientUnits="userSpaceOnUse" x1="470.70" x2="493.80" y1="0" y2="0" spreadMethod="reflect"><stop offset="0.000" stop-color="#e61e0f"/><stop offset="0.043" stop-color="#e0140b"/><stop offset="0.130" stop-color="#9a0000"/><stop offset="1.000" stop-color="#950000"/></linearGradient><linearGradient id="g306" gradientUnits="userSpaceOnUse" x1="470.70" x2="493.80" y1="0" y2="0" spreadMethod="reflect"><stop offset="0.000" stop-color="#db110a"/><stop offset="0.043" stop-color="#d40c07"/><stop offset="0.130" stop-color="#990000"/><stop offset="1.000" stop-color="#990000"/></linearGradient><linearGradient id="g307" gradientUnits="userSpaceOnUse" x1="470.70" x2="493.80" y1="0" y2="0" spreadMethod="reflect"><stop offset="0.000" stop-color="#e0150b"/><stop offset="0.043" stop-color="#d80f09"/><stop offset="0.108" stop-color="#9f0000"/><stop offset="0.173" stop-color="#910000"/><stop offset="1.000" stop-color="#930000"/></linearGradient><linearGradient id="g308" gradientUnits="userSpaceOnUse" x1="470.70" x2="493.80" y1="0" y2="0" spreadMethod="reflect"><stop offset="0.000" stop-color="#de130b"/><stop offset="0.043" stop-color="#d40c07"/><stop offset="0.108" stop-color="#9b0000"/><stop offset="0.303" stop-color="#920000"/><stop offset="1.000" stop-color="#980000"/></linearGradient><linearGradient id="g309" gradientUnits="userSpaceOnUse" x1="470.70" x2="493.80" y1="0" y2="0" spreadMethod="reflect"><stop offset="0.000" stop-color="#dd120a"/><stop offset="0.043" stop-color="#d30b07"/><stop offset="0.108" stop-color="#9e0000"/><stop offset="1.000" stop-color="#970000"/></linearGradient><linearGradient id="g310" gradientUnits="userSpaceOnUse" x1="470.70" x2="493.80" y1="0" y2="0" spreadMethod="reflect"><stop offset="0.000" stop-color="#df140b"/><stop offset="0.043" stop-color="#d70d08"/><stop offset="0.108" stop-color="#9f0000"/><stop offset="0.195" stop-color="#930000"/><stop offset="1.000" stop-color="#930000"/></linearGradient><linearGradient id="g311" gradientUnits="userSpaceOnUse" x1="470.70" x2="493.80" y1="0" y2="0" spreadMethod="reflect"><stop offset="0.000" stop-color="#db110a"/><stop offset="0.043" stop-color="#d20a07"/><stop offset="0.108" stop-color="#990000"/><stop offset="0.238" stop-color="#8f0000"/><stop offset="1.000" stop-color="#900000"/></linearGradient><linearGradient id="g312" gradientUnits="userSpaceOnUse" x1="470.70" x2="493.80" y1="0" y2="0" spreadMethod="reflect"><stop offset="0.000" stop-color="#d70d08"/><stop offset="0.043" stop-color="#cf0706"/><stop offset="0.108" stop-color="#990000"/><stop offset="0.238" stop-color="#900000"/><stop offset="1.000" stop-color="#8f0000"/></linearGradient><linearGradient id="g313" gradientUnits="userSpaceOnUse" x1="470.70" x2="493.80" y1="0" y2="0" spreadMethod="reflect"><stop offset="0.000" stop-color="#d10906"/><stop offset="0.043" stop-color="#c80504"/><stop offset="0.108" stop-color="#960000"/><stop offset="1.000" stop-color="#920000"/></linearGradient><linearGradient id="g314" gradientUnits="userSpaceOnUse" x1="470.70" x2="493.80" y1="0" y2="0" spreadMethod="reflect"><stop offset="0.000" stop-color="#d00906"/><stop offset="0.043" stop-color="#c80504"/><stop offset="0.108" stop-color="#950000"/><stop offset="0.238" stop-color="#8c0000"/><stop offset="1.000" stop-color="#8b0000"/></linearGradient><linearGradient id="g315" gradientUnits="userSpaceOnUse" x1="470.70" x2="493.80" y1="0" y2="0" spreadMethod="reflect"><stop offset="0.000" stop-color="#cc0605"/><stop offset="0.043" stop-color="#c40504"/><stop offset="0.108" stop-color="#950000"/><stop offset="0.303" stop-color="#8c0000"/><stop offset="1.000" stop-color="#8b0000"/></linearGradient><linearGradient id="g316" gradientUnits="userSpaceOnUse" x1="470.70" x2="493.80" y1="0" y2="0" spreadMethod="reflect"><stop offset="0.000" stop-color="#ca0605"/><stop offset="0.043" stop-color="#c30504"/><stop offset="0.108" stop-color="#950000"/><stop offset="0.303" stop-color="#8c0000"/><stop offset="1.000" stop-color="#890000"/></linearGradient><linearGradient id="g317" gradientUnits="userSpaceOnUse" x1="470.70" x2="493.80" y1="0" y2="0" spreadMethod="reflect"><stop offset="0.000" stop-color="#cb0605"/><stop offset="0.043" stop-color="#c20504"/><stop offset="0.108" stop-color="#910000"/><stop offset="0.823" stop-color="#8c0000"/><stop offset="1.000" stop-color="#8c0000"/></linearGradient><linearGradient id="g318" gradientUnits="userSpaceOnUse" x1="470.70" x2="493.80" y1="0" y2="0" spreadMethod="reflect"><stop offset="0.000" stop-color="#c80504"/><stop offset="0.043" stop-color="#c10404"/><stop offset="0.108" stop-color="#920000"/><stop offset="0.346" stop-color="#8a0000"/><stop offset="1.000" stop-color="#890000"/></linearGradient><linearGradient id="g319" gradientUnits="userSpaceOnUse" x1="470.70" x2="493.80" y1="0" y2="0" spreadMethod="reflect"><stop offset="0.000" stop-color="#c20504"/><stop offset="0.043" stop-color="#bb0403"/><stop offset="0.108" stop-color="#910000"/><stop offset="1.000" stop-color="#8c0000"/></linearGradient><linearGradient id="g320" gradientUnits="userSpaceOnUse" x1="470.70" x2="493.80" y1="0" y2="0" spreadMethod="reflect"><stop offset="0.000" stop-color="#c30504"/><stop offset="0.043" stop-color="#bd0403"/><stop offset="0.108" stop-color="#940000"/><stop offset="0.281" stop-color="#8c0000"/><stop offset="1.000" stop-color="#8c0000"/></linearGradient><linearGradient id="cb" x1="0" y1="0" x2="0" y2="1"><stop offset="0.0000" stop-color="#0516e4"/><stop offset="0.0714" stop-color="#1948e2"/><stop offset="0.1429" stop-color="#377de4"/><stop offset="0.2143" stop-color="#5cacea"/><stop offset="0.2857" stop-color="#8cd4f0"/><stop offset="0.3571" stop-color="#d2f3f6"/><stop offset="0.4286" stop-color="#f6fdd7"/><stop offset="0.5000" stop-color="#fff8aa"/><stop offset="0.5714" stop-color="#ffe46e"/><stop offset="0.6429" stop-color="#ffb948"/><stop offset="0.7143" stop-color="#fd7d2d"/><stop offset="0.7857" stop-color="#f23418"/><stop offset="0.8214" stop-color="#e2160c"/><stop offset="0.8571" stop-color="#cd0605"/><stop offset="0.9286" stop-color="#a00000"/><stop offset="1.0000" stop-color="#780000"/></linearGradient></defs><rect width="520" height="468" fill="#fff"/><rect x="49.0" y="26.8" width="322.20" height="156.10" fill="#ebf0f0"/>
<line x1="118.18" y1="26.8" x2="118.18" y2="182.9" stroke="#fff" stroke-width="0.7"/>
<line x1="213.52" y1="26.8" x2="213.52" y2="182.9" stroke="#fff" stroke-width="0.7"/>
<line x1="308.86" y1="26.8" x2="308.86" y2="182.9" stroke="#fff" stroke-width="0.7"/>
<line x1="49.0" y1="33.03" x2="371.2" y2="33.03" stroke="#fff" stroke-width="0.7"/>
<line x1="49.0" y1="80.78" x2="371.2" y2="80.78" stroke="#fff" stroke-width="0.7"/>
<line x1="49.0" y1="128.53" x2="371.2" y2="128.53" stroke="#fff" stroke-width="0.7"/>
<line x1="49.0" y1="176.28" x2="371.2" y2="176.28" stroke="#fff" stroke-width="0.7"/>
<line x1="70.51" y1="26.8" x2="70.51" y2="182.9" stroke="#fff" stroke-width="1.2"/>
<line x1="165.85" y1="26.8" x2="165.85" y2="182.9" stroke="#fff" stroke-width="1.2"/>
<line x1="261.19" y1="26.8" x2="261.19" y2="182.9" stroke="#fff" stroke-width="1.2"/>
<line x1="356.53" y1="26.8" x2="356.53" y2="182.9" stroke="#fff" stroke-width="1.2"/>
<line x1="49.0" y1="56.90" x2="371.2" y2="56.90" stroke="#fff" stroke-width="1.2"/>
<line x1="49.0" y1="104.65" x2="371.2" y2="104.65" stroke="#fff" stroke-width="1.2"/>
<line x1="49.0" y1="152.40" x2="371.2" y2="152.40" stroke="#fff" stroke-width="1.2"/>
<line x1="46.9" y1="26.8" x2="46.9" y2="185.7" stroke="#1c1c1c" stroke-width="1.8"/>
<line x1="46" y1="184.7" x2="371.2" y2="184.7" stroke="#1c1c1c" stroke-width="2"/>
<line x1="43.8" y1="57.20" x2="46.5" y2="57.20" stroke="#1c1c1c" stroke-width="1.2"/>
<line x1="43.8" y1="104.95" x2="46.5" y2="104.95" stroke="#1c1c1c" stroke-width="1.2"/>
<line x1="43.8" y1="152.70" x2="46.5" y2="152.70" stroke="#1c1c1c" stroke-width="1.2"/>
<line x1="70.51" y1="185" x2="70.51" y2="188" stroke="#1c1c1c" stroke-width="1.2"/>
<line x1="165.85" y1="185" x2="165.85" y2="188" stroke="#1c1c1c" stroke-width="1.2"/>
<line x1="261.19" y1="185" x2="261.19" y2="188" stroke="#1c1c1c" stroke-width="1.2"/>
<line x1="356.53" y1="185" x2="356.53" y2="188" stroke="#1c1c1c" stroke-width="1.2"/>
<text x="42.90" y="60.10" font-size="8.8" fill="#222" text-anchor="end" textLength="8.60" lengthAdjust="spacingAndGlyphs" stroke="#222" stroke-width="0.12">10</text>
<text x="42.90" y="107.85" font-size="8.8" fill="#222" text-anchor="end" textLength="4.90" lengthAdjust="spacingAndGlyphs" stroke="#222" stroke-width="0.12">0</text>
<text x="42.90" y="155.60" font-size="8.8" fill="#222" text-anchor="end" textLength="11.40" lengthAdjust="spacingAndGlyphs" stroke="#222" stroke-width="0.12">-10</text>
<text x="70.51" y="195.70" font-size="8.8" fill="#222" text-anchor="middle" textLength="11.40" lengthAdjust="spacingAndGlyphs" stroke="#222" stroke-width="0.12">-20</text>
<text x="165.85" y="195.70" font-size="8.8" fill="#222" text-anchor="middle" textLength="4.90" lengthAdjust="spacingAndGlyphs" stroke="#222" stroke-width="0.12">0</text>
<text x="261.19" y="195.70" font-size="8.8" fill="#222" text-anchor="middle" textLength="9.40" lengthAdjust="spacingAndGlyphs" stroke="#222" stroke-width="0.12">20</text>
<text x="356.53" y="195.70" font-size="8.8" fill="#222" text-anchor="middle" textLength="9.40" lengthAdjust="spacingAndGlyphs" stroke="#222" stroke-width="0.12">40</text>
<text x="177.60" y="204.60" font-size="10.4" fill="#333" textLength="63.20" lengthAdjust="spacingAndGlyphs">PC1: 68% variance</text>
<text x="27.90" y="137.60" font-size="10.4" fill="#333" textLength="64.20" lengthAdjust="spacingAndGlyphs" transform="rotate(-90 27.90 137.60)">PC2: 17% variance</text>
<text x="46.70" y="23.50" font-size="10" fill="#333" textLength="104.20" lengthAdjust="spacingAndGlyphs">Principal Components Analysis</text>
<g fill="none" stroke="#1a1a1a" stroke-width="1.2">
<ellipse cx="86.1" cy="41.9" rx="9.1" ry="11.8" transform="rotate(12 86.1 41.9)"/>
<ellipse cx="82.8" cy="79" rx="17.3" ry="6.6" transform="rotate(63 82.8 79)"/>
<ellipse cx="81.2" cy="116.4" rx="13.3" ry="8.7"/>
<ellipse cx="106" cy="162" rx="20.2" ry="6.9" transform="rotate(31 106 162)"/>
</g>
<circle cx="87.8" cy="35.5" r="3.6" fill="#ff00f5"/>
<circle cx="83.5" cy="45.2" r="3.6" fill="#ff00f5"/>
<circle cx="87.5" cy="45.0" r="3.6" fill="#ff00f5"/>
<circle cx="61.5" cy="38.5" r="3.6" fill="#0b2547"/>
<circle cx="101.5" cy="87.2" r="3.6" fill="#0b2547"/>
<circle cx="104" cy="50.8" r="3.6" fill="#7f7ff7"/>
<circle cx="95.8" cy="85.3" r="3.6" fill="#7f7ff7"/>
<circle cx="78.8" cy="71.4" r="3.6" fill="#4dd3fb"/>
<circle cx="83.6" cy="77.4" r="3.6" fill="#4dd3fb"/>
<circle cx="86.7" cy="87.7" r="3.6" fill="#4dd3fb"/>
<circle cx="76.8" cy="113.8" r="3.6" fill="#8fd862"/>
<circle cx="83.5" cy="114.3" r="3.6" fill="#8fd862"/>
<circle cx="80.6" cy="119.0" r="3.6" fill="#8fd862"/>
<circle cx="96.3" cy="155.4" r="3.6" fill="#b1480a"/>
<circle cx="106.3" cy="161.5" r="3.6" fill="#b1480a"/>
<circle cx="116.2" cy="167.3" r="3.6" fill="#b1480a"/>
<circle cx="173.8" cy="171.0" r="3.6" fill="#0b6110"/>
<circle cx="184.2" cy="164.9" r="3.6" fill="#0b6110"/>
<circle cx="193.1" cy="175.1" r="3.6" fill="#ff7c12"/>
<circle cx="208.5" cy="172.3" r="3.6" fill="#ff7c12"/>
<circle cx="200.3" cy="178.2" r="3.6" fill="#1d0b9a"/>
<circle cx="228.8" cy="172.0" r="3.6" fill="#1d0b9a"/>
<circle cx="337.6" cy="69.3" r="3.6" fill="#0b3bb5"/>
<circle cx="356.3" cy="74.5" r="3.6" fill="#0b3bb5"/>
<circle cx="306.9" cy="106.5" r="3.6" fill="#45f922"/>
<circle cx="314.0" cy="115.6" r="3.6" fill="#45f922"/>
<circle cx="351.4" cy="36.8" r="3.6" fill="#c8091e"/>
<circle cx="353.5" cy="41.1" r="3.6" fill="#c8091e"/>
<text x="394.00" y="18.90" font-size="10.5" textLength="20.50" lengthAdjust="spacingAndGlyphs">Type</text>
<circle cx="397.7" cy="29.20" r="3.5" fill="#c8091e"/>
<text x="404.70" y="31.70" font-size="8.2" fill="#222" textLength="19.40" lengthAdjust="spacingAndGlyphs">HSPC</text>
<circle cx="397.7" cy="43.29" r="3.5" fill="#0b3bb5"/>
<text x="404.70" y="45.79" font-size="8.2" fill="#222" textLength="21.60" lengthAdjust="spacingAndGlyphs">BFU-E</text>
<circle cx="397.7" cy="57.38" r="3.5" fill="#45f922"/>
<text x="404.70" y="59.88" font-size="8.2" fill="#222" textLength="22.10" lengthAdjust="spacingAndGlyphs">CFU-E</text>
<circle cx="397.7" cy="71.47" r="3.5" fill="#1d0b9a"/>
<text x="404.70" y="73.97" font-size="8.2" fill="#222" textLength="16.20" lengthAdjust="spacingAndGlyphs">ProE</text>
<circle cx="397.7" cy="85.56" r="3.5" fill="#ff7c12"/>
<text x="404.70" y="88.06" font-size="8.2" fill="#222" textLength="21.00" lengthAdjust="spacingAndGlyphs">EBaso</text>
<circle cx="397.7" cy="99.65" r="3.5" fill="#0b6110"/>
<text x="404.70" y="102.15" font-size="8.2" fill="#222" textLength="19.80" lengthAdjust="spacingAndGlyphs">LBaso</text>
<circle cx="397.7" cy="113.74" r="3.5" fill="#7f7ff7"/>
<text x="404.70" y="116.24" font-size="8.2" fill="#222" textLength="14.50" lengthAdjust="spacingAndGlyphs">Poly</text>
<circle cx="397.7" cy="127.83" r="3.5" fill="#0b2547"/>
<text x="404.70" y="130.33" font-size="8.2" fill="#222" textLength="20.50" lengthAdjust="spacingAndGlyphs">Ortho</text>
<circle cx="397.7" cy="141.92" r="3.5" fill="#4dd3fb"/>
<text x="404.70" y="144.42" font-size="8.2" fill="#222" textLength="30.10" lengthAdjust="spacingAndGlyphs">Luci Poly</text>
<circle cx="397.7" cy="156.01" r="3.5" fill="#ff00f5"/>
<text x="404.70" y="158.51" font-size="8.2" fill="#222" textLength="36.10" lengthAdjust="spacingAndGlyphs">Luci Ortho</text>
<circle cx="397.7" cy="170.10" r="3.5" fill="#b1480a"/>
<text x="404.70" y="172.60" font-size="8.2" fill="#222" textLength="38.20" lengthAdjust="spacingAndGlyphs">HDAC Poly</text>
<circle cx="397.7" cy="184.19" r="3.5" fill="#8fd862"/>
<text x="404.70" y="186.69" font-size="8.2" fill="#222" textLength="43.80" lengthAdjust="spacingAndGlyphs">HDAC Ortho</text>
<rect x="67.0" y="340.58" width="22.20" height="91.87" fill="#c80016"/>
<rect x="89.2" y="337.30" width="22.40" height="95.15" fill="#0033a6"/>
<rect x="133.5" y="374.97" width="22.80" height="57.48" fill="#c80016"/>
<rect x="156.3" y="298.47" width="22.20" height="133.98" fill="#0033a6"/>
<line x1="56.9" y1="278.7" x2="56.9" y2="433" stroke="#111" stroke-width="1.2"/>
<line x1="56.3" y1="432.45" x2="189.8" y2="432.45" stroke="#111" stroke-width="1.3"/>
<line x1="51.7" y1="432.45" x2="56.5" y2="432.45" stroke="#111" stroke-width="1"/>
<text x="50.00" y="435.35" font-size="8.4" text-anchor="end" textLength="4.60" lengthAdjust="spacingAndGlyphs" stroke="#1a1a1a" stroke-width="0.12">0</text>
<line x1="51.7" y1="386.67" x2="56.5" y2="386.67" stroke="#111" stroke-width="1"/>
<text x="50.00" y="389.57" font-size="8.4" text-anchor="end" textLength="13.60" lengthAdjust="spacingAndGlyphs" stroke="#1a1a1a" stroke-width="0.12">500</text>
<line x1="51.7" y1="340.90" x2="56.5" y2="340.90" stroke="#111" stroke-width="1"/>
<text x="50.00" y="343.80" font-size="8.4" text-anchor="end" textLength="18.40" lengthAdjust="spacingAndGlyphs" stroke="#1a1a1a" stroke-width="0.12">1000</text>
<line x1="51.7" y1="295.12" x2="56.5" y2="295.12" stroke="#111" stroke-width="1"/>
<text x="50.00" y="298.02" font-size="8.4" text-anchor="end" textLength="18.40" lengthAdjust="spacingAndGlyphs" stroke="#1a1a1a" stroke-width="0.12">1500</text>
<line x1="89.2" y1="432.5" x2="89.2" y2="435.6" stroke="#111" stroke-width="1"/>
<line x1="156.3" y1="432.5" x2="156.3" y2="435.6" stroke="#111" stroke-width="1"/>
<text x="89.00" y="447.70" font-size="8.6" text-anchor="middle" textLength="16.80" lengthAdjust="spacingAndGlyphs">Poly</text>
<text x="154.90" y="447.70" font-size="8.6" text-anchor="middle" textLength="22.80" lengthAdjust="spacingAndGlyphs">Ortho</text>
<text x="77.70" y="337.70" font-size="8.2" text-anchor="middle" textLength="21.80" lengthAdjust="spacingAndGlyphs">10035</text>
<text x="100.00" y="333.10" font-size="8.2" text-anchor="middle" textLength="21.40" lengthAdjust="spacingAndGlyphs">10393</text>
<text x="144.30" y="371.60" font-size="8.2" text-anchor="middle" textLength="17.00" lengthAdjust="spacingAndGlyphs">6278</text>
<text x="165.70" y="295.40" font-size="8.2" text-anchor="middle" textLength="21.30" lengthAdjust="spacingAndGlyphs">14635</text>
<text x="194.60" y="377.80" font-size="7.6" textLength="57.20" lengthAdjust="spacingAndGlyphs">shHDAC change</text>
<rect x="202.4" y="381.2" width="19.1" height="11.5" fill="#c80016"/>
<rect x="202.4" y="396.2" width="19.1" height="11.6" fill="#0033a6"/>
<text x="224.80" y="390.20" font-size="8.3" textLength="21.00" lengthAdjust="spacingAndGlyphs">Down</text>
<text x="224.80" y="404.50" font-size="8.3" textLength="10.50" lengthAdjust="spacingAndGlyphs">Up</text>
<text x="24.90" y="430.00" font-size="9.2" textLength="143.30" lengthAdjust="spacingAndGlyphs" transform="rotate(-90 24.90 430.00)"># of differently accessible genomic regions</text>
<text x="6.50" y="16.20" font-size="11.8" font-weight="700" fill="#000">A</text>
<text x="6.40" y="227.30" font-size="12.2" font-weight="700" fill="#000">B</text>
<text x="264.00" y="227.50" font-size="12.4" font-weight="700" fill="#000">C</text>
<g>
<rect x="296.4" y="283.20" width="46.2" height="1.8" fill="url(#g1)"/>
<rect x="296.4" y="285.00" width="46.2" height="2" fill="url(#g2)"/>
<rect x="296.4" y="287.00" width="46.2" height="2" fill="url(#g3)"/>
<rect x="296.4" y="289.00" width="46.2" height="2" fill="url(#g4)"/>
<rect x="296.4" y="291.00" width="46.2" height="2" fill="url(#g5)"/>
<rect x="296.4" y="293.00" width="46.2" height="2" fill="url(#g6)"/>
<rect x="296.4" y="295.00" width="46.2" height="2" fill="url(#g7)"/>
<rect x="296.4" y="297.00" width="46.2" height="2" fill="url(#g8)"/>
<rect x="296.4" y="299.00" width="46.2" height="2" fill="url(#g9)"/>
<rect x="296.4" y="301.00" width="46.2" height="2" fill="url(#g10)"/>
<rect x="296.4" y="303.00" width="46.2" height="2" fill="url(#g11)"/>
<rect x="296.4" y="305.00" width="46.2" height="2" fill="url(#g12)"/>
<rect x="296.4" y="307.00" width="46.2" height="2" fill="url(#g13)"/>
<rect x="296.4" y="309.00" width="46.2" height="2" fill="url(#g14)"/>
<rect x="296.4" y="311.00" width="46.2" height="2" fill="url(#g15)"/>
<rect x="296.4" y="313.00" width="46.2" height="2" fill="url(#g16)"/>
<rect x="296.4" y="315.00" width="46.2" height="2" fill="url(#g17)"/>
<rect x="296.4" y="317.00" width="46.2" height="2" fill="url(#g18)"/>
<rect x="296.4" y="319.00" width="46.2" height="2" fill="url(#g19)"/>
<rect x="296.4" y="321.00" width="46.2" height="2" fill="url(#g20)"/>
<rect x="296.4" y="323.00" width="46.2" height="2" fill="url(#g21)"/>
<rect x="296.4" y="325.00" width="46.2" height="2" fill="url(#g22)"/>
<rect x="296.4" y="327.00" width="46.2" height="2" fill="url(#g23)"/>
<rect x="296.4" y="329.00" width="46.2" height="2" fill="url(#g24)"/>
<rect x="296.4" y="331.00" width="46.2" height="2" fill="url(#g25)"/>
<rect x="296.4" y="333.00" width="46.2" height="2" fill="url(#g26)"/>
<rect x="296.4" y="335.00" width="46.2" height="2" fill="url(#g27)"/>
<rect x="296.4" y="337.00" width="46.2" height="2" fill="url(#g28)"/>
<rect x="296.4" y="339.00" width="46.2" height="2" fill="url(#g29)"/>
<rect x="296.4" y="341.00" width="46.2" height="2" fill="url(#g30)"/>
<rect x="296.4" y="343.00" width="46.2" height="2" fill="url(#g31)"/>
<rect x="296.4" y="345.00" width="46.2" height="2" fill="url(#g32)"/>
<rect x="296.4" y="347.00" width="46.2" height="2" fill="url(#g33)"/>
<rect x="296.4" y="349.00" width="46.2" height="2" fill="url(#g34)"/>
<rect x="296.4" y="351.00" width="46.2" height="2" fill="url(#g35)"/>
<rect x="296.4" y="353.00" width="46.2" height="2" fill="url(#g36)"/>
<rect x="296.4" y="355.00" width="46.2" height="2" fill="url(#g37)"/>
<rect x="296.4" y="357.00" width="46.2" height="2" fill="url(#g38)"/>
<rect x="296.4" y="359.00" width="46.2" height="2" fill="url(#g39)"/>
<rect x="296.4" y="361.00" width="46.2" height="2" fill="url(#g40)"/>
<rect x="296.4" y="363.00" width="46.2" height="2" fill="url(#g41)"/>
<rect x="296.4" y="365.00" width="46.2" height="2" fill="url(#g42)"/>
<rect x="296.4" y="367.00" width="46.2" height="2" fill="url(#g43)"/>
<rect x="296.4" y="369.00" width="46.2" height="2" fill="url(#g44)"/>
<rect x="296.4" y="371.00" width="46.2" height="2" fill="url(#g45)"/>
<rect x="296.4" y="373.00" width="46.2" height="2" fill="url(#g46)"/>
<rect x="296.4" y="375.00" width="46.2" height="2" fill="url(#g47)"/>
<rect x="296.4" y="377.00" width="46.2" height="2" fill="url(#g48)"/>
<rect x="296.4" y="379.00" width="46.2" height="2" fill="url(#g49)"/>
<rect x="296.4" y="381.00" width="46.2" height="2" fill="url(#g50)"/>
<rect x="296.4" y="383.00" width="46.2" height="2" fill="url(#g51)"/>
<rect x="296.4" y="385.00" width="46.2" height="2" fill="url(#g52)"/>
<rect x="296.4" y="387.00" width="46.2" height="2" fill="url(#g53)"/>
<rect x="296.4" y="389.00" width="46.2" height="2" fill="url(#g54)"/>
<rect x="296.4" y="391.00" width="46.2" height="2" fill="url(#g55)"/>
<rect x="296.4" y="393.00" width="46.2" height="2" fill="url(#g56)"/>
<rect x="296.4" y="395.00" width="46.2" height="2" fill="url(#g57)"/>
<rect x="296.4" y="397.00" width="46.2" height="2" fill="url(#g58)"/>
<rect x="296.4" y="399.00" width="46.2" height="2" fill="url(#g59)"/>
<rect x="296.4" y="401.00" width="46.2" height="2" fill="url(#g60)"/>
<rect x="296.4" y="403.00" width="46.2" height="2" fill="url(#g61)"/>
<rect x="296.4" y="405.00" width="46.2" height="2" fill="url(#g62)"/>
<rect x="296.4" y="407.00" width="46.2" height="2" fill="url(#g63)"/>
<rect x="296.4" y="409.00" width="46.2" height="2" fill="url(#g64)"/>
<rect x="296.4" y="411.00" width="46.2" height="2" fill="url(#g65)"/>
<rect x="296.4" y="413.00" width="46.2" height="2" fill="url(#g66)"/>
<rect x="296.4" y="415.00" width="46.2" height="2" fill="url(#g67)"/>
<rect x="296.4" y="417.00" width="46.2" height="2" fill="url(#g68)"/>
<rect x="296.4" y="419.00" width="46.2" height="2" fill="url(#g69)"/>
<rect x="296.4" y="421.00" width="46.2" height="2" fill="url(#g70)"/>
<rect x="296.4" y="423.00" width="46.2" height="2" fill="url(#g71)"/>
<rect x="296.4" y="425.00" width="46.2" height="2" fill="url(#g72)"/>
<rect x="296.4" y="427.00" width="46.2" height="2" fill="url(#g73)"/>
<rect x="296.4" y="429.00" width="46.2" height="2" fill="url(#g74)"/>
<rect x="296.4" y="431.00" width="46.2" height="2" fill="url(#g75)"/>
<rect x="296.4" y="433.00" width="46.2" height="2" fill="url(#g76)"/>
<rect x="296.4" y="435.00" width="46.2" height="2" fill="url(#g77)"/>
<rect x="296.4" y="437.00" width="46.2" height="2" fill="url(#g78)"/>
<rect x="296.4" y="439.00" width="46.2" height="2" fill="url(#g79)"/>
<rect x="296.4" y="441.00" width="46.2" height="2.4" fill="url(#g80)"/>
</g>
<rect x="296.4" y="283.2" width="46.2" height="160.20" fill="none" stroke="#3a3a3a" stroke-width="0.6"/>
<line x1="296.4" y1="283.4" x2="342.59999999999997" y2="283.4" stroke="#333" stroke-width="0.7" opacity="0.7"/>
<line x1="296.40" y1="443.4" x2="296.40" y2="445.59999999999997" stroke="#111" stroke-width="0.8"/>
<line x1="319.50" y1="443.4" x2="319.50" y2="445.59999999999997" stroke="#111" stroke-width="0.8"/>
<line x1="342.60" y1="443.4" x2="342.60" y2="445.59999999999997" stroke="#111" stroke-width="0.8"/>
<text x="296.10" y="452.40" font-size="6.6" fill="#222" textLength="6.00" lengthAdjust="spacingAndGlyphs">-3</text>
<text x="309.60" y="452.40" font-size="6.6" fill="#222" textLength="20.20" lengthAdjust="spacingAndGlyphs">center</text>
<text x="330.50" y="452.40" font-size="6.6" fill="#222" textLength="11.90" lengthAdjust="spacingAndGlyphs">3Kb</text>
<text x="297.90" y="459.20" font-size="5.0" fill="#222" textLength="43.60" lengthAdjust="spacingAndGlyphs">gene distance(bp)</text>
<g>
<rect x="346.9" y="283.20" width="46.2" height="1.8" fill="url(#g81)"/>
<rect x="346.9" y="285.00" width="46.2" height="2" fill="url(#g82)"/>
<rect x="346.9" y="287.00" width="46.2" height="2" fill="url(#g83)"/>
<rect x="346.9" y="289.00" width="46.2" height="2" fill="url(#g84)"/>
<rect x="346.9" y="291.00" width="46.2" height="2" fill="url(#g85)"/>
<rect x="346.9" y="293.00" width="46.2" height="2" fill="url(#g86)"/>
<rect x="346.9" y="295.00" width="46.2" height="2" fill="url(#g87)"/>
<rect x="346.9" y="297.00" width="46.2" height="2" fill="url(#g88)"/>
<rect x="346.9" y="299.00" width="46.2" height="2" fill="url(#g89)"/>
<rect x="346.9" y="301.00" width="46.2" height="2" fill="url(#g90)"/>
<rect x="346.9" y="303.00" width="46.2" height="2" fill="url(#g91)"/>
<rect x="346.9" y="305.00" width="46.2" height="2" fill="url(#g92)"/>
<rect x="346.9" y="307.00" width="46.2" height="2" fill="url(#g93)"/>
<rect x="346.9" y="309.00" width="46.2" height="2" fill="url(#g94)"/>
<rect x="346.9" y="311.00" width="46.2" height="2" fill="url(#g95)"/>
<rect x="346.9" y="313.00" width="46.2" height="2" fill="url(#g96)"/>
<rect x="346.9" y="315.00" width="46.2" height="2" fill="url(#g97)"/>
<rect x="346.9" y="317.00" width="46.2" height="2" fill="url(#g98)"/>
<rect x="346.9" y="319.00" width="46.2" height="2" fill="url(#g99)"/>
<rect x="346.9" y="321.00" width="46.2" height="2" fill="url(#g100)"/>
<rect x="346.9" y="323.00" width="46.2" height="2" fill="url(#g101)"/>
<rect x="346.9" y="325.00" width="46.2" height="2" fill="url(#g102)"/>
<rect x="346.9" y="327.00" width="46.2" height="2" fill="url(#g103)"/>
<rect x="346.9" y="329.00" width="46.2" height="2" fill="url(#g104)"/>
<rect x="346.9" y="331.00" width="46.2" height="2" fill="url(#g105)"/>
<rect x="346.9" y="333.00" width="46.2" height="2" fill="url(#g106)"/>
<rect x="346.9" y="335.00" width="46.2" height="2" fill="url(#g107)"/>
<rect x="346.9" y="337.00" width="46.2" height="2" fill="url(#g108)"/>
<rect x="346.9" y="339.00" width="46.2" height="2" fill="url(#g109)"/>
<rect x="346.9" y="341.00" width="46.2" height="2" fill="url(#g110)"/>
<rect x="346.9" y="343.00" width="46.2" height="2" fill="url(#g111)"/>
<rect x="346.9" y="345.00" width="46.2" height="2" fill="url(#g112)"/>
<rect x="346.9" y="347.00" width="46.2" height="2" fill="url(#g113)"/>
<rect x="346.9" y="349.00" width="46.2" height="2" fill="url(#g114)"/>
<rect x="346.9" y="351.00" width="46.2" height="2" fill="url(#g115)"/>
<rect x="346.9" y="353.00" width="46.2" height="2" fill="url(#g116)"/>
<rect x="346.9" y="355.00" width="46.2" height="2" fill="url(#g117)"/>
<rect x="346.9" y="357.00" width="46.2" height="2" fill="url(#g118)"/>
<rect x="346.9" y="359.00" width="46.2" height="2" fill="url(#g119)"/>
<rect x="346.9" y="361.00" width="46.2" height="2" fill="url(#g120)"/>
<rect x="346.9" y="363.00" width="46.2" height="2" fill="url(#g121)"/>
<rect x="346.9" y="365.00" width="46.2" height="2" fill="url(#g122)"/>
<rect x="346.9" y="367.00" width="46.2" height="2" fill="url(#g123)"/>
<rect x="346.9" y="369.00" width="46.2" height="2" fill="url(#g124)"/>
<rect x="346.9" y="371.00" width="46.2" height="2" fill="url(#g125)"/>
<rect x="346.9" y="373.00" width="46.2" height="2" fill="url(#g126)"/>
<rect x="346.9" y="375.00" width="46.2" height="2" fill="url(#g127)"/>
<rect x="346.9" y="377.00" width="46.2" height="2" fill="url(#g128)"/>
<rect x="346.9" y="379.00" width="46.2" height="2" fill="url(#g129)"/>
<rect x="346.9" y="381.00" width="46.2" height="2" fill="url(#g130)"/>
<rect x="346.9" y="383.00" width="46.2" height="2" fill="url(#g131)"/>
<rect x="346.9" y="385.00" width="46.2" height="2" fill="url(#g132)"/>
<rect x="346.9" y="387.00" width="46.2" height="2" fill="url(#g133)"/>
<rect x="346.9" y="389.00" width="46.2" height="2" fill="url(#g134)"/>
<rect x="346.9" y="391.00" width="46.2" height="2" fill="url(#g135)"/>
<rect x="346.9" y="393.00" width="46.2" height="2" fill="url(#g136)"/>
<rect x="346.9" y="395.00" width="46.2" height="2" fill="url(#g137)"/>
<rect x="346.9" y="397.00" width="46.2" height="2" fill="url(#g138)"/>
<rect x="346.9" y="399.00" width="46.2" height="2" fill="url(#g139)"/>
<rect x="346.9" y="401.00" width="46.2" height="2" fill="url(#g140)"/>
<rect x="346.9" y="403.00" width="46.2" height="2" fill="url(#g141)"/>
<rect x="346.9" y="405.00" width="46.2" height="2" fill="url(#g142)"/>
<rect x="346.9" y="407.00" width="46.2" height="2" fill="url(#g143)"/>
<rect x="346.9" y="409.00" width="46.2" height="2" fill="url(#g144)"/>
<rect x="346.9" y="411.00" width="46.2" height="2" fill="url(#g145)"/>
<rect x="346.9" y="413.00" width="46.2" height="2" fill="url(#g146)"/>
<rect x="346.9" y="415.00" width="46.2" height="2" fill="url(#g147)"/>
<rect x="346.9" y="417.00" width="46.2" height="2" fill="url(#g148)"/>
<rect x="346.9" y="419.00" width="46.2" height="2" fill="url(#g149)"/>
<rect x="346.9" y="421.00" width="46.2" height="2" fill="url(#g150)"/>
<rect x="346.9" y="423.00" width="46.2" height="2" fill="url(#g151)"/>
<rect x="346.9" y="425.00" width="46.2" height="2" fill="url(#g152)"/>
<rect x="346.9" y="427.00" width="46.2" height="2" fill="url(#g153)"/>
<rect x="346.9" y="429.00" width="46.2" height="2" fill="url(#g154)"/>
<rect x="346.9" y="431.00" width="46.2" height="2" fill="url(#g155)"/>
<rect x="346.9" y="433.00" width="46.2" height="2" fill="url(#g156)"/>
<rect x="346.9" y="435.00" width="46.2" height="2" fill="url(#g157)"/>
<rect x="346.9" y="437.00" width="46.2" height="2" fill="url(#g158)"/>
<rect x="346.9" y="439.00" width="46.2" height="2" fill="url(#g159)"/>
<rect x="346.9" y="441.00" width="46.2" height="2.4" fill="url(#g160)"/>
</g>
<rect x="346.9" y="283.2" width="46.2" height="160.20" fill="none" stroke="#3a3a3a" stroke-width="0.6"/>
<line x1="346.9" y1="283.4" x2="393.09999999999997" y2="283.4" stroke="#333" stroke-width="0.7" opacity="0.7"/>
<line x1="346.90" y1="443.4" x2="346.90" y2="445.59999999999997" stroke="#111" stroke-width="0.8"/>
<line x1="370.00" y1="443.4" x2="370.00" y2="445.59999999999997" stroke="#111" stroke-width="0.8"/>
<line x1="393.10" y1="443.4" x2="393.10" y2="445.59999999999997" stroke="#111" stroke-width="0.8"/>
<text x="346.60" y="452.40" font-size="6.6" fill="#222" textLength="6.00" lengthAdjust="spacingAndGlyphs">-3</text>
<text x="360.10" y="452.40" font-size="6.6" fill="#222" textLength="20.20" lengthAdjust="spacingAndGlyphs">center</text>
<text x="381.00" y="452.40" font-size="6.6" fill="#222" textLength="11.90" lengthAdjust="spacingAndGlyphs">3Kb</text>
<text x="348.40" y="459.20" font-size="5.0" fill="#222" textLength="43.60" lengthAdjust="spacingAndGlyphs">gene distance(bp)</text>
<g>
<rect x="397.3" y="283.20" width="46.2" height="1.8" fill="url(#g161)"/>
<rect x="397.3" y="285.00" width="46.2" height="2" fill="url(#g162)"/>
<rect x="397.3" y="287.00" width="46.2" height="2" fill="url(#g163)"/>
<rect x="397.3" y="289.00" width="46.2" height="2" fill="url(#g164)"/>
<rect x="397.3" y="291.00" width="46.2" height="2" fill="url(#g165)"/>
<rect x="397.3" y="293.00" width="46.2" height="2" fill="url(#g166)"/>
<rect x="397.3" y="295.00" width="46.2" height="2" fill="url(#g167)"/>
<rect x="397.3" y="297.00" width="46.2" height="2" fill="url(#g168)"/>
<rect x="397.3" y="299.00" width="46.2" height="2" fill="url(#g169)"/>
<rect x="397.3" y="301.00" width="46.2" height="2" fill="url(#g170)"/>
<rect x="397.3" y="303.00" width="46.2" height="2" fill="url(#g171)"/>
<rect x="397.3" y="305.00" width="46.2" height="2" fill="url(#g172)"/>
<rect x="397.3" y="307.00" width="46.2" height="2" fill="url(#g173)"/>
<rect x="397.3" y="309.00" width="46.2" height="2" fill="url(#g174)"/>
<rect x="397.3" y="311.00" width="46.2" height="2" fill="url(#g175)"/>
<rect x="397.3" y="313.00" width="46.2" height="2" fill="url(#g176)"/>
<rect x="397.3" y="315.00" width="46.2" height="2" fill="url(#g177)"/>
<rect x="397.3" y="317.00" width="46.2" height="2" fill="url(#g178)"/>
<rect x="397.3" y="319.00" width="46.2" height="2" fill="url(#g179)"/>
<rect x="397.3" y="321.00" width="46.2" height="2" fill="url(#g180)"/>
<rect x="397.3" y="323.00" width="46.2" height="2" fill="url(#g181)"/>
<rect x="397.3" y="325.00" width="46.2" height="2" fill="url(#g182)"/>
<rect x="397.3" y="327.00" width="46.2" height="2" fill="url(#g183)"/>
<rect x="397.3" y="329.00" width="46.2" height="2" fill="url(#g184)"/>
<rect x="397.3" y="331.00" width="46.2" height="2" fill="url(#g185)"/>
<rect x="397.3" y="333.00" width="46.2" height="2" fill="url(#g186)"/>
<rect x="397.3" y="335.00" width="46.2" height="2" fill="url(#g187)"/>
<rect x="397.3" y="337.00" width="46.2" height="2" fill="url(#g188)"/>
<rect x="397.3" y="339.00" width="46.2" height="2" fill="url(#g189)"/>
<rect x="397.3" y="341.00" width="46.2" height="2" fill="url(#g190)"/>
<rect x="397.3" y="343.00" width="46.2" height="2" fill="url(#g191)"/>
<rect x="397.3" y="345.00" width="46.2" height="2" fill="url(#g192)"/>
<rect x="397.3" y="347.00" width="46.2" height="2" fill="url(#g193)"/>
<rect x="397.3" y="349.00" width="46.2" height="2" fill="url(#g194)"/>
<rect x="397.3" y="351.00" width="46.2" height="2" fill="url(#g195)"/>
<rect x="397.3" y="353.00" width="46.2" height="2" fill="url(#g196)"/>
<rect x="397.3" y="355.00" width="46.2" height="2" fill="url(#g197)"/>
<rect x="397.3" y="357.00" width="46.2" height="2" fill="url(#g198)"/>
<rect x="397.3" y="359.00" width="46.2" height="2" fill="url(#g199)"/>
<rect x="397.3" y="361.00" width="46.2" height="2" fill="url(#g200)"/>
<rect x="397.3" y="363.00" width="46.2" height="2" fill="url(#g201)"/>
<rect x="397.3" y="365.00" width="46.2" height="2" fill="url(#g202)"/>
<rect x="397.3" y="367.00" width="46.2" height="2" fill="url(#g203)"/>
<rect x="397.3" y="369.00" width="46.2" height="2" fill="url(#g204)"/>
<rect x="397.3" y="371.00" width="46.2" height="2" fill="url(#g205)"/>
<rect x="397.3" y="373.00" width="46.2" height="2" fill="url(#g206)"/>
<rect x="397.3" y="375.00" width="46.2" height="2" fill="url(#g207)"/>
<rect x="397.3" y="377.00" width="46.2" height="2" fill="url(#g208)"/>
<rect x="397.3" y="379.00" width="46.2" height="2" fill="url(#g209)"/>
<rect x="397.3" y="381.00" width="46.2" height="2" fill="url(#g210)"/>
<rect x="397.3" y="383.00" width="46.2" height="2" fill="url(#g211)"/>
<rect x="397.3" y="385.00" width="46.2" height="2" fill="url(#g212)"/>
<rect x="397.3" y="387.00" width="46.2" height="2" fill="url(#g213)"/>
<rect x="397.3" y="389.00" width="46.2" height="2" fill="url(#g214)"/>
<rect x="397.3" y="391.00" width="46.2" height="2" fill="url(#g215)"/>
<rect x="397.3" y="393.00" width="46.2" height="2" fill="url(#g216)"/>
<rect x="397.3" y="395.00" width="46.2" height="2" fill="url(#g217)"/>
<rect x="397.3" y="397.00" width="46.2" height="2" fill="url(#g218)"/>
<rect x="397.3" y="399.00" width="46.2" height="2" fill="url(#g219)"/>
<rect x="397.3" y="401.00" width="46.2" height="2" fill="url(#g220)"/>
<rect x="397.3" y="403.00" width="46.2" height="2" fill="url(#g221)"/>
<rect x="397.3" y="405.00" width="46.2" height="2" fill="url(#g222)"/>
<rect x="397.3" y="407.00" width="46.2" height="2" fill="url(#g223)"/>
<rect x="397.3" y="409.00" width="46.2" height="2" fill="url(#g224)"/>
<rect x="397.3" y="411.00" width="46.2" height="2" fill="url(#g225)"/>
<rect x="397.3" y="413.00" width="46.2" height="2" fill="url(#g226)"/>
<rect x="397.3" y="415.00" width="46.2" height="2" fill="url(#g227)"/>
<rect x="397.3" y="417.00" width="46.2" height="2" fill="url(#g228)"/>
<rect x="397.3" y="419.00" width="46.2" height="2" fill="url(#g229)"/>
<rect x="397.3" y="421.00" width="46.2" height="2" fill="url(#g230)"/>
<rect x="397.3" y="423.00" width="46.2" height="2" fill="url(#g231)"/>
<rect x="397.3" y="425.00" width="46.2" height="2" fill="url(#g232)"/>
<rect x="397.3" y="427.00" width="46.2" height="2" fill="url(#g233)"/>
<rect x="397.3" y="429.00" width="46.2" height="2" fill="url(#g234)"/>
<rect x="397.3" y="431.00" width="46.2" height="2" fill="url(#g235)"/>
<rect x="397.3" y="433.00" width="46.2" height="2" fill="url(#g236)"/>
<rect x="397.3" y="435.00" width="46.2" height="2" fill="url(#g237)"/>
<rect x="397.3" y="437.00" width="46.2" height="2" fill="url(#g238)"/>
<rect x="397.3" y="439.00" width="46.2" height="2" fill="url(#g239)"/>
<rect x="397.3" y="441.00" width="46.2" height="2.4" fill="url(#g240)"/>
</g>
<rect x="397.3" y="283.2" width="46.2" height="160.20" fill="none" stroke="#3a3a3a" stroke-width="0.6"/>
<line x1="397.3" y1="283.4" x2="443.5" y2="283.4" stroke="#333" stroke-width="0.7" opacity="0.7"/>
<line x1="397.30" y1="443.4" x2="397.30" y2="445.59999999999997" stroke="#111" stroke-width="0.8"/>
<line x1="420.40" y1="443.4" x2="420.40" y2="445.59999999999997" stroke="#111" stroke-width="0.8"/>
<line x1="443.50" y1="443.4" x2="443.50" y2="445.59999999999997" stroke="#111" stroke-width="0.8"/>
<text x="397.00" y="452.40" font-size="6.6" fill="#222" textLength="6.00" lengthAdjust="spacingAndGlyphs">-3</text>
<text x="410.50" y="452.40" font-size="6.6" fill="#222" textLength="20.20" lengthAdjust="spacingAndGlyphs">center</text>
<text x="431.40" y="452.40" font-size="6.6" fill="#222" textLength="11.90" lengthAdjust="spacingAndGlyphs">3Kb</text>
<text x="398.80" y="459.20" font-size="5.0" fill="#222" textLength="43.60" lengthAdjust="spacingAndGlyphs">gene distance(bp)</text>
<g>
<rect x="447.6" y="283.20" width="46.2" height="1.8" fill="url(#g241)"/>
<rect x="447.6" y="285.00" width="46.2" height="2" fill="url(#g242)"/>
<rect x="447.6" y="287.00" width="46.2" height="2" fill="url(#g243)"/>
<rect x="447.6" y="289.00" width="46.2" height="2" fill="url(#g244)"/>
<rect x="447.6" y="291.00" width="46.2" height="2" fill="url(#g245)"/>
<rect x="447.6" y="293.00" width="46.2" height="2" fill="url(#g246)"/>
<rect x="447.6" y="295.00" width="46.2" height="2" fill="url(#g247)"/>
<rect x="447.6" y="297.00" width="46.2" height="2" fill="url(#g248)"/>
<rect x="447.6" y="299.00" width="46.2" height="2" fill="url(#g249)"/>
<rect x="447.6" y="301.00" width="46.2" height="2" fill="url(#g250)"/>
<rect x="447.6" y="303.00" width="46.2" height="2" fill="url(#g251)"/>
<rect x="447.6" y="305.00" width="46.2" height="2" fill="url(#g252)"/>
<rect x="447.6" y="307.00" width="46.2" height="2" fill="url(#g253)"/>
<rect x="447.6" y="309.00" width="46.2" height="2" fill="url(#g254)"/>
<rect x="447.6" y="311.00" width="46.2" height="2" fill="url(#g255)"/>
<rect x="447.6" y="313.00" width="46.2" height="2" fill="url(#g256)"/>
<rect x="447.6" y="315.00" width="46.2" height="2" fill="url(#g257)"/>
<rect x="447.6" y="317.00" width="46.2" height="2" fill="url(#g258)"/>
<rect x="447.6" y="319.00" width="46.2" height="2" fill="url(#g259)"/>
<rect x="447.6" y="321.00" width="46.2" height="2" fill="url(#g260)"/>
<rect x="447.6" y="323.00" width="46.2" height="2" fill="url(#g261)"/>
<rect x="447.6" y="325.00" width="46.2" height="2" fill="url(#g262)"/>
<rect x="447.6" y="327.00" width="46.2" height="2" fill="url(#g263)"/>
<rect x="447.6" y="329.00" width="46.2" height="2" fill="url(#g264)"/>
<rect x="447.6" y="331.00" width="46.2" height="2" fill="url(#g265)"/>
<rect x="447.6" y="333.00" width="46.2" height="2" fill="url(#g266)"/>
<rect x="447.6" y="335.00" width="46.2" height="2" fill="url(#g267)"/>
<rect x="447.6" y="337.00" width="46.2" height="2" fill="url(#g268)"/>
<rect x="447.6" y="339.00" width="46.2" height="2" fill="url(#g269)"/>
<rect x="447.6" y="341.00" width="46.2" height="2" fill="url(#g270)"/>
<rect x="447.6" y="343.00" width="46.2" height="2" fill="url(#g271)"/>
<rect x="447.6" y="345.00" width="46.2" height="2" fill="url(#g272)"/>
<rect x="447.6" y="347.00" width="46.2" height="2" fill="url(#g273)"/>
<rect x="447.6" y="349.00" width="46.2" height="2" fill="url(#g274)"/>
<rect x="447.6" y="351.00" width="46.2" height="2" fill="url(#g275)"/>
<rect x="447.6" y="353.00" width="46.2" height="2" fill="url(#g276)"/>
<rect x="447.6" y="355.00" width="46.2" height="2" fill="url(#g277)"/>
<rect x="447.6" y="357.00" width="46.2" height="2" fill="url(#g278)"/>
<rect x="447.6" y="359.00" width="46.2" height="2" fill="url(#g279)"/>
<rect x="447.6" y="361.00" width="46.2" height="2" fill="url(#g280)"/>
<rect x="447.6" y="363.00" width="46.2" height="2" fill="url(#g281)"/>
<rect x="447.6" y="365.00" width="46.2" height="2" fill="url(#g282)"/>
<rect x="447.6" y="367.00" width="46.2" height="2" fill="url(#g283)"/>
<rect x="447.6" y="369.00" width="46.2" height="2" fill="url(#g284)"/>
<rect x="447.6" y="371.00" width="46.2" height="2" fill="url(#g285)"/>
<rect x="447.6" y="373.00" width="46.2" height="2" fill="url(#g286)"/>
<rect x="447.6" y="375.00" width="46.2" height="2" fill="url(#g287)"/>
<rect x="447.6" y="377.00" width="46.2" height="2" fill="url(#g288)"/>
<rect x="447.6" y="379.00" width="46.2" height="2" fill="url(#g289)"/>
<rect x="447.6" y="381.00" width="46.2" height="2" fill="url(#g290)"/>
<rect x="447.6" y="383.00" width="46.2" height="2" fill="url(#g291)"/>
<rect x="447.6" y="385.00" width="46.2" height="2" fill="url(#g292)"/>
<rect x="447.6" y="387.00" width="46.2" height="2" fill="url(#g293)"/>
<rect x="447.6" y="389.00" width="46.2" height="2" fill="url(#g294)"/>
<rect x="447.6" y="391.00" width="46.2" height="2" fill="url(#g295)"/>
<rect x="447.6" y="393.00" width="46.2" height="2" fill="url(#g296)"/>
<rect x="447.6" y="395.00" width="46.2" height="2" fill="url(#g297)"/>
<rect x="447.6" y="397.00" width="46.2" height="2" fill="url(#g298)"/>
<rect x="447.6" y="399.00" width="46.2" height="2" fill="url(#g299)"/>
<rect x="447.6" y="401.00" width="46.2" height="2" fill="url(#g300)"/>
<rect x="447.6" y="403.00" width="46.2" height="2" fill="url(#g301)"/>
<rect x="447.6" y="405.00" width="46.2" height="2" fill="url(#g302)"/>
<rect x="447.6" y="407.00" width="46.2" height="2" fill="url(#g303)"/>
<rect x="447.6" y="409.00" width="46.2" height="2" fill="url(#g304)"/>
<rect x="447.6" y="411.00" width="46.2" height="2" fill="url(#g305)"/>
<rect x="447.6" y="413.00" width="46.2" height="2" fill="url(#g306)"/>
<rect x="447.6" y="415.00" width="46.2" height="2" fill="url(#g307)"/>
<rect x="447.6" y="417.00" width="46.2" height="2" fill="url(#g308)"/>
<rect x="447.6" y="419.00" width="46.2" height="2" fill="url(#g309)"/>
<rect x="447.6" y="421.00" width="46.2" height="2" fill="url(#g310)"/>
<rect x="447.6" y="423.00" width="46.2" height="2" fill="url(#g311)"/>
<rect x="447.6" y="425.00" width="46.2" height="2" fill="url(#g312)"/>
<rect x="447.6" y="427.00" width="46.2" height="2" fill="url(#g313)"/>
<rect x="447.6" y="429.00" width="46.2" height="2" fill="url(#g314)"/>
<rect x="447.6" y="431.00" width="46.2" height="2" fill="url(#g315)"/>
<rect x="447.6" y="433.00" width="46.2" height="2" fill="url(#g316)"/>
<rect x="447.6" y="435.00" width="46.2" height="2" fill="url(#g317)"/>
<rect x="447.6" y="437.00" width="46.2" height="2" fill="url(#g318)"/>
<rect x="447.6" y="439.00" width="46.2" height="2" fill="url(#g319)"/>
<rect x="447.6" y="441.00" width="46.2" height="2.4" fill="url(#g320)"/>
</g>
<rect x="447.6" y="283.2" width="46.2" height="160.20" fill="none" stroke="#3a3a3a" stroke-width="0.6"/>
<line x1="447.6" y1="283.4" x2="493.8" y2="283.4" stroke="#333" stroke-width="0.7" opacity="0.7"/>
<line x1="447.60" y1="443.4" x2="447.60" y2="445.59999999999997" stroke="#111" stroke-width="0.8"/>
<line x1="470.70" y1="443.4" x2="470.70" y2="445.59999999999997" stroke="#111" stroke-width="0.8"/>
<line x1="493.80" y1="443.4" x2="493.80" y2="445.59999999999997" stroke="#111" stroke-width="0.8"/>
<text x="447.30" y="452.40" font-size="6.6" fill="#222" textLength="6.00" lengthAdjust="spacingAndGlyphs">-3</text>
<text x="460.80" y="452.40" font-size="6.6" fill="#222" textLength="20.20" lengthAdjust="spacingAndGlyphs">center</text>
<text x="481.70" y="452.40" font-size="6.6" fill="#222" textLength="11.90" lengthAdjust="spacingAndGlyphs">3Kb</text>
<text x="449.10" y="459.20" font-size="5.0" fill="#222" textLength="43.60" lengthAdjust="spacingAndGlyphs">gene distance(bp)</text>
<rect x="497.3" y="283.3" width="4.7" height="159.4" fill="url(#cb)"/>
<line x1="497.1" y1="283.3" x2="497.1" y2="442.7" stroke="#444" stroke-width="0.4"/>
<line x1="502.0" y1="442.50" x2="503.6" y2="442.50" stroke="#111" stroke-width="1"/>
<text x="504.00" y="445.40" font-size="8.2" textLength="4.60" lengthAdjust="spacingAndGlyphs" stroke="#1a1a1a" stroke-width="0.1">0</text>
<line x1="502.0" y1="419.86" x2="503.6" y2="419.86" stroke="#111" stroke-width="1"/>
<text x="504.00" y="422.76" font-size="8.2" textLength="4.60" lengthAdjust="spacingAndGlyphs" stroke="#1a1a1a" stroke-width="0.1">2</text>
<line x1="502.0" y1="397.22" x2="503.6" y2="397.22" stroke="#111" stroke-width="1"/>
<text x="504.00" y="400.12" font-size="8.2" textLength="4.60" lengthAdjust="spacingAndGlyphs" stroke="#1a1a1a" stroke-width="0.1">4</text>
<line x1="502.0" y1="374.58" x2="503.6" y2="374.58" stroke="#111" stroke-width="1"/>
<text x="504.00" y="377.48" font-size="8.2" textLength="4.60" lengthAdjust="spacingAndGlyphs" stroke="#1a1a1a" stroke-width="0.1">6</text>
<line x1="502.0" y1="351.94" x2="503.6" y2="351.94" stroke="#111" stroke-width="1"/>
<text x="504.00" y="354.84" font-size="8.2" textLength="4.60" lengthAdjust="spacingAndGlyphs" stroke="#1a1a1a" stroke-width="0.1">8</text>
<line x1="502.0" y1="329.30" x2="503.6" y2="329.30" stroke="#111" stroke-width="1"/>
<text x="504.00" y="332.20" font-size="8.2" textLength="8.60" lengthAdjust="spacingAndGlyphs" stroke="#1a1a1a" stroke-width="0.1">10</text>
<line x1="502.0" y1="306.66" x2="503.6" y2="306.66" stroke="#111" stroke-width="1"/>
<text x="504.00" y="309.56" font-size="8.2" textLength="8.60" lengthAdjust="spacingAndGlyphs" stroke="#1a1a1a" stroke-width="0.1">12</text>
<line x1="502.0" y1="284.02" x2="503.6" y2="284.02" stroke="#111" stroke-width="1"/>
<text x="504.00" y="286.92" font-size="8.2" textLength="8.60" lengthAdjust="spacingAndGlyphs" stroke="#1a1a1a" stroke-width="0.1">14</text>
<line x1="496.8" y1="443.0" x2="502.0" y2="443.0" stroke="#111" stroke-width="0.8"/>
<line x1="405" y1="236.3" x2="411.8" y2="236.3" stroke="#d42020" stroke-width="1.3"/>
<text x="412.90" y="238.90" font-size="7.6" fill="#222" textLength="40.60" lengthAdjust="spacingAndGlyphs">luci_ortho_vs</text>
<text x="412.90" y="246.20" font-size="7.6" fill="#222" textLength="48.40" lengthAdjust="spacingAndGlyphs">HDAC_ortho_up</text>
<text x="454.60" y="238.90" font-size="7.6" fill="#222" textLength="41.60" lengthAdjust="spacingAndGlyphs">HDAC_ortho_</text>
<text x="297.00" y="227.50" font-size="8.0" fill="#222" textLength="50.20" lengthAdjust="spacingAndGlyphs">HDAC_Ortho_ATAC</text>
<polyline points="299.20,273.80 299.97,273.77 300.74,273.74 301.51,273.71 302.28,273.67 303.05,273.63 303.82,273.58 304.59,273.52 305.36,273.46 306.13,273.39 306.90,273.31 307.67,273.22 308.44,273.11 309.21,272.98 309.98,272.83 310.75,272.65 311.52,272.44 312.29,272.17 313.06,271.85 313.83,271.44 314.60,270.92 315.37,270.25 316.14,269.35 316.30,269.13 316.55,268.76 316.80,268.35 316.91,268.15 317.05,267.89 317.30,267.38 317.55,266.81 317.68,266.49 317.80,266.18 318.05,265.47 318.30,264.68 318.45,264.16 318.55,263.80 318.80,262.80 319.05,261.69 319.22,260.86 319.30,260.45 319.55,259.07 319.80,257.55 319.99,256.29 320.05,255.87 320.30,254.06 320.55,252.14 320.76,250.47 320.80,250.15 321.05,248.17 321.30,246.28 321.53,244.73 321.55,244.61 321.80,243.29 322.05,242.44 322.30,242.15 322.55,242.44 322.80,243.29 323.05,244.61 323.07,244.73 323.30,246.28 323.55,248.17 323.80,250.15 323.84,250.47 324.05,252.14 324.30,254.06 324.55,255.87 324.61,256.29 324.80,257.55 325.05,259.07 325.30,260.45 325.38,260.86 325.55,261.69 325.80,262.80 326.05,263.80 326.15,264.16 326.30,264.68 326.55,265.47 326.80,266.18 326.92,266.49 327.05,266.81 327.30,267.38 327.55,267.89 327.69,268.15 327.80,268.35 328.05,268.76 328.30,269.13 328.46,269.35 329.23,270.25 330.00,270.92 330.77,271.44 331.54,271.85 332.31,272.17 333.08,272.44 333.85,272.65 334.62,272.83 335.39,272.98 336.16,273.11 336.93,273.22 337.70,273.31 338.47,273.39 339.24,273.46 340.01,273.52 340.78,273.58 341.55,273.63 342.32,273.67 343.09,273.71 343.86,273.74 344.63,273.77 345.40,273.80" fill="none" stroke="#d42020" stroke-width="1.3"/>
<rect x="298.5" y="231.5" width="47.6" height="44.10000000000002" fill="none" stroke="#111" stroke-width="1.3"/>
<line x1="296.4" y1="235.0" x2="298.5" y2="235.0" stroke="#111" stroke-width="0.9"/>
<line x1="296.4" y1="245.2" x2="298.5" y2="245.2" stroke="#111" stroke-width="0.9"/>
<line x1="296.4" y1="255.4" x2="298.5" y2="255.4" stroke="#111" stroke-width="0.9"/>
<line x1="296.4" y1="265.5" x2="298.5" y2="265.5" stroke="#111" stroke-width="0.9"/>
<line x1="297.5" y1="231.5" x2="297.5" y2="275.6" stroke="#777" stroke-width="0.4"/>
<line x1="298.50" y1="275.6" x2="298.50" y2="277.1" stroke="#111" stroke-width="0.8"/>
<line x1="322.30" y1="275.6" x2="322.30" y2="277.1" stroke="#111" stroke-width="0.8"/>
<line x1="346.10" y1="275.6" x2="346.10" y2="277.1" stroke="#111" stroke-width="0.8"/>
<text x="296.10" y="281.60" font-size="6.6" fill="#222" textLength="6.30" lengthAdjust="spacingAndGlyphs">-3</text>
<text x="309.80" y="281.60" font-size="6.6" fill="#222" textLength="18.70" lengthAdjust="spacingAndGlyphs">center</text>
<text x="330.80" y="281.60" font-size="6.6" fill="#222" textLength="12.50" lengthAdjust="spacingAndGlyphs">3Kb</text>
<text x="351.80" y="227.50" font-size="8.0" fill="#222" textLength="46.20" lengthAdjust="spacingAndGlyphs">Luci_Ortho_ATAC</text>
<polyline points="350.95,274.02 351.72,274.01 352.49,273.99 353.26,273.98 354.03,273.96 354.80,273.94 355.57,273.92 356.34,273.90 357.11,273.87 357.88,273.84 358.65,273.80 359.42,273.76 360.19,273.71 360.96,273.65 361.73,273.58 362.50,273.50 363.27,273.41 364.04,273.29 364.81,273.14 365.58,272.96 366.35,272.72 367.12,272.42 367.89,272.01 368.05,271.92 368.30,271.75 368.55,271.56 368.66,271.47 368.80,271.35 369.05,271.12 369.30,270.87 369.43,270.72 369.55,270.58 369.80,270.26 370.05,269.91 370.20,269.67 370.30,269.51 370.55,269.06 370.80,268.56 370.97,268.19 371.05,268.00 371.30,267.38 371.55,266.69 371.74,266.12 371.80,265.94 372.05,265.12 372.30,264.26 372.51,263.50 372.55,263.36 372.80,262.46 373.05,261.61 373.28,260.92 373.30,260.86 373.55,260.27 373.80,259.88 374.05,259.75 374.30,259.88 374.55,260.27 374.80,260.86 374.82,260.92 375.05,261.61 375.30,262.46 375.55,263.36 375.59,263.50 375.80,264.26 376.05,265.12 376.30,265.94 376.36,266.12 376.55,266.69 376.80,267.38 377.05,268.00 377.13,268.19 377.30,268.56 377.55,269.06 377.80,269.51 377.90,269.67 378.05,269.91 378.30,270.26 378.55,270.58 378.67,270.72 378.80,270.87 379.05,271.12 379.30,271.35 379.44,271.47 379.55,271.56 379.80,271.75 380.05,271.92 380.21,272.01 380.98,272.42 381.75,272.72 382.52,272.96 383.29,273.14 384.06,273.29 384.83,273.41 385.60,273.50 386.37,273.58 387.14,273.65 387.91,273.71 388.68,273.76 389.45,273.80 390.22,273.84 390.99,273.87 391.76,273.90 392.53,273.92 393.30,273.94 394.07,273.96 394.84,273.98 395.61,273.99 396.38,274.01 397.15,274.02" fill="none" stroke="#d42020" stroke-width="1.3"/>
<rect x="350.25" y="231.5" width="47.6" height="44.10000000000002" fill="none" stroke="#111" stroke-width="1.3"/>
<line x1="348.15" y1="235.0" x2="350.25" y2="235.0" stroke="#111" stroke-width="0.9"/>
<line x1="348.15" y1="245.2" x2="350.25" y2="245.2" stroke="#111" stroke-width="0.9"/>
<line x1="348.15" y1="255.4" x2="350.25" y2="255.4" stroke="#111" stroke-width="0.9"/>
<line x1="348.15" y1="265.5" x2="350.25" y2="265.5" stroke="#111" stroke-width="0.9"/>
<line x1="349.25" y1="231.5" x2="349.25" y2="275.6" stroke="#777" stroke-width="0.4"/>
<line x1="350.25" y1="275.6" x2="350.25" y2="277.1" stroke="#111" stroke-width="0.8"/>
<line x1="374.05" y1="275.6" x2="374.05" y2="277.1" stroke="#111" stroke-width="0.8"/>
<line x1="397.85" y1="275.6" x2="397.85" y2="277.1" stroke="#111" stroke-width="0.8"/>
<text x="348.00" y="281.60" font-size="6.6" fill="#222" textLength="6.40" lengthAdjust="spacingAndGlyphs">-3</text>
<text x="360.70" y="281.60" font-size="6.6" fill="#222" textLength="18.60" lengthAdjust="spacingAndGlyphs">center</text>
<text x="381.50" y="281.60" font-size="6.6" fill="#222" textLength="12.00" lengthAdjust="spacingAndGlyphs">3Kb</text>
<text x="402.60" y="227.50" font-size="8.0" fill="#222" textLength="46.20" lengthAdjust="spacingAndGlyphs">HDAC_Poly_ATAC</text>
<polyline points="402.55,273.84 403.32,273.81 404.09,273.78 404.86,273.75 405.63,273.72 406.40,273.68 407.17,273.63 407.94,273.58 408.71,273.53 409.48,273.46 410.25,273.39 411.02,273.30 411.79,273.20 412.56,273.09 413.33,272.95 414.10,272.78 414.87,272.58 415.64,272.33 416.41,272.02 417.18,271.64 417.95,271.14 418.72,270.49 419.49,269.61 419.65,269.39 419.90,269.02 420.15,268.61 420.26,268.41 420.40,268.14 420.65,267.62 420.90,267.04 421.03,266.70 421.15,266.38 421.40,265.63 421.65,264.78 421.80,264.22 421.90,263.82 422.15,262.72 422.40,261.46 422.57,260.50 422.65,260.02 422.90,258.38 423.15,256.50 423.34,254.91 423.40,254.38 423.65,252.00 423.90,249.36 424.11,246.99 424.15,246.52 424.40,243.55 424.65,240.59 424.88,238.08 424.90,237.87 425.15,235.64 425.40,234.17 425.65,233.65 425.90,234.17 426.15,235.64 426.40,237.87 426.42,238.08 426.65,240.59 426.90,243.55 427.15,246.52 427.19,246.99 427.40,249.36 427.65,252.00 427.90,254.38 427.96,254.91 428.15,256.50 428.40,258.38 428.65,260.02 428.73,260.50 428.90,261.46 429.15,262.72 429.40,263.82 429.50,264.22 429.65,264.78 429.90,265.63 430.15,266.38 430.27,266.70 430.40,267.04 430.65,267.62 430.90,268.14 431.04,268.41 431.15,268.61 431.40,269.02 431.65,269.39 431.81,269.61 432.58,270.49 433.35,271.14 434.12,271.64 434.89,272.02 435.66,272.33 436.43,272.58 437.20,272.78 437.97,272.95 438.74,273.09 439.51,273.20 440.28,273.30 441.05,273.39 441.82,273.46 442.59,273.53 443.36,273.58 444.13,273.63 444.90,273.68 445.67,273.72 446.44,273.75 447.21,273.78 447.98,273.81 448.75,273.84" fill="none" stroke="#d42020" stroke-width="1.3"/>
<rect x="401.85" y="231.5" width="47.6" height="44.10000000000002" fill="none" stroke="#111" stroke-width="1.3"/>
<line x1="399.75" y1="235.0" x2="401.85" y2="235.0" stroke="#111" stroke-width="0.9"/>
<line x1="399.75" y1="245.2" x2="401.85" y2="245.2" stroke="#111" stroke-width="0.9"/>
<line x1="399.75" y1="255.4" x2="401.85" y2="255.4" stroke="#111" stroke-width="0.9"/>
<line x1="399.75" y1="265.5" x2="401.85" y2="265.5" stroke="#111" stroke-width="0.9"/>
<line x1="400.85" y1="231.5" x2="400.85" y2="275.6" stroke="#777" stroke-width="0.4"/>
<line x1="401.85" y1="275.6" x2="401.85" y2="277.1" stroke="#111" stroke-width="0.8"/>
<line x1="425.65" y1="275.6" x2="425.65" y2="277.1" stroke="#111" stroke-width="0.8"/>
<line x1="449.45" y1="275.6" x2="449.45" y2="277.1" stroke="#111" stroke-width="0.8"/>
<text x="400.00" y="281.60" font-size="6.6" fill="#222" textLength="4.70" lengthAdjust="spacingAndGlyphs">-3</text>
<text x="410.00" y="281.60" font-size="6.6" fill="#222" textLength="18.90" lengthAdjust="spacingAndGlyphs">center</text>
<text x="431.40" y="281.60" font-size="6.6" fill="#222" textLength="12.10" lengthAdjust="spacingAndGlyphs">3Kb</text>
<text x="456.10" y="227.50" font-size="8.0" fill="#222" textLength="41.80" lengthAdjust="spacingAndGlyphs">Luci_Poly_ATAC</text>
<polyline points="454.30,273.92 455.07,273.91 455.84,273.88 456.61,273.86 457.38,273.83 458.15,273.80 458.92,273.77 459.69,273.73 460.46,273.69 461.23,273.64 462.00,273.59 462.77,273.52 463.54,273.45 464.31,273.36 465.08,273.26 465.85,273.14 466.62,272.99 467.39,272.81 468.16,272.58 468.93,272.30 469.70,271.94 470.47,271.48 471.24,270.87 471.40,270.71 471.65,270.46 471.90,270.17 472.01,270.04 472.15,269.86 472.40,269.51 472.65,269.12 472.78,268.90 472.90,268.68 473.15,268.20 473.40,267.65 473.55,267.29 473.65,267.04 473.90,266.36 474.15,265.60 474.32,265.03 474.40,264.74 474.65,263.79 474.90,262.74 475.09,261.88 475.15,261.59 475.40,260.35 475.65,259.02 475.86,257.88 475.90,257.66 476.15,256.29 476.40,254.99 476.63,253.93 476.65,253.84 476.90,252.94 477.15,252.35 477.40,252.15 477.65,252.35 477.90,252.94 478.15,253.84 478.17,253.93 478.40,254.99 478.65,256.29 478.90,257.66 478.94,257.88 479.15,259.02 479.40,260.35 479.65,261.59 479.71,261.88 479.90,262.74 480.15,263.79 480.40,264.74 480.48,265.03 480.65,265.60 480.90,266.36 481.15,267.04 481.25,267.29 481.40,267.65 481.65,268.20 481.90,268.68 482.02,268.90 482.15,269.12 482.40,269.51 482.65,269.86 482.79,270.04 482.90,270.17 483.15,270.46 483.40,270.71 483.56,270.87 484.33,271.48 485.10,271.94 485.87,272.30 486.64,272.58 487.41,272.81 488.18,272.99 488.95,273.14 489.72,273.26 490.49,273.36 491.26,273.45 492.03,273.52 492.80,273.59 493.57,273.64 494.34,273.69 495.11,273.73 495.88,273.77 496.65,273.80 497.42,273.83 498.19,273.86 498.96,273.88 499.73,273.91 500.50,273.92" fill="none" stroke="#d42020" stroke-width="1.3"/>
<rect x="453.6" y="231.5" width="47.6" height="44.10000000000002" fill="none" stroke="#111" stroke-width="1.3"/>
<line x1="451.5" y1="235.0" x2="453.6" y2="235.0" stroke="#111" stroke-width="0.9"/>
<line x1="451.5" y1="245.2" x2="453.6" y2="245.2" stroke="#111" stroke-width="0.9"/>
<line x1="451.5" y1="255.4" x2="453.6" y2="255.4" stroke="#111" stroke-width="0.9"/>
<line x1="451.5" y1="265.5" x2="453.6" y2="265.5" stroke="#111" stroke-width="0.9"/>
<line x1="452.6" y1="231.5" x2="452.6" y2="275.6" stroke="#777" stroke-width="0.4"/>
<line x1="453.60" y1="275.6" x2="453.60" y2="277.1" stroke="#111" stroke-width="0.8"/>
<line x1="477.40" y1="275.6" x2="477.40" y2="277.1" stroke="#111" stroke-width="0.8"/>
<line x1="501.20" y1="275.6" x2="501.20" y2="277.1" stroke="#111" stroke-width="0.8"/>
<text x="450.80" y="281.60" font-size="6.6" fill="#222" textLength="6.30" lengthAdjust="spacingAndGlyphs">-3</text>
<text x="464.30" y="281.60" font-size="6.6" fill="#222" textLength="18.80" lengthAdjust="spacingAndGlyphs">center</text>
<text x="485.60" y="281.60" font-size="6.6" fill="#222" textLength="11.50" lengthAdjust="spacingAndGlyphs">3Kb</text>
<text x="286.10" y="433.80" font-size="10.4" fill="#222" textLength="142.50" lengthAdjust="spacingAndGlyphs" transform="rotate(-90 286.10 433.80)">Luci Ortho VS.HDAC Ortho HDAC Ortho Up</text>
<rect x="0" y="0" width="520" height="1.6" fill="#000"/>
<rect x="0" y="0" width="1.8" height="468" fill="#000"/>
<rect x="518.2" y="0" width="1.8" height="468" fill="#000"/>
<rect x="0" y="465.7" width="520" height="2.3" fill="#000"/></svg></body></html>
